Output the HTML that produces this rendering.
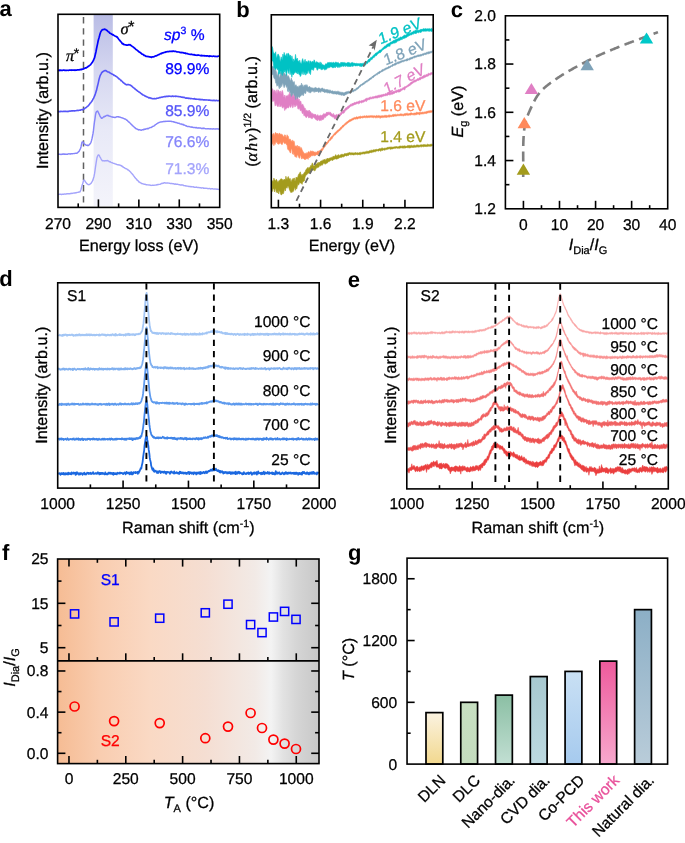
<!DOCTYPE html>
<html><head><meta charset="utf-8"><style>
html,body{margin:0;padding:0;background:#fff;width:685px;height:843px;overflow:hidden}
svg{display:block;will-change:transform} text{text-rendering:geometricPrecision}
</style></head><body>
<svg width="685" height="843" viewBox="0 0 685 843">
<defs><linearGradient id="gband" x1="0" y1="0" x2="0" y2="1"><stop offset="0" stop-color="#b9bce5"/><stop offset="0.3" stop-color="#d5d7f0"/><stop offset="0.6" stop-color="#e8e9f7"/><stop offset="1" stop-color="#f4f4fb"/></linearGradient><linearGradient id="gf" x1="0" y1="0" x2="1" y2="0"><stop offset="0.0000" stop-color="#f6bc94"/><stop offset="0.1622" stop-color="#f9cdb0"/><stop offset="0.3535" stop-color="#fad9c4"/><stop offset="0.5639" stop-color="#f5ded2"/><stop offset="0.7552" stop-color="#f2eae6"/><stop offset="0.8164" stop-color="#f3f3f3"/><stop offset="0.8623" stop-color="#e2e2e2"/><stop offset="0.9158" stop-color="#d5d5d5"/><stop offset="1.0008" stop-color="#c8c8c8"/></linearGradient><linearGradient id="gb0" x1="0" y1="0" x2="0" y2="1"><stop offset="0" stop-color="#fbf3e1"/><stop offset="1" stop-color="#f2d88e"/></linearGradient><linearGradient id="gb1" x1="0" y1="0" x2="0" y2="1"><stop offset="0" stop-color="#c7dfc1"/><stop offset="1" stop-color="#c4dcbe"/></linearGradient><linearGradient id="gb2" x1="0" y1="0" x2="0" y2="1"><stop offset="0" stop-color="#8bbfa4"/><stop offset="1" stop-color="#c2dfd3"/></linearGradient><linearGradient id="gb3" x1="0" y1="0" x2="0" y2="1"><stop offset="0" stop-color="#a7c8cf"/><stop offset="1" stop-color="#bddae1"/></linearGradient><linearGradient id="gb4" x1="0" y1="0" x2="0" y2="1"><stop offset="0" stop-color="#c9e0f4"/><stop offset="1" stop-color="#a6caee"/></linearGradient><linearGradient id="gb5" x1="0" y1="0" x2="0" y2="1"><stop offset="0" stop-color="#ee5a9c"/><stop offset="1" stop-color="#f7a8cd"/></linearGradient><linearGradient id="gb6" x1="0" y1="0" x2="0" y2="1"><stop offset="0" stop-color="#8cafc6"/><stop offset="1" stop-color="#b9ccd9"/></linearGradient></defs>
<rect x="93.6" y="14.3" width="19.2" height="191.6" fill="url(#gband)"/>
<line x1="83.5" y1="17" x2="83.5" y2="206.4" stroke="#606060" stroke-width="1.5" stroke-dasharray="6.4,4.8"/>
<path d="M58,194.4L58.5,194.44 59,194.35 59.5,194.25 60,194.31 60.5,194.21 61,194.35 61.5,194.52 62,194.23 62.5,194.18 63,194.32 63.5,194.27 64,194.2 64.5,194.01 65,194.11 65.5,194.18 66,193.84 66.5,193.93 67,193.68 67.5,193.73 68,193.6 68.5,193.8 69,193.6 69.5,193.79 70,193.72 70.5,193.62 71,193.22 71.5,193.45 72,193.46 72.5,193.41 73,193.09 73.5,193.16 74,193 74.5,192.93 75,193.11 75.5,192.73 76,192.74 76.5,192.77 77,192.44 77.5,192.4 78,192.32 78.5,192.2 79,191.89 79.5,191.93 80,191.9 80.5,190.69 81,189.53 81.5,187.53 82,185.55 82.5,184.4 83,182.5 83.5,180.67 84,180.04 84.5,180.35 85,181.05 85.5,182.1 86,182.6 86.5,183.24 87,183.87 87.5,184 88,184.49 88.5,184.59 89,184.7 89.5,184.34 90,184.12 90.5,183.74 91,183.37 91.5,182.82 92,181.77 92.5,180.89 93,179.86 93.5,177.96 94,176.43 94.5,173.9 95,170.6 95.5,166.9 96,163.65 96.5,160.48 97,157.71 97.5,156.33 98,155.31 98.5,154.9 99,155.13 99.5,155.91 100,157.02 100.5,157.78 101,158.76 101.5,159.52 102,160.46 102.5,160.82 103,160.8 103.5,160.9 104,160.75 104.5,160.96 105,160.8 105.5,160.89 106,160.61 106.5,160.85 107,160.55 107.5,160.55 108,160.92 108.5,161 109,161.37 109.5,161.91 110,161.69 110.5,161.97 111,162.33 111.5,162.57 112,162.67 112.5,162.86 113,163.2 113.5,163.37 114,163.34 114.5,163.68 115,163.89 115.5,163.91 116,164.27 116.5,164.26 117,164.67 117.5,164.68 118,164.78 118.5,164.79 119,164.99 119.5,164.84 120,165.13 120.5,165.53 121,165.39 121.5,166.11 122,166.02 122.5,166.72 123,166.81 123.5,167.38 124,167.59 124.5,167.62 125,168.3 125.5,168.56 126,168.58 126.5,168.8 127,169.09 127.5,169.29 128,169.96 128.5,170.11 129,170.62 129.5,170.97 130,171.48 130.5,171.88 131,172.77 131.5,173.08 132,173.82 132.5,174.29 133,174.84 133.5,175.56 134,176.21 134.5,176.97 135,177.56 135.5,178.19 136,178.59 136.5,179.2 137,180.1 137.5,180.28 138,180.74 138.5,181.44 139,182.06 139.5,182.04 140,182.58 140.5,182.81 141,182.87 141.5,183.45 142,183.53 142.5,183.72 143,183.76 143.5,184.09 144,184.08 144.5,184.27 145,184.24 145.5,184.33 146,184.8 146.5,184.61 147,184.8 147.5,184.83 148,184.84 148.5,184.91 149,185.14 149.5,185.06 150,185.14 150.5,185.22 151,185.43 151.5,185.38 152,185.35 152.5,185.22 153,185.08 153.5,185.4 154,185.36 154.5,185.14 155,185.17 155.5,185.13 156,185.05 156.5,184.97 157,184.67 157.5,184.86 158,184.34 158.5,184.55 159,184.38 159.5,184.33 160,184.38 160.5,184.2 161,183.65 161.5,183.4 162,183.6 162.5,183.16 163,183.17 163.5,183.19 164,182.76 164.5,182.68 165,183.05 165.5,183.03 166,183.01 166.5,183.08 167,182.98 167.5,182.92 168,183.17 168.5,183.09 169,183.04 169.5,183.42 170,183.39 170.5,183.52 171,183.37 171.5,183.48 172,183.5 172.5,183.57 173,183.8 173.5,183.71 174,183.94 174.5,184 175,184.31 175.5,183.87 176,184.28 176.5,184.21 177,184.3 177.5,184.17 178,184.4 178.5,184.67 179,184.63 179.5,184.74 180,184.78 180.5,185.09 181,185.01 181.5,184.77 182,185.09 182.5,185 183,184.9 183.5,185.4 184,185.77 184.5,185.67 185,185.58 185.5,185.7 186,186.1 186.5,186.04 187,186.11 187.5,186.17 188,186.26 188.5,186.45 189,186.48 189.5,186.5 190,186.38 190.5,186.68 191,186.56 191.5,186.89 192,186.6 192.5,186.83 193,186.91 193.5,186.78 194,187.29 194.5,187.31 195,187.08 195.5,187.33 196,187.33 196.5,186.93 197,187.42 197.5,187.43 198,187.5 198.5,187.38 199,187.56 199.5,187.63 200,187.88 200.5,187.81 201,187.81 201.5,188.09 202,187.83 202.5,187.9 203,187.74 203.5,188.3 204,188.25 204.5,188.3 205,188.31 205.5,188.27 206,188.34 206.5,188.31 207,188.37 207.5,188.45 208,188.72 208.5,188.62 209,188.57 209.5,188.54 210,188.58 210.5,188.96 211,188.84 211.5,188.81 212,188.79 212.5,188.72 213,188.92 213.5,189.1 214,188.96 214.5,189.02 215,189.06 215.5,189.15 216,188.94 216.5,189.18 217,189.12 217.5,189.42 218,189.21 218.5,189.45 219,189.63" fill="none" stroke="#a4a4fb" stroke-width="1.4" stroke-linejoin="round"/>
<path d="M58,154.25L58.5,154.21 59,154.33 59.5,154.29 60,154.14 60.5,154.35 61,154.57 61.5,154.22 62,154.21 62.5,154.07 63,154.26 63.5,154.01 64,154.02 64.5,154.36 65,154.01 65.5,154.29 66,154.33 66.5,154.12 67,154.14 67.5,154.32 68,153.98 68.5,153.89 69,153.75 69.5,153.93 70,154.12 70.5,154.01 71,153.7 71.5,153.67 72,153.69 72.5,153.76 73,153.63 73.5,153.64 74,153.59 74.5,153.43 75,153.38 75.5,153.33 76,153.19 76.5,153.14 77,153.16 77.5,152.72 78,152.32 78.5,151.69 79,151.56 79.5,150.49 80,149.46 80.5,148.47 81,146.92 81.5,144.45 82,142.18 82.5,141.95 83,142 83.5,142.45 84,143.58 84.5,144.22 85,144.47 85.5,144.71 86,145.12 86.5,145.29 87,145.27 87.5,145.52 88,145.27 88.5,145.4 89,145.03 89.5,144.57 90,143.77 90.5,143.28 91,142.2 91.5,140.63 92,138.68 92.5,136.27 93,133.64 93.5,130.15 94,125.59 94.5,121.69 95,118.54 95.5,114.9 96,112.55 96.5,111.64 97,111.3 97.5,111.04 98,111.74 98.5,112.75 99,113.8 99.5,114.82 100,116.08 100.5,117 101,117.42 101.5,118.29 102,118.12 102.5,117.99 103,117.38 103.5,117 104,116.5 104.5,116.78 105,116.16 105.5,116.22 106,115.69 106.5,115.65 107,115.28 107.5,115.44 108,115.71 108.5,115.51 109,116.05 109.5,116.16 110,116.18 110.5,116.49 111,116.69 111.5,116.89 112,116.94 112.5,117.01 113,117.2 113.5,117.19 114,117.23 114.5,117.47 115,117.63 115.5,117.18 116,117.2 116.5,116.86 117,116.61 117.5,116.83 118,116.66 118.5,117.04 119,116.82 119.5,117.13 120,117.19 120.5,117.27 121,117.62 121.5,117.65 122,117.92 122.5,117.99 123,118.02 123.5,118.35 124,118.58 124.5,118.94 125,118.9 125.5,119.29 126,119.35 126.5,120.07 127,120.22 127.5,120.55 128,121.27 128.5,121.91 129,121.97 129.5,122.5 130,123.04 130.5,123.48 131,124.21 131.5,124.53 132,125.03 132.5,125.7 133,125.95 133.5,126.6 134,126.87 134.5,127.28 135,127.61 135.5,128.53 136,128.5 136.5,128.83 137,129.02 137.5,129.28 138,129.48 138.5,129.95 139,129.67 139.5,129.72 140,129.9 140.5,129.9 141,130.21 141.5,130.18 142,129.85 142.5,129.7 143,129.75 143.5,129.89 144,129.13 144.5,129.5 145,129.14 145.5,129.33 146,128.89 146.5,128.89 147,128.58 147.5,128.52 148,128.73 148.5,128.49 149,128.15 149.5,127.91 150,127.58 150.5,127.62 151,127.48 151.5,127.25 152,127 152.5,126.56 153,126.4 153.5,126.08 154,125.94 154.5,125.68 155,125.04 155.5,124.63 156,124.43 156.5,124.03 157,123.67 157.5,123.43 158,122.95 158.5,122.9 159,122.52 159.5,122.37 160,122.17 160.5,122 161,121.88 161.5,121.91 162,121.78 162.5,121.83 163,121.73 163.5,121.46 164,121.61 164.5,121.35 165,121.41 165.5,121.41 166,121.11 166.5,121.4 167,121.38 167.5,121.31 168,121.25 168.5,121.25 169,121.15 169.5,121.26 170,121.24 170.5,121.37 171,121.23 171.5,121.52 172,121.58 172.5,121.64 173,121.69 173.5,121.96 174,121.75 174.5,122.19 175,122.29 175.5,122.44 176,122.59 176.5,122.58 177,122.78 177.5,123.06 178,123.17 178.5,123.27 179,123.15 179.5,123.59 180,123.83 180.5,123.96 181,124.01 181.5,123.91 182,124.46 182.5,124.48 183,124.31 183.5,124.93 184,124.84 184.5,125.06 185,125.34 185.5,125.8 186,125.73 186.5,125.99 187,126.37 187.5,126.49 188,126.36 188.5,126.46 189,126.41 189.5,126.59 190,126.85 190.5,126.93 191,126.98 191.5,127.2 192,127.02 192.5,127.21 193,127.41 193.5,127.47 194,127.62 194.5,127.59 195,127.56 195.5,127.73 196,127.59 196.5,127.56 197,127.96 197.5,127.93 198,128.04 198.5,127.8 199,128.05 199.5,128.07 200,128.08 200.5,127.92 201,128.25 201.5,128.47 202,128.44 202.5,128.32 203,128.45 203.5,128.59 204,128.09 204.5,128.51 205,128.64 205.5,128.69 206,128.86 206.5,128.8 207,128.7 207.5,128.73 208,128.82 208.5,128.65 209,128.74 209.5,128.91 210,129.09 210.5,128.79 211,128.83 211.5,128.88 212,129.07 212.5,128.88 213,129.12 213.5,128.77 214,128.9 214.5,128.91 215,129.07 215.5,129.12 216,128.75 216.5,128.84 217,129.04 217.5,128.89 218,128.77 218.5,129.16 219,129.07" fill="none" stroke="#8585fa" stroke-width="1.45" stroke-linejoin="round"/>
<path d="M58,111.67L58.5,111.52 59,111.74 59.5,111.53 60,111.72 60.5,111.41 61,111.4 61.5,111.54 62,111.39 62.5,111.58 63,111.49 63.5,111.3 64,111.42 64.5,111.34 65,111.5 65.5,111.25 66,111.25 66.5,111.47 67,111.6 67.5,111.54 68,111.22 68.5,111.22 69,111.39 69.5,111.11 70,110.95 70.5,111.09 71,111.11 71.5,110.89 72,110.74 72.5,110.74 73,111.02 73.5,110.77 74,110.83 74.5,110.84 75,110.87 75.5,110.68 76,110.76 76.5,110.51 77,110.53 77.5,110.38 78,110.65 78.5,110.41 79,110.24 79.5,110.22 80,110.17 80.5,110.21 81,109.74 81.5,109.68 82,109.6 82.5,109.85 83,109.4 83.5,109.02 84,108.91 84.5,108.85 85,108.2 85.5,107.84 86,107.7 86.5,107.2 87,106.8 87.5,106.18 88,106.08 88.5,105.56 89,104.87 89.5,104.33 90,103.35 90.5,103.13 91,102.35 91.5,101.76 92,101.06 92.5,100.13 93,99.11 93.5,98.49 94,97.28 94.5,96.18 95,94.87 95.5,93.53 96,91.72 96.5,90.37 97,88.1 97.5,86.03 98,84.08 98.5,81.83 99,79.53 99.5,77.73 100,76.03 100.5,74.92 101,74.04 101.5,72.88 102,72.53 102.5,71.71 103,71.61 103.5,71.24 104,70.94 104.5,70.78 105,70.62 105.5,70.64 106,70.59 106.5,71.02 107,71.52 107.5,71.77 108,71.9 108.5,72.05 109,72.12 109.5,72.74 110,72.84 110.5,73.17 111,73.45 111.5,73.81 112,74.02 112.5,74.34 113,74.45 113.5,74.81 114,75.47 114.5,75.38 115,75.63 115.5,76.04 116,76.37 116.5,76.44 117,76.95 117.5,77.53 118,77.86 118.5,78.27 119,78.93 119.5,79.03 120,79.57 120.5,79.93 121,80.69 121.5,80.63 122,81.29 122.5,81.77 123,82.39 123.5,82.8 124,83.32 124.5,83.24 125,83.98 125.5,84.22 126,84.49 126.5,84.86 127,84.66 127.5,84.49 128,84.74 128.5,84.58 129,84.7 129.5,84.86 130,84.92 130.5,85.39 131,85.54 131.5,85.83 132,86.45 132.5,86.88 133,87.22 133.5,87.85 134,88.08 134.5,88.26 135,89.04 135.5,89.31 136,89.76 136.5,90.1 137,90.56 137.5,90.84 138,91.39 138.5,91.64 139,92.01 139.5,92.39 140,92.49 140.5,93.07 141,93.44 141.5,93.89 142,94.02 142.5,94.81 143,94.92 143.5,95.03 144,95.24 144.5,95.71 145,95.99 145.5,96.14 146,96.49 146.5,96.6 147,97 147.5,97.01 148,97.3 148.5,97.64 149,98.05 149.5,97.67 150,97.9 150.5,97.99 151,98.38 151.5,98.24 152,98.48 152.5,98.68 153,98.64 153.5,98.71 154,98.83 154.5,98.58 155,98.64 155.5,98.72 156,98.71 156.5,98.54 157,98.17 157.5,98.22 158,98.26 158.5,98.07 159,97.84 159.5,97.58 160,97.69 160.5,97.4 161,97.2 161.5,97.13 162,97.34 162.5,97.03 163,97.05 163.5,96.69 164,96.8 164.5,96.48 165,96.47 165.5,96.81 166,96.52 166.5,96.3 167,96.34 167.5,96.39 168,96.5 168.5,96.23 169,96.02 169.5,96.23 170,96.26 170.5,96.26 171,96.43 171.5,96.27 172,96.34 172.5,96.04 173,96.33 173.5,96.52 174,96.32 174.5,96.24 175,96.24 175.5,96.51 176,96.13 176.5,96.29 177,96.42 177.5,96.52 178,96.4 178.5,96.58 179,96.56 179.5,96.7 180,96.74 180.5,96.67 181,96.93 181.5,97.15 182,96.97 182.5,97.17 183,97.4 183.5,97.24 184,97.52 184.5,97.42 185,97.85 185.5,98.11 186,98.16 186.5,97.91 187,98.13 187.5,98.12 188,98.19 188.5,98.47 189,98.1 189.5,98.52 190,98.41 190.5,98.69 191,98.56 191.5,98.49 192,98.69 192.5,98.82 193,98.77 193.5,98.89 194,98.8 194.5,98.61 195,99.12 195.5,99.14 196,99.11 196.5,99.15 197,99.35 197.5,99.18 198,99.19 198.5,99.32 199,99.57 199.5,99.23 200,99.67 200.5,99.44 201,99.41 201.5,99.81 202,99.64 202.5,99.5 203,99.68 203.5,99.91 204,99.99 204.5,99.78 205,99.94 205.5,100.02 206,99.85 206.5,100.03 207,100 207.5,99.96 208,100 208.5,100.11 209,100.14 209.5,100.08 210,100.13 210.5,100.39 211,100.28 211.5,100.41 212,100.49 212.5,100.42 213,100.7 213.5,100.26 214,100.53 214.5,100.38 215,100.73 215.5,100.73 216,100.2 216.5,100.37 217,100.63 217.5,100.67 218,100.68 218.5,100.57 219,100.67" fill="none" stroke="#5555f8" stroke-width="1.6" stroke-linejoin="round"/>
<path d="M58,70.5L58.5,70.39 59,70.55 59.5,70.05 60,70.48 60.5,70.23 61,70.52 61.5,70.33 62,70.23 62.5,70.41 63,70.21 63.5,70.2 64,70.09 64.5,70.32 65,70.39 65.5,70.45 66,70.27 66.5,70.44 67,70.27 67.5,70.24 68,70.33 68.5,70.39 69,70.17 69.5,70.18 70,70.18 70.5,70.2 71,70.04 71.5,70.32 72,70.09 72.5,70.21 73,70 73.5,70.17 74,70.16 74.5,70.02 75,70.37 75.5,70.1 76,70.3 76.5,70.15 77,69.89 77.5,69.9 78,70 78.5,69.91 79,69.88 79.5,69.79 80,69.53 80.5,69.71 81,69.33 81.5,69.61 82,69.32 82.5,69.18 83,69.1 83.5,69.01 84,68.59 84.5,68.35 85,68.24 85.5,67.85 86,67.75 86.5,67.84 87,67.14 87.5,67.08 88,66.44 88.5,66.33 89,65.86 89.5,65.48 90,65.13 90.5,64.82 91,64.06 91.5,63.47 92,62.66 92.5,62.13 93,61.12 93.5,60.27 94,58.98 94.5,57.94 95,55.75 95.5,53.81 96,51.48 96.5,48.75 97,46.33 97.5,44.07 98,41.54 98.5,39.49 99,37.81 99.5,35.92 100,33.96 100.5,32.5 101,31.35 101.5,30.75 102,30.04 102.5,29.7 103,29.65 103.5,29.48 104,29.25 104.5,29.21 105,29.3 105.5,29.64 106,29.67 106.5,30.39 107,30.46 107.5,30.96 108,31.58 108.5,31.92 109,32.05 109.5,32.81 110,33.28 110.5,33.36 111,33.65 111.5,34.07 112,34.14 112.5,34.87 113,34.56 113.5,35.02 114,35.41 114.5,35.67 115,35.95 115.5,36.19 116,36.37 116.5,36.87 117,36.74 117.5,37.56 118,38.07 118.5,38.88 119,39.57 119.5,40.03 120,40.64 120.5,41.43 121,41.95 121.5,42.36 122,43.29 122.5,43.78 123,43.57 123.5,44.1 124,44.68 124.5,44.65 125,44.78 125.5,44.88 126,44.95 126.5,45.06 127,45.01 127.5,45.16 128,44.91 128.5,44.83 129,44.65 129.5,44.79 130,44.72 130.5,45.03 131,45.53 131.5,45.8 132,46.22 132.5,46.58 133,46.89 133.5,47.25 134,47.63 134.5,48.21 135,48.37 135.5,49.17 136,49.41 136.5,49.72 137,50.17 137.5,50.53 138,51.06 138.5,51.33 139,52 139.5,52.11 140,52.27 140.5,52.87 141,53.02 141.5,53.65 142,54.12 142.5,54.35 143,54.34 143.5,54.71 144,55.37 144.5,55.41 145,55.6 145.5,55.98 146,56.38 146.5,56.37 147,56.33 147.5,56.51 148,56.68 148.5,56.62 149,56.67 149.5,56.94 150,56.87 150.5,57.06 151,57.11 151.5,57.44 152,56.92 152.5,56.96 153,56.85 153.5,56.81 154,56.76 154.5,56.38 155,56.17 155.5,55.88 156,55.83 156.5,55.86 157,55.57 157.5,55.17 158,55.02 158.5,54.82 159,54.63 159.5,54.23 160,54.06 160.5,53.62 161,53.52 161.5,53.73 162,52.96 162.5,53.04 163,52.94 163.5,52.67 164,52.45 164.5,52.42 165,52.3 165.5,52.17 166,51.78 166.5,51.93 167,51.7 167.5,51.64 168,51.65 168.5,51.62 169,51.57 169.5,51.28 170,51.43 170.5,51.42 171,51.38 171.5,51.41 172,51.18 172.5,51.19 173,51.37 173.5,51.08 174,51.37 174.5,51.31 175,51.4 175.5,51.27 176,51.47 176.5,51.69 177,51.91 177.5,52.01 178,51.94 178.5,52.02 179,52.02 179.5,52.3 180,52.29 180.5,52.51 181,52.77 181.5,52.58 182,52.44 182.5,52.62 183,52.61 183.5,52.74 184,53.21 184.5,53.14 185,52.98 185.5,53.4 186,53.59 186.5,53.45 187,53.5 187.5,53.65 188,53.84 188.5,53.99 189,54.17 189.5,54.27 190,54.36 190.5,54.47 191,54.46 191.5,54.21 192,54.5 192.5,54.65 193,54.61 193.5,54.87 194,54.75 194.5,54.72 195,55.13 195.5,55.07 196,55.06 196.5,55.22 197,55.3 197.5,55.24 198,54.87 198.5,55.19 199,55.27 199.5,55.24 200,55.46 200.5,55.65 201,55.45 201.5,55.39 202,55.91 202.5,55.57 203,55.49 203.5,55.75 204,55.81 204.5,55.68 205,55.94 205.5,55.78 206,55.74 206.5,55.93 207,56.05 207.5,55.86 208,56.04 208.5,56 209,56.46 209.5,55.96 210,56.3 210.5,56.11 211,56.12 211.5,56.27 212,56.32 212.5,56.39 213,56.27 213.5,56.16 214,56.18 214.5,56.36 215,56.39 215.5,56.53 216,56.4 216.5,56.51 217,56.59 217.5,56.4 218,56.16 218.5,56.21 219,56.18" fill="none" stroke="#0000ff" stroke-width="1.7" stroke-linejoin="round"/>
<rect x="58" y="14.3" width="161.7" height="193.1" fill="none" stroke="#000" stroke-width="1.6"/>
<line x1="78.21" y1="207.4" x2="78.21" y2="203.4" stroke="#000" stroke-width="1.6" />
<line x1="98.42" y1="207.4" x2="98.42" y2="199.4" stroke="#000" stroke-width="1.6" />
<line x1="118.64" y1="207.4" x2="118.64" y2="203.4" stroke="#000" stroke-width="1.6" />
<line x1="138.85" y1="207.4" x2="138.85" y2="199.4" stroke="#000" stroke-width="1.6" />
<line x1="159.06" y1="207.4" x2="159.06" y2="203.4" stroke="#000" stroke-width="1.6" />
<line x1="179.28" y1="207.4" x2="179.28" y2="199.4" stroke="#000" stroke-width="1.6" />
<line x1="199.49" y1="207.4" x2="199.49" y2="203.4" stroke="#000" stroke-width="1.6" />
<text x="58" y="228.6" font-family='"Liberation Sans", sans-serif' font-size="15.6" text-anchor="middle" fill="#000" font-weight="normal" font-style="normal"  stroke="#000" stroke-width="0.28">270</text>
<text x="98.42" y="228.6" font-family='"Liberation Sans", sans-serif' font-size="15.6" text-anchor="middle" fill="#000" font-weight="normal" font-style="normal"  stroke="#000" stroke-width="0.28">290</text>
<text x="138.85" y="228.6" font-family='"Liberation Sans", sans-serif' font-size="15.6" text-anchor="middle" fill="#000" font-weight="normal" font-style="normal"  stroke="#000" stroke-width="0.28">310</text>
<text x="179.28" y="228.6" font-family='"Liberation Sans", sans-serif' font-size="15.6" text-anchor="middle" fill="#000" font-weight="normal" font-style="normal"  stroke="#000" stroke-width="0.28">330</text>
<text x="219.7" y="228.6" font-family='"Liberation Sans", sans-serif' font-size="15.6" text-anchor="middle" fill="#000" font-weight="normal" font-style="normal"  stroke="#000" stroke-width="0.28">350</text>
<text x="138.8" y="250.8" font-family='"Liberation Sans", sans-serif' font-size="16.2" text-anchor="middle" fill="#000" font-weight="normal" font-style="normal"  stroke="#000" stroke-width="0.28">Energy loss (eV)</text>
<text x="47.5" y="110.5" font-family='"Liberation Sans", sans-serif' font-size="16.2" text-anchor="middle" fill="#000" font-weight="normal" font-style="normal" transform="rotate(-90 47.5 110.5)" dominant-baseline="auto" stroke="#000" stroke-width="0.28">Intensity (arb.u.)</text>
<text x="164" y="39.5" font-family='"Liberation Sans", sans-serif' font-size="15.6" fill="#0000ff" stroke="#0000ff" stroke-width="0.28"><tspan font-style="italic">sp</tspan><tspan font-size="10.5" dy="-5.5">3</tspan><tspan dy="5.5"> %</tspan></text>
<text x="165.2" y="73.6" font-family='"Liberation Sans", sans-serif' font-size="15.6" text-anchor="start" fill="#0000ff" font-weight="normal" font-style="normal"  stroke="#0000ff" stroke-width="0.28">89.9%</text>
<text x="165.2" y="116" font-family='"Liberation Sans", sans-serif' font-size="15.6" text-anchor="start" fill="#5555f8" font-weight="normal" font-style="normal"  stroke="#5555f8" stroke-width="0.28">85.9%</text>
<text x="165.2" y="146.7" font-family='"Liberation Sans", sans-serif' font-size="15.6" text-anchor="start" fill="#8585fa" font-weight="normal" font-style="normal"  stroke="#8585fa" stroke-width="0.28">76.6%</text>
<text x="165.2" y="174.4" font-family='"Liberation Sans", sans-serif' font-size="15.6" text-anchor="start" fill="#a4a4fb" font-weight="normal" font-style="normal"  stroke="#a4a4fb" stroke-width="0.28">71.3%</text>
<text x="66" y="61" font-family='"Liberation Serif", serif' font-size="16.5" font-style="italic" fill="#000" stroke="#000" stroke-width="0.28">π<tspan font-family='"Liberation Sans", sans-serif' font-style="normal" font-size="14" dx="-0.5" dy="-3">*</tspan></text>
<text x="120.5" y="34.3" font-family='"Liberation Serif", serif' font-size="16.5" font-style="italic" fill="#000" stroke="#000" stroke-width="0.28">σ<tspan font-family='"Liberation Sans", sans-serif' font-style="normal" font-size="16" dx="-0.3" dy="-2">*</tspan></text>
<text x="-0.4" y="16.3" font-family='"Liberation Sans", sans-serif' font-size="22" text-anchor="start" fill="#000" font-weight="bold" font-style="normal" >a</text>
<path d="M272.1,181.92 L272.7,180.57 L273.3,181.76 L273.9,178.09 L274.5,179.75 L275.1,180.28 L275.7,181.02 L276.3,179.15 L276.9,180.25 L277.5,181.8 L278.1,182.53 L278.7,180.97 L279.3,180.22 L279.9,180.72 L280.5,178.96 L281.1,178.99 L281.7,178.84 L282.3,179.32 L282.9,180.51 L283.5,179.74 L284.1,179.74 L284.7,179.12 L285.3,180.29 L285.9,176.19 L286.5,178.51 L287.1,179.4 L287.7,177.4 L288.3,176.52 L288.9,178.34 L289.5,179.23 L290.1,178.36 L290.7,181.04 L291.3,182 L291.9,179.49 L292.5,179.82 L293.1,178.18 L293.7,180.01 L294.3,177.87 L294.9,180.94 L295.5,180.31 L296.1,176.97 L296.7,177.95 L297.3,177.78 L297.9,176.47 L298.5,174.38 L299.1,173.94 L299.7,172.91 L300.3,171.84 L300.9,174.59 L301.5,175.64 L302.1,174.09 L302.7,175.98 L303.3,173.93 L303.9,173.33 L304.5,172.18 L305.1,172.34 L305.7,170.09 L306.3,169.36 L306.9,168.52 L307.5,167.5 L308.1,168.64 L308.7,167.46 L309.3,167.59 L309.9,167.75 L310.5,165.65 L311.1,165.65 L311.7,164.84 L312.3,162.83 L312.9,164.39 L313.5,166.07 L314.1,166.12 L314.7,165.47 L315.3,164.75 L315.9,163.88 L316.5,164.1 L317.1,163.56 L317.7,162.63 L318.3,163.6 L318.9,162 L319.5,162.85 L320.1,162.16 L320.7,161.03 L321.3,160.83 L321.9,160.99 L322.5,160.86 L323.1,159.66 L323.7,160.35 L324.3,159.15 L324.9,160.05 L325.5,160.26 L326.1,158.78 L326.7,159.66 L327.3,158.07 L327.9,159.05 L328.5,158.66 L329.1,157.98 L329.7,158.13 L330.3,157.75 L330.9,157.9 L331.5,157.26 L332.1,157.57 L332.7,157.09 L333.3,155.95 L333.9,156.62 L334.5,156.45 L335.1,155.75 L335.7,154.6 L336.3,156.02 L336.9,155.83 L337.5,155.33 L338.1,155.16 L338.7,154.48 L339.3,155.67 L339.9,155.51 L340.5,154.7 L341.1,154.62 L341.7,154.28 L342.3,154.27 L342.9,154.5 L343.5,154.64 L344.1,153.67 L344.7,153.7 L345.3,153.66 L345.9,153.4 L346.5,153.53 L347.1,153.42 L347.7,153.06 L348.3,153.02 L348.9,152.73 L349.5,152.49 L350.1,152.56 L350.7,152.95 L351.3,152.96 L351.9,152.51 L352.5,152.94 L353.1,152.61 L353.7,153.18 L354.3,152.89 L354.9,152.84 L355.5,152.6 L356.1,152.55 L356.7,153.14 L357.3,152.76 L357.9,152.75 L358.5,153.11 L359.1,152.51 L359.7,152.66 L360.3,152.25 L360.9,152.78 L361.5,152.39 L362.1,152.44 L362.7,152.06 L363.3,151.97 L363.9,151.93 L364.5,151.97 L365.1,151.72 L365.7,151.72 L366.3,151.19 L366.9,151.43 L367.5,151.31 L368.1,151.37 L368.7,151.25 L369.3,150.56 L369.9,150.96 L370.5,150.39 L371.1,150.49 L371.7,150.05 L372.3,150.58 L372.9,149.83 L373.5,149.84 L374.1,149.88 L374.7,149.64 L375.3,149.51 L375.9,149.61 L376.5,149.34 L377.1,149.55 L377.7,149.6 L378.3,148.96 L378.9,149.02 L379.5,148.56 L380.1,148.98 L380.7,148.43 L381.3,148.18 L381.9,148.15 L382.5,147.99 L383.1,148.54 L383.7,148.43 L384.3,148.28 L384.9,148.07 L385.5,148.17 L386.1,148.05 L386.7,148.06 L387.3,147.22 L387.9,147.6 L388.5,147.3 L389.1,147.35 L389.7,147.04 L390.3,146.91 L390.9,147.18 L391.5,146.99 L392.1,147.28 L392.7,147.07 L393.3,147.06 L393.9,146.94 L394.5,146.87 L395.1,146.62 L395.7,146.76 L396.3,146.72 L396.9,146.27 L397.5,146.88 L398.1,146.84 L398.7,146.76 L399.3,146.06 L399.9,146.21 L400.5,146.09 L401.1,145.87 L401.7,146.43 L402.3,145.82 L402.9,146.33 L403.5,146.07 L404.1,145.9 L404.7,145.76 L405.3,146.17 L405.9,145.95 L406.5,146.26 L407.1,146.02 L407.7,145.42 L408.3,145.44 L408.9,145.67 L409.5,145.46 L410.1,145.33 L410.7,145.76 L411.3,145.2 L411.9,145.6 L412.5,145.8 L413.1,145.46 L413.7,145.38 L414.3,145.26 L414.9,145.25 L415.5,145.72 L416.1,145.2 L416.7,144.94 L417.3,145.11 L417.9,144.83 L418.5,145.17 L419.1,144.89 L419.7,145.39 L420.3,144.74 L420.9,145.08 L421.5,144.68 L422.1,145.09 L422.7,144.81 L423.3,144.59 L423.9,144.65 L424.5,144.69 L425.1,144.36 L425.7,145.03 L426.3,144.98 L426.9,144.57 L427.5,144.2 L428.1,144.37 L428.7,144.63 L429.3,144.75 L429.9,144.42 L430.5,144.35 L431.1,144.31 L431.7,144.14 L432.3,144.38 L432.3,145.75 L431.7,145.94 L431.1,146.33 L430.5,146.3 L429.9,146.34 L429.3,146.3 L428.7,146.22 L428.1,146.29 L427.5,146.53 L426.9,146.27 L426.3,146.63 L425.7,146.37 L425.1,146.99 L424.5,146.29 L423.9,146.68 L423.3,146.71 L422.7,146.58 L422.1,146.5 L421.5,146.96 L420.9,146.56 L420.3,146.79 L419.7,146.69 L419.1,147.17 L418.5,147.12 L417.9,146.87 L417.3,147.1 L416.7,147.15 L416.1,146.87 L415.5,147.35 L414.9,147.14 L414.3,147.35 L413.7,147.45 L413.1,147.39 L412.5,147.47 L411.9,147.58 L411.3,147.26 L410.7,147.91 L410.1,147.63 L409.5,147.92 L408.9,147.65 L408.3,147.7 L407.7,147.52 L407.1,148.05 L406.5,147.41 L405.9,147.88 L405.3,147.91 L404.7,148.14 L404.1,147.57 L403.5,148.23 L402.9,148.08 L402.3,148.01 L401.7,147.74 L401.1,148.1 L400.5,147.99 L399.9,147.99 L399.3,148.44 L398.7,148.11 L398.1,148.55 L397.5,148.29 L396.9,148.1 L396.3,148.12 L395.7,148.18 L395.1,148.5 L394.5,148.28 L393.9,148.58 L393.3,148.4 L392.7,149.05 L392.1,148.92 L391.5,148.97 L390.9,149.09 L390.3,149.41 L389.7,148.86 L389.1,148.84 L388.5,148.98 L387.9,149.07 L387.3,149.38 L386.7,149.62 L386.1,149.52 L385.5,149.8 L384.9,150.05 L384.3,150.28 L383.7,149.75 L383.1,150.21 L382.5,150.51 L381.9,150.39 L381.3,150.23 L380.7,151.41 L380.1,150.52 L379.5,150.4 L378.9,151.07 L378.3,151.13 L377.7,150.76 L377.1,151.12 L376.5,151.11 L375.9,151.49 L375.3,151.83 L374.7,151.5 L374.1,152.14 L373.5,151.9 L372.9,151.85 L372.3,152.44 L371.7,152.54 L371.1,152.79 L370.5,152.38 L369.9,152.65 L369.3,153.24 L368.7,153.28 L368.1,153.26 L367.5,153.18 L366.9,153.54 L366.3,153.31 L365.7,153.59 L365.1,153.68 L364.5,154 L363.9,153.74 L363.3,153.82 L362.7,154.02 L362.1,153.91 L361.5,154.11 L360.9,154.54 L360.3,154.79 L359.7,154.41 L359.1,154.94 L358.5,154.53 L357.9,154.85 L357.3,154.71 L356.7,154.38 L356.1,154.43 L355.5,154.61 L354.9,155.04 L354.3,154.51 L353.7,154.91 L353.1,154.93 L352.5,154.64 L351.9,155.11 L351.3,154.59 L350.7,154.9 L350.1,154.57 L349.5,154.57 L348.9,155.24 L348.3,155.39 L347.7,155.13 L347.1,155.88 L346.5,155.97 L345.9,155.64 L345.3,155.67 L344.7,156.18 L344.1,156.48 L343.5,156.95 L342.9,156.78 L342.3,156.97 L341.7,157.37 L341.1,157.55 L340.5,157.23 L339.9,157.91 L339.3,157.61 L338.7,158.47 L338.1,158.07 L337.5,159.02 L336.9,158.95 L336.3,159.16 L335.7,159.01 L335.1,158.63 L334.5,159.15 L333.9,159.2 L333.3,160.08 L332.7,160.28 L332.1,160.72 L331.5,159.76 L330.9,160.24 L330.3,160.84 L329.7,161.08 L329.1,161.85 L328.5,161.42 L327.9,162.57 L327.3,162.94 L326.7,162.93 L326.1,163.83 L325.5,164.07 L324.9,163.59 L324.3,163.77 L323.7,163.37 L323.1,163.5 L322.5,165.17 L321.9,164.87 L321.3,165.31 L320.7,165.9 L320.1,165.52 L319.5,165.62 L318.9,167.23 L318.3,167.12 L317.7,167.81 L317.1,167.58 L316.5,168 L315.9,168.79 L315.3,170.33 L314.7,171.04 L314.1,170.46 L313.5,170 L312.9,170.49 L312.3,170.37 L311.7,170.87 L311.1,171.73 L310.5,172.85 L309.9,172.88 L309.3,172.69 L308.7,173.1 L308.1,173.2 L307.5,173.89 L306.9,174.57 L306.3,175.16 L305.7,175.75 L305.1,176.92 L304.5,180.8 L303.9,181.03 L303.3,181.68 L302.7,181.64 L302.1,184.41 L301.5,183.32 L300.9,183.21 L300.3,182.94 L299.7,182.07 L299.1,184.08 L298.5,185.22 L297.9,183.47 L297.3,186.62 L296.7,189.06 L296.1,187.03 L295.5,190.27 L294.9,187.55 L294.3,188.13 L293.7,190.85 L293.1,191.74 L292.5,191.34 L291.9,192.65 L291.3,191.97 L290.7,192.41 L290.1,191.12 L289.5,189.95 L288.9,187.89 L288.3,186.29 L287.7,186.1 L287.1,188.28 L286.5,187.57 L285.9,188.34 L285.3,191.04 L284.7,188.22 L284.1,190.85 L283.5,193.62 L282.9,193.85 L282.3,193.49 L281.7,194.76 L281.1,194.98 L280.5,193.73 L279.9,190.84 L279.3,190.98 L278.7,194.02 L278.1,189.46 L277.5,192.93 L276.9,190.14 L276.3,192.49 L275.7,189.19 L275.1,188.52 L274.5,191.97 L273.9,189.49 L273.3,188.59 L272.7,189.41 L272.1,191.69Z" fill="#a39b1c" stroke="#a39b1c" stroke-width="0.6" stroke-linejoin="round"/>
<path d="M272.1,133.94 L272.7,137.04 L273.3,133.22 L273.9,133.78 L274.5,135.94 L275.1,132.87 L275.7,132.49 L276.3,133.14 L276.9,133.95 L277.5,133.14 L278.1,134.71 L278.7,133.86 L279.3,133.22 L279.9,133.34 L280.5,134.57 L281.1,133.93 L281.7,134.38 L282.3,134.54 L282.9,135.56 L283.5,136.44 L284.1,136.73 L284.7,134.77 L285.3,135.02 L285.9,137.27 L286.5,137.38 L287.1,134.74 L287.7,136.36 L288.3,136.29 L288.9,139.42 L289.5,139.33 L290.1,138.93 L290.7,140.06 L291.3,142.1 L291.9,140.46 L292.5,140.16 L293.1,142.42 L293.7,140.75 L294.3,141.71 L294.9,146.82 L295.5,145.91 L296.1,145.77 L296.7,147.12 L297.3,145.13 L297.9,148.17 L298.5,145.98 L299.1,148.23 L299.7,146.35 L300.3,149.49 L300.9,147.29 L301.5,147.99 L302.1,149.7 L302.7,151.32 L303.3,151.78 L303.9,153.26 L304.5,153.38 L305.1,153.17 L305.7,153.45 L306.3,153.67 L306.9,152.49 L307.5,153.86 L308.1,152.05 L308.7,151.44 L309.3,152.19 L309.9,152.53 L310.5,150.81 L311.1,151 L311.7,151.53 L312.3,150.83 L312.9,152.1 L313.5,151.5 L314.1,151.8 L314.7,152.3 L315.3,151.81 L315.9,152.72 L316.5,152.3 L317.1,151.83 L317.7,150.97 L318.3,150.95 L318.9,151.51 L319.5,150.6 L320.1,150.81 L320.7,150.07 L321.3,148.87 L321.9,148.88 L322.5,148.28 L323.1,146.67 L323.7,146.54 L324.3,145.4 L324.9,144.94 L325.5,143.64 L326.1,143.09 L326.7,142.32 L327.3,142.19 L327.9,141.22 L328.5,140.04 L329.1,139.78 L329.7,139.19 L330.3,137.79 L330.9,137.56 L331.5,136.56 L332.1,136.21 L332.7,135.6 L333.3,134.63 L333.9,133.88 L334.5,133.16 L335.1,132.42 L335.7,132.19 L336.3,131.46 L336.9,131.21 L337.5,130.13 L338.1,130.03 L338.7,129.72 L339.3,128.99 L339.9,128.48 L340.5,127.48 L341.1,127.32 L341.7,126.5 L342.3,126.02 L342.9,125.06 L343.5,124.9 L344.1,124.38 L344.7,123.8 L345.3,123.36 L345.9,122.5 L346.5,122.14 L347.1,121.58 L347.7,121.61 L348.3,120.69 L348.9,120.48 L349.5,119.76 L350.1,119.36 L350.7,119.72 L351.3,118.93 L351.9,118.86 L352.5,118.22 L353.1,118.36 L353.7,117.8 L354.3,117.44 L354.9,117.42 L355.5,117.47 L356.1,116.99 L356.7,116.71 L357.3,117.07 L357.9,117.07 L358.5,116.74 L359.1,116.62 L359.7,116.53 L360.3,116.02 L360.9,116.47 L361.5,116.54 L362.1,116.5 L362.7,116.09 L363.3,116.21 L363.9,116 L364.5,115.8 L365.1,116.04 L365.7,116.15 L366.3,115.53 L366.9,116.04 L367.5,115.92 L368.1,116.12 L368.7,115.66 L369.3,115.93 L369.9,115.54 L370.5,115.78 L371.1,115.48 L371.7,115.85 L372.3,115.51 L372.9,116.05 L373.5,115.83 L374.1,115.86 L374.7,115.79 L375.3,115.94 L375.9,115.88 L376.5,115.37 L377.1,116.04 L377.7,115.73 L378.3,115.42 L378.9,115.75 L379.5,115.77 L380.1,115.71 L380.7,116 L381.3,115.95 L381.9,115.57 L382.5,115.65 L383.1,115.92 L383.7,115.71 L384.3,115.31 L384.9,115.86 L385.5,115.37 L386.1,115.22 L386.7,115.47 L387.3,115.7 L387.9,115.4 L388.5,115.11 L389.1,115.13 L389.7,114.92 L390.3,115.11 L390.9,115.4 L391.5,115.31 L392.1,114.66 L392.7,114.78 L393.3,114.43 L393.9,114.4 L394.5,114.49 L395.1,114.45 L395.7,114.25 L396.3,114.65 L396.9,114.44 L397.5,114.18 L398.1,114.22 L398.7,114.44 L399.3,114.27 L399.9,114.37 L400.5,113.8 L401.1,114.24 L401.7,113.85 L402.3,114.16 L402.9,114.15 L403.5,114.17 L404.1,113.89 L404.7,113.49 L405.3,113.39 L405.9,113.62 L406.5,113.34 L407.1,113.45 L407.7,113.18 L408.3,113.7 L408.9,113.61 L409.5,113.56 L410.1,113.1 L410.7,112.97 L411.3,113.04 L411.9,112.85 L412.5,113.51 L413.1,113.35 L413.7,113.3 L414.3,113.11 L414.9,113.03 L415.5,112.94 L416.1,113.07 L416.7,112.03 L417.3,112.56 L417.9,112.38 L418.5,112.81 L419.1,112.11 L419.7,112.58 L420.3,112.39 L420.9,111.95 L421.5,112.43 L422.1,112.14 L422.7,112.11 L423.3,112.22 L423.9,112.17 L424.5,111.96 L425.1,111.64 L425.7,111.89 L426.3,111.69 L426.9,111.03 L427.5,111.28 L428.1,111.34 L428.7,110.71 L429.3,110.8 L429.9,110.98 L430.5,110.5 L431.1,111 L431.7,110.68 L432.3,110.1 L432.3,112.17 L431.7,112.04 L431.1,112.72 L430.5,112.35 L429.9,112.89 L429.3,112.52 L428.7,112.56 L428.1,113.09 L427.5,112.93 L426.9,113.4 L426.3,113.56 L425.7,113.33 L425.1,113.65 L424.5,113.58 L423.9,113.58 L423.3,113.95 L422.7,113.69 L422.1,114.18 L421.5,113.95 L420.9,113.98 L420.3,113.75 L419.7,115.13 L419.1,113.94 L418.5,114.23 L417.9,114.17 L417.3,114.19 L416.7,114.49 L416.1,114.88 L415.5,114.62 L414.9,115.32 L414.3,114.62 L413.7,115.16 L413.1,114.51 L412.5,114.72 L411.9,114.65 L411.3,114.83 L410.7,115.2 L410.1,114.99 L409.5,115.11 L408.9,114.88 L408.3,115.38 L407.7,115.09 L407.1,115.59 L406.5,114.99 L405.9,115.44 L405.3,115.5 L404.7,115.27 L404.1,115.71 L403.5,115.89 L402.9,115.39 L402.3,115.78 L401.7,115.49 L401.1,116.07 L400.5,115.61 L399.9,115.67 L399.3,115.7 L398.7,115.57 L398.1,116.06 L397.5,115.72 L396.9,115.75 L396.3,116.14 L395.7,116.13 L395.1,116.06 L394.5,116.08 L393.9,116.74 L393.3,116.41 L392.7,116.2 L392.1,116.77 L391.5,116.71 L390.9,117.01 L390.3,116.53 L389.7,117.21 L389.1,117.09 L388.5,117.11 L387.9,116.77 L387.3,117.25 L386.7,117.45 L386.1,117.49 L385.5,117.36 L384.9,117.39 L384.3,117.13 L383.7,117.58 L383.1,117.3 L382.5,117.62 L381.9,117.67 L381.3,117.41 L380.7,117.69 L380.1,118.43 L379.5,117.28 L378.9,117.45 L378.3,117.54 L377.7,117.79 L377.1,117.28 L376.5,117.69 L375.9,117.69 L375.3,117.84 L374.7,117.37 L374.1,117.36 L373.5,117.77 L372.9,117.68 L372.3,117.34 L371.7,117.53 L371.1,117.12 L370.5,117.33 L369.9,117.55 L369.3,117.54 L368.7,117.42 L368.1,117.44 L367.5,117.66 L366.9,117.85 L366.3,117.48 L365.7,117.82 L365.1,117.5 L364.5,117.49 L363.9,117.66 L363.3,117.63 L362.7,117.81 L362.1,118.2 L361.5,117.73 L360.9,118.34 L360.3,118.22 L359.7,118.32 L359.1,118.2 L358.5,118.33 L357.9,118.9 L357.3,118.99 L356.7,118.73 L356.1,119.19 L355.5,119.14 L354.9,118.99 L354.3,119.05 L353.7,119.77 L353.1,119.9 L352.5,119.96 L351.9,120.71 L351.3,120.86 L350.7,121.24 L350.1,121.16 L349.5,122 L348.9,121.92 L348.3,122.72 L347.7,123.18 L347.1,123.24 L346.5,124.18 L345.9,124.81 L345.3,124.77 L344.7,125.58 L344.1,126.31 L343.5,126.88 L342.9,127.05 L342.3,127.78 L341.7,128.72 L341.1,129.05 L340.5,129.82 L339.9,130.63 L339.3,130.77 L338.7,131.35 L338.1,132.25 L337.5,132.08 L336.9,133.35 L336.3,133.27 L335.7,134.52 L335.1,135.04 L334.5,135.01 L333.9,135.69 L333.3,136.61 L332.7,137.45 L332.1,138.64 L331.5,138.66 L330.9,139.69 L330.3,140.49 L329.7,140.47 L329.1,141.3 L328.5,142.39 L327.9,143.09 L327.3,144.09 L326.7,144.42 L326.1,145.03 L325.5,145.95 L324.9,146.85 L324.3,147.44 L323.7,148.23 L323.1,149.56 L322.5,150.52 L321.9,151 L321.3,151.95 L320.7,152.91 L320.1,152.67 L319.5,153.63 L318.9,154.05 L318.3,154.41 L317.7,155.04 L317.1,155.08 L316.5,154.52 L315.9,155.38 L315.3,155.33 L314.7,156 L314.1,155.54 L313.5,155.61 L312.9,154.8 L312.3,156.04 L311.7,155.96 L311.1,155.29 L310.5,157.2 L309.9,156.12 L309.3,157.9 L308.7,156.85 L308.1,159.44 L307.5,158.01 L306.9,158.87 L306.3,158.74 L305.7,158.79 L305.1,159.93 L304.5,159.26 L303.9,159.01 L303.3,158.15 L302.7,157.85 L302.1,158.88 L301.5,158.84 L300.9,156.04 L300.3,154.8 L299.7,158.23 L299.1,158.1 L298.5,156.72 L297.9,154.93 L297.3,154.79 L296.7,157.59 L296.1,155.49 L295.5,157.06 L294.9,156.68 L294.3,153.91 L293.7,154.61 L293.1,152.04 L292.5,154.19 L291.9,149.17 L291.3,148.63 L290.7,152.9 L290.1,152.81 L289.5,151.28 L288.9,150.3 L288.3,149.68 L287.7,149.33 L287.1,145.27 L286.5,144.83 L285.9,142.96 L285.3,143.49 L284.7,143.69 L284.1,142.98 L283.5,141.44 L282.9,142.68 L282.3,144.5 L281.7,144.58 L281.1,143.96 L280.5,141.74 L279.9,143.86 L279.3,142.64 L278.7,144.47 L278.1,143.71 L277.5,143.83 L276.9,141.31 L276.3,142.64 L275.7,141.52 L275.1,144.44 L274.5,143.01 L273.9,145.73 L273.3,142.69 L272.7,142.84 L272.1,144.52Z" fill="#ff8a5c" stroke="#ff8a5c" stroke-width="0.6" stroke-linejoin="round"/>
<path d="M272.1,88.55 L272.7,88.99 L273.3,90.45 L273.9,92.6 L274.5,90.11 L275.1,90.45 L275.7,92.26 L276.3,93.68 L276.9,89.66 L277.5,94.19 L278.1,89.78 L278.7,91.05 L279.3,93.09 L279.9,91.09 L280.5,91.14 L281.1,94.15 L281.7,91.63 L282.3,90.35 L282.9,92.07 L283.5,96.2 L284.1,96.9 L284.7,94.99 L285.3,99.43 L285.9,95.55 L286.5,96.04 L287.1,96.23 L287.7,95.38 L288.3,94.6 L288.9,96.42 L289.5,92.09 L290.1,94.84 L290.7,93.78 L291.3,96.74 L291.9,93.27 L292.5,94.54 L293.1,96.92 L293.7,94.19 L294.3,94.41 L294.9,96.24 L295.5,97.13 L296.1,95.25 L296.7,99.13 L297.3,96.26 L297.9,97.14 L298.5,101.22 L299.1,98.94 L299.7,101.92 L300.3,100.86 L300.9,101.51 L301.5,104.69 L302.1,105.03 L302.7,103.91 L303.3,105.39 L303.9,106.55 L304.5,108.86 L305.1,107.96 L305.7,110.61 L306.3,110.19 L306.9,110.42 L307.5,111.2 L308.1,110.37 L308.7,111.99 L309.3,110.04 L309.9,111.84 L310.5,111.6 L311.1,112.5 L311.7,113.61 L312.3,113.14 L312.9,114.31 L313.5,114.16 L314.1,113.92 L314.7,115.05 L315.3,113.99 L315.9,114.77 L316.5,116.12 L317.1,115.46 L317.7,114.58 L318.3,115.86 L318.9,116.09 L319.5,115.69 L320.1,115.17 L320.7,115.32 L321.3,115.69 L321.9,115.25 L322.5,115.08 L323.1,114.38 L323.7,113.48 L324.3,113.75 L324.9,114.28 L325.5,113.78 L326.1,113.19 L326.7,111.98 L327.3,112.87 L327.9,111.97 L328.5,112.22 L329.1,112.45 L329.7,112.14 L330.3,112.27 L330.9,112.59 L331.5,113.69 L332.1,114.14 L332.7,114.52 L333.3,113.33 L333.9,115.12 L334.5,114.91 L335.1,115.39 L335.7,115 L336.3,114.51 L336.9,114.68 L337.5,115.48 L338.1,113.97 L338.7,114.34 L339.3,114.14 L339.9,113.51 L340.5,113.18 L341.1,112.33 L341.7,111.56 L342.3,111.48 L342.9,110.07 L343.5,110.24 L344.1,109.66 L344.7,109.4 L345.3,108.26 L345.9,107.77 L346.5,107.6 L347.1,107.52 L347.7,106.33 L348.3,106.13 L348.9,105.86 L349.5,105.14 L350.1,104.55 L350.7,104.3 L351.3,104.5 L351.9,103.49 L352.5,103.61 L353.1,102.99 L353.7,103.18 L354.3,102.52 L354.9,102.36 L355.5,102.86 L356.1,101.91 L356.7,101.89 L357.3,101.77 L357.9,102.07 L358.5,101.33 L359.1,101.14 L359.7,100.78 L360.3,101.03 L360.9,101.16 L361.5,100.42 L362.1,100.57 L362.7,100.43 L363.3,99.94 L363.9,100.29 L364.5,100.06 L365.1,98.97 L365.7,98.67 L366.3,98.33 L366.9,98.32 L367.5,98.18 L368.1,98.16 L368.7,98.1 L369.3,97.26 L369.9,97.56 L370.5,96.97 L371.1,97.43 L371.7,97.13 L372.3,96.84 L372.9,96.76 L373.5,96.78 L374.1,96.17 L374.7,96.66 L375.3,96.07 L375.9,95.99 L376.5,95.9 L377.1,96.07 L377.7,95.52 L378.3,95.32 L378.9,95.3 L379.5,95.14 L380.1,95.03 L380.7,94.98 L381.3,94.72 L381.9,94.63 L382.5,94.69 L383.1,94.06 L383.7,94.35 L384.3,94.42 L384.9,93.82 L385.5,93.47 L386.1,93.97 L386.7,93.89 L387.3,93.48 L387.9,93.37 L388.5,93.31 L389.1,93.04 L389.7,92.74 L390.3,92.74 L390.9,92.29 L391.5,92.22 L392.1,92.06 L392.7,92.12 L393.3,91.37 L393.9,91.3 L394.5,91.17 L395.1,91.19 L395.7,90.39 L396.3,90.42 L396.9,90.12 L397.5,90.14 L398.1,89.87 L398.7,89.57 L399.3,89.7 L399.9,89.48 L400.5,88.78 L401.1,88.91 L401.7,88.9 L402.3,88.23 L402.9,87.58 L403.5,87.63 L404.1,87.15 L404.7,86.5 L405.3,86.77 L405.9,86.36 L406.5,86.12 L407.1,85.43 L407.7,85.24 L408.3,84.45 L408.9,84.23 L409.5,84 L410.1,83 L410.7,82.52 L411.3,81.94 L411.9,81.99 L412.5,81.41 L413.1,80.94 L413.7,80.38 L414.3,79.99 L414.9,80.21 L415.5,80.01 L416.1,79.66 L416.7,79.39 L417.3,78.66 L417.9,78.51 L418.5,78.66 L419.1,77.92 L419.7,77.59 L420.3,77.44 L420.9,76.92 L421.5,77.2 L422.1,76.35 L422.7,76.6 L423.3,75.61 L423.9,75.61 L424.5,75.06 L425.1,75.39 L425.7,75.08 L426.3,74.27 L426.9,74.66 L427.5,74.21 L428.1,73.56 L428.7,73.25 L429.3,73.63 L429.9,73.46 L430.5,72.73 L431.1,72.86 L431.7,72.57 L432.3,72.56 L432.3,74.38 L431.7,74.09 L431.1,74.71 L430.5,75.07 L429.9,74.67 L429.3,75.29 L428.7,75.7 L428.1,76.12 L427.5,76.3 L426.9,76.51 L426.3,76.45 L425.7,77.15 L425.1,76.97 L424.5,77.77 L423.9,77.75 L423.3,78.31 L422.7,78.02 L422.1,78.93 L421.5,78.6 L420.9,79.47 L420.3,79.75 L419.7,79.7 L419.1,80.21 L418.5,80.49 L417.9,80.5 L417.3,80.59 L416.7,81.21 L416.1,81.15 L415.5,81.96 L414.9,82.16 L414.3,82.07 L413.7,82.45 L413.1,83.18 L412.5,83.27 L411.9,83.88 L411.3,84.34 L410.7,84.71 L410.1,85.49 L409.5,85.63 L408.9,86.02 L408.3,86.5 L407.7,86.77 L407.1,87.05 L406.5,87.48 L405.9,87.75 L405.3,88.56 L404.7,90.08 L404.1,89.66 L403.5,89.37 L402.9,89.8 L402.3,90 L401.7,90.58 L401.1,90.53 L400.5,91.45 L399.9,92.05 L399.3,91.9 L398.7,91.98 L398.1,92.13 L397.5,91.87 L396.9,92.53 L396.3,92.65 L395.7,92.47 L395.1,92.66 L394.5,93.38 L393.9,93.77 L393.3,93.64 L392.7,94.19 L392.1,94.33 L391.5,94.36 L390.9,94.47 L390.3,94.86 L389.7,94.97 L389.1,94.79 L388.5,94.63 L387.9,95.15 L387.3,95.55 L386.7,95.1 L386.1,95.97 L385.5,95.72 L384.9,96.11 L384.3,95.69 L383.7,96.1 L383.1,96.61 L382.5,96.47 L381.9,96.84 L381.3,97.18 L380.7,97.05 L380.1,96.98 L379.5,97.6 L378.9,97.05 L378.3,97.76 L377.7,98.12 L377.1,97.66 L376.5,97.96 L375.9,98.04 L375.3,98.02 L374.7,97.9 L374.1,98.36 L373.5,98.55 L372.9,98.25 L372.3,98.86 L371.7,98.67 L371.1,99.27 L370.5,98.79 L369.9,99.05 L369.3,99.88 L368.7,99.75 L368.1,99.5 L367.5,100.31 L366.9,100.18 L366.3,101.71 L365.7,100.81 L365.1,101.27 L364.5,101.61 L363.9,102.06 L363.3,102.2 L362.7,102.03 L362.1,102.83 L361.5,103.02 L360.9,102.6 L360.3,102.61 L359.7,103.35 L359.1,103.56 L358.5,103.9 L357.9,103.36 L357.3,103.65 L356.7,103.79 L356.1,104.15 L355.5,104.29 L354.9,104.91 L354.3,104.58 L353.7,105.15 L353.1,105.28 L352.5,105.72 L351.9,105.67 L351.3,106.31 L350.7,106.37 L350.1,106.42 L349.5,107.54 L348.9,107.81 L348.3,108.66 L347.7,108.84 L347.1,109.21 L346.5,110.11 L345.9,110.12 L345.3,111.12 L344.7,111.86 L344.1,113.08 L343.5,113.21 L342.9,113.23 L342.3,113.21 L341.7,114.23 L341.1,115.07 L340.5,115.51 L339.9,116.29 L339.3,117 L338.7,117.35 L338.1,118.04 L337.5,117.95 L336.9,118.19 L336.3,118.95 L335.7,119.1 L335.1,118.42 L334.5,118.98 L333.9,117.33 L333.3,117.11 L332.7,117.13 L332.1,116.59 L331.5,116.33 L330.9,116.13 L330.3,115.44 L329.7,114.78 L329.1,114.86 L328.5,114.74 L327.9,114.96 L327.3,115.81 L326.7,116.01 L326.1,116.01 L325.5,117.56 L324.9,117.23 L324.3,117.43 L323.7,119.22 L323.1,119.21 L322.5,120.09 L321.9,118.99 L321.3,120.59 L320.7,120.24 L320.1,120.5 L319.5,120.77 L318.9,119.94 L318.3,119.3 L317.7,120.87 L317.1,119.85 L316.5,120.02 L315.9,119.77 L315.3,118.94 L314.7,118.27 L314.1,117.73 L313.5,117.14 L312.9,117.56 L312.3,118.7 L311.7,118.72 L311.1,117.78 L310.5,117.85 L309.9,117.66 L309.3,117.6 L308.7,117.98 L308.1,116.5 L307.5,115.94 L306.9,116.64 L306.3,117.83 L305.7,116.98 L305.1,116.28 L304.5,115.35 L303.9,115.84 L303.3,112.33 L302.7,113.77 L302.1,113.17 L301.5,110.09 L300.9,110.74 L300.3,110.73 L299.7,108.95 L299.1,107.77 L298.5,109.15 L297.9,108.99 L297.3,105.16 L296.7,105.73 L296.1,104.55 L295.5,106.44 L294.9,107.12 L294.3,105.27 L293.7,104.48 L293.1,107.5 L292.5,107.78 L291.9,104.06 L291.3,106 L290.7,107.53 L290.1,107.12 L289.5,104.74 L288.9,107.24 L288.3,108.18 L287.7,106.98 L287.1,108.06 L286.5,108 L285.9,109.31 L285.3,108.69 L284.7,110.6 L284.1,106.88 L283.5,106.7 L282.9,108.24 L282.3,107.65 L281.7,104.8 L281.1,106.66 L280.5,105.86 L279.9,107 L279.3,103 L278.7,105.88 L278.1,106.75 L277.5,106.51 L276.9,105.53 L276.3,103.16 L275.7,105.35 L275.1,106.13 L274.5,101.18 L273.9,99.91 L273.3,101.42 L272.7,101.48 L272.1,98.51Z" fill="#e07fc4" stroke="#e07fc4" stroke-width="0.6" stroke-linejoin="round"/>
<path d="M272.1,66.61 L272.7,66.5 L273.3,68.48 L273.9,66.28 L274.5,67.63 L275.1,70.89 L275.7,69.79 L276.3,71.59 L276.9,74.71 L277.5,75.68 L278.1,72.42 L278.7,73.29 L279.3,77.56 L279.9,76.94 L280.5,72.25 L281.1,72.85 L281.7,72.35 L282.3,74.69 L282.9,71.44 L283.5,72.89 L284.1,72.98 L284.7,73.4 L285.3,74.57 L285.9,74.94 L286.5,73.94 L287.1,75.29 L287.7,77.16 L288.3,75.61 L288.9,76.91 L289.5,78.32 L290.1,80.31 L290.7,80.82 L291.3,77.89 L291.9,79.84 L292.5,80.7 L293.1,82.5 L293.7,82 L294.3,81.5 L294.9,86.42 L295.5,85.07 L296.1,84.69 L296.7,86.84 L297.3,86.14 L297.9,86.89 L298.5,87.18 L299.1,85.61 L299.7,86.58 L300.3,85.29 L300.9,85.91 L301.5,83.09 L302.1,86.85 L302.7,84.64 L303.3,85.94 L303.9,86.9 L304.5,85.04 L305.1,85.49 L305.7,84.63 L306.3,86.26 L306.9,84.62 L307.5,86.03 L308.1,86.96 L308.7,87.37 L309.3,86.62 L309.9,86.53 L310.5,87.45 L311.1,87.79 L311.7,87.75 L312.3,87.87 L312.9,88.25 L313.5,88.19 L314.1,88.28 L314.7,87.82 L315.3,87.53 L315.9,87.53 L316.5,88.05 L317.1,88.23 L317.7,88.53 L318.3,87.87 L318.9,88.07 L319.5,87.92 L320.1,88.64 L320.7,88.99 L321.3,88.54 L321.9,88.12 L322.5,88.1 L323.1,88.62 L323.7,89.17 L324.3,88.75 L324.9,89.58 L325.5,89.68 L326.1,89.61 L326.7,89.47 L327.3,89.6 L327.9,89.76 L328.5,89.87 L329.1,90.65 L329.7,89.87 L330.3,89.94 L330.9,91.15 L331.5,91.06 L332.1,90.93 L332.7,90.66 L333.3,91.51 L333.9,91.21 L334.5,91.36 L335.1,91.13 L335.7,91.42 L336.3,91.6 L336.9,91.59 L337.5,91.26 L338.1,91.68 L338.7,91.25 L339.3,91.67 L339.9,92.17 L340.5,92.11 L341.1,92.69 L341.7,91.99 L342.3,92.08 L342.9,92.72 L343.5,92.76 L344.1,92.72 L344.7,92.58 L345.3,92.12 L345.9,92.12 L346.5,91.69 L347.1,91.83 L347.7,91.4 L348.3,91.22 L348.9,91.54 L349.5,91.41 L350.1,91.13 L350.7,90.79 L351.3,90.96 L351.9,90.68 L352.5,90.12 L353.1,90.11 L353.7,89.83 L354.3,89.58 L354.9,89.38 L355.5,89.3 L356.1,88.36 L356.7,87.91 L357.3,87.86 L357.9,87.2 L358.5,86.57 L359.1,85.92 L359.7,85.48 L360.3,84.83 L360.9,84.42 L361.5,84.32 L362.1,83.83 L362.7,83.27 L363.3,82.96 L363.9,82.51 L364.5,82.15 L365.1,81.34 L365.7,81.37 L366.3,80.76 L366.9,80.46 L367.5,80.17 L368.1,79.47 L368.7,79.4 L369.3,78.52 L369.9,78.37 L370.5,77.72 L371.1,77.69 L371.7,77.12 L372.3,76.35 L372.9,76.36 L373.5,75.56 L374.1,75.35 L374.7,74.71 L375.3,74.65 L375.9,73.76 L376.5,73.68 L377.1,73.42 L377.7,72.52 L378.3,72.3 L378.9,72.06 L379.5,71.32 L380.1,71.49 L380.7,70.89 L381.3,70.4 L381.9,70.06 L382.5,69.49 L383.1,69.67 L383.7,68.98 L384.3,69.02 L384.9,68.62 L385.5,67.9 L386.1,68.02 L386.7,67.76 L387.3,67.57 L387.9,66.96 L388.5,66.45 L389.1,66.56 L389.7,66.39 L390.3,65.92 L390.9,65.68 L391.5,65.48 L392.1,65.18 L392.7,64 L393.3,64.33 L393.9,64.16 L394.5,63.54 L395.1,63.17 L395.7,62.55 L396.3,63.14 L396.9,62.34 L397.5,62.18 L398.1,62.18 L398.7,61.72 L399.3,61.78 L399.9,61.61 L400.5,60.89 L401.1,60.69 L401.7,60.85 L402.3,60.36 L402.9,60.61 L403.5,60.28 L404.1,59.82 L404.7,60.01 L405.3,59.95 L405.9,59.37 L406.5,59.04 L407.1,59 L407.7,58.57 L408.3,58.9 L408.9,58.59 L409.5,58.08 L410.1,58.05 L410.7,57.5 L411.3,57.59 L411.9,56.97 L412.5,57.12 L413.1,56.75 L413.7,56.57 L414.3,56.1 L414.9,56.01 L415.5,56.04 L416.1,55.61 L416.7,55.87 L417.3,55.29 L417.9,54.95 L418.5,54.88 L419.1,54.71 L419.7,54.94 L420.3,54.66 L420.9,54.03 L421.5,54.42 L422.1,54.16 L422.7,53.68 L423.3,53.71 L423.9,53.19 L424.5,53.15 L425.1,52.93 L425.7,53.02 L426.3,52.48 L426.9,52.35 L427.5,52.19 L428.1,51.9 L428.7,51.75 L429.3,51.89 L429.9,51.39 L430.5,51.38 L431.1,51.5 L431.7,51.23 L432.3,50.64 L432.3,52.25 L431.7,52.69 L431.1,52.67 L430.5,52.68 L429.9,53.65 L429.3,53.2 L428.7,53.65 L428.1,54.03 L427.5,53.8 L426.9,53.87 L426.3,54.55 L425.7,54.46 L425.1,54.87 L424.5,54.54 L423.9,54.88 L423.3,55.38 L422.7,55.16 L422.1,55.38 L421.5,55.9 L420.9,56.02 L420.3,56.13 L419.7,55.97 L419.1,56.66 L418.5,56.53 L417.9,56.52 L417.3,56.71 L416.7,57.02 L416.1,57.15 L415.5,57.36 L414.9,57.56 L414.3,57.97 L413.7,57.83 L413.1,58.01 L412.5,58.81 L411.9,58.98 L411.3,58.92 L410.7,59.32 L410.1,59.62 L409.5,59.99 L408.9,59.69 L408.3,59.89 L407.7,60.66 L407.1,60.69 L406.5,60.93 L405.9,60.72 L405.3,60.88 L404.7,61.16 L404.1,61.29 L403.5,61.77 L402.9,61.94 L402.3,61.76 L401.7,62.16 L401.1,62.33 L400.5,63.02 L399.9,62.82 L399.3,63.43 L398.7,63.69 L398.1,63.54 L397.5,63.73 L396.9,64.02 L396.3,64.57 L395.7,64.91 L395.1,65.2 L394.5,65.22 L393.9,65.53 L393.3,65.48 L392.7,66.39 L392.1,66.31 L391.5,66.47 L390.9,66.88 L390.3,67.46 L389.7,67.9 L389.1,67.66 L388.5,68.44 L387.9,68.42 L387.3,68.9 L386.7,69.05 L386.1,69.49 L385.5,69.81 L384.9,69.67 L384.3,70.53 L383.7,70.81 L383.1,70.83 L382.5,71.59 L381.9,71.95 L381.3,71.82 L380.7,72.3 L380.1,72.88 L379.5,73.41 L378.9,73.41 L378.3,74.1 L377.7,74.6 L377.1,74.86 L376.5,74.85 L375.9,75.32 L375.3,75.91 L374.7,76.12 L374.1,76.77 L373.5,77.5 L372.9,77.39 L372.3,77.97 L371.7,78.71 L371.1,79.13 L370.5,79.27 L369.9,80.07 L369.3,80.19 L368.7,80.96 L368.1,81.25 L367.5,81.81 L366.9,81.87 L366.3,82.32 L365.7,82.75 L365.1,83.4 L364.5,83.86 L363.9,83.99 L363.3,84.63 L362.7,85.03 L362.1,85.32 L361.5,85.37 L360.9,86.18 L360.3,86.75 L359.7,86.8 L359.1,87.74 L358.5,88.45 L357.9,89.02 L357.3,89.19 L356.7,89.7 L356.1,90.36 L355.5,90.68 L354.9,90.83 L354.3,91.07 L353.7,91.55 L353.1,92.04 L352.5,91.66 L351.9,92.16 L351.3,92.82 L350.7,92.66 L350.1,93.26 L349.5,93.04 L348.9,93.06 L348.3,93.44 L347.7,93.54 L347.1,94.24 L346.5,94.06 L345.9,94.84 L345.3,94.82 L344.7,95.4 L344.1,95.43 L343.5,95.52 L342.9,95.53 L342.3,94.86 L341.7,95.35 L341.1,95.17 L340.5,94.81 L339.9,94.64 L339.3,94.73 L338.7,94.51 L338.1,94.37 L337.5,93.97 L336.9,94.13 L336.3,94.34 L335.7,93.89 L335.1,94.05 L334.5,93.84 L333.9,94.05 L333.3,93.79 L332.7,93.95 L332.1,93.16 L331.5,93.27 L330.9,93.19 L330.3,92.72 L329.7,93.21 L329.1,92.95 L328.5,92.97 L327.9,92.35 L327.3,93.23 L326.7,92.48 L326.1,92.01 L325.5,92.25 L324.9,92.44 L324.3,92.42 L323.7,91.65 L323.1,91.88 L322.5,91.24 L321.9,91.02 L321.3,91.31 L320.7,92.47 L320.1,91.44 L319.5,91.71 L318.9,92.56 L318.3,92.2 L317.7,91.45 L317.1,90.98 L316.5,92.01 L315.9,90.9 L315.3,91.99 L314.7,91.54 L314.1,92.52 L313.5,91.32 L312.9,91.11 L312.3,91.44 L311.7,91.36 L311.1,92.38 L310.5,92.95 L309.9,91.46 L309.3,92.72 L308.7,92.36 L308.1,90.64 L307.5,91.59 L306.9,90.46 L306.3,91.29 L305.7,93.41 L305.1,93.52 L304.5,92.51 L303.9,93.73 L303.3,95.8 L302.7,94.03 L302.1,95.31 L301.5,94.38 L300.9,96.23 L300.3,95.7 L299.7,97.31 L299.1,97.47 L298.5,96.15 L297.9,97.17 L297.3,98.68 L296.7,95.44 L296.1,97.44 L295.5,99.58 L294.9,95 L294.3,95.67 L293.7,93.97 L293.1,92.81 L292.5,94.67 L291.9,95.71 L291.3,96.57 L290.7,93.83 L290.1,92.52 L289.5,89.96 L288.9,92.1 L288.3,88.84 L287.7,91.5 L287.1,85.93 L286.5,87.4 L285.9,84.9 L285.3,84.39 L284.7,86.53 L284.1,87.71 L283.5,85.46 L282.9,83.12 L282.3,84.57 L281.7,86.67 L281.1,84.19 L280.5,87.76 L279.9,86.57 L279.3,88.8 L278.7,86.7 L278.1,84.35 L277.5,85.67 L276.9,86.31 L276.3,83.01 L275.7,83.11 L275.1,79.01 L274.5,78.79 L273.9,78.05 L273.3,75.27 L272.7,73.37 L272.1,75Z" fill="#7ea2b8" stroke="#7ea2b8" stroke-width="0.6" stroke-linejoin="round"/>
<path d="M272.1,46.51 L272.7,48.27 L273.3,51.91 L273.9,53.36 L274.5,53.83 L275.1,53.07 L275.7,51.75 L276.3,57.45 L276.9,57.21 L277.5,54.98 L278.1,53.9 L278.7,55.1 L279.3,56.23 L279.9,60.17 L280.5,61.41 L281.1,56.77 L281.7,58.61 L282.3,60.18 L282.9,54.09 L283.5,57.62 L284.1,52.42 L284.7,54.56 L285.3,55.93 L285.9,55.56 L286.5,53.58 L287.1,57.33 L287.7,53.51 L288.3,53.26 L288.9,54.12 L289.5,56.6 L290.1,54.94 L290.7,55.95 L291.3,59.58 L291.9,55.81 L292.5,58.65 L293.1,62.35 L293.7,58.89 L294.3,60.68 L294.9,60.23 L295.5,54.43 L296.1,58.62 L296.7,59.23 L297.3,58.1 L297.9,60.92 L298.5,61 L299.1,62.81 L299.7,60.13 L300.3,62.39 L300.9,63.35 L301.5,63.64 L302.1,60.2 L302.7,58.62 L303.3,61.02 L303.9,63.12 L304.5,61.14 L305.1,59.28 L305.7,62.91 L306.3,61.23 L306.9,61.83 L307.5,62.45 L308.1,60.58 L308.7,61.06 L309.3,64.14 L309.9,60.72 L310.5,61.12 L311.1,62.49 L311.7,61.72 L312.3,61.52 L312.9,61.53 L313.5,62.19 L314.1,59.78 L314.7,60.87 L315.3,62.79 L315.9,63.02 L316.5,61.57 L317.1,62.49 L317.7,61.96 L318.3,63.01 L318.9,63.02 L319.5,63.61 L320.1,61.85 L320.7,63.89 L321.3,62.66 L321.9,64.38 L322.5,64.45 L323.1,65.13 L323.7,64.85 L324.3,65.48 L324.9,65.36 L325.5,63.84 L326.1,63.82 L326.7,64.29 L327.3,63.11 L327.9,62.31 L328.5,62.69 L329.1,62.46 L329.7,62.41 L330.3,62.56 L330.9,62.53 L331.5,62.39 L332.1,62.65 L332.7,62.68 L333.3,62.33 L333.9,62.38 L334.5,63.05 L335.1,62.98 L335.7,61.83 L336.3,62.5 L336.9,62.4 L337.5,62.82 L338.1,62.29 L338.7,62.96 L339.3,63.73 L339.9,63.62 L340.5,63.27 L341.1,61.96 L341.7,63.08 L342.3,62.89 L342.9,61.96 L343.5,62.68 L344.1,62.91 L344.7,62.39 L345.3,62.67 L345.9,63.29 L346.5,63.17 L347.1,62.67 L347.7,62.5 L348.3,62.56 L348.9,62.39 L349.5,62.66 L350.1,63.4 L350.7,63.23 L351.3,62.5 L351.9,63.11 L352.5,62.41 L353.1,62.87 L353.7,63.2 L354.3,63.36 L354.9,63.09 L355.5,63.59 L356.1,63.57 L356.7,63.25 L357.3,63.45 L357.9,63.72 L358.5,63.61 L359.1,63.95 L359.7,63.38 L360.3,63.56 L360.9,63.36 L361.5,63.53 L362.1,63.81 L362.7,63.24 L363.3,63.18 L363.9,63.2 L364.5,62.74 L365.1,62.2 L365.7,61.72 L366.3,61.94 L366.9,61.09 L367.5,61.13 L368.1,59.78 L368.7,59.3 L369.3,58.95 L369.9,59.1 L370.5,57.67 L371.1,57.77 L371.7,56.9 L372.3,56.4 L372.9,56.29 L373.5,55.2 L374.1,54.48 L374.7,54.73 L375.3,53.37 L375.9,53 L376.5,52.75 L377.1,52.87 L377.7,51.85 L378.3,51.62 L378.9,51 L379.5,50.1 L380.1,49.89 L380.7,49.97 L381.3,49.42 L381.9,48.78 L382.5,48.47 L383.1,47.38 L383.7,47.46 L384.3,46.5 L384.9,45.82 L385.5,46.21 L386.1,45.15 L386.7,44.87 L387.3,43.92 L387.9,44.07 L388.5,43.86 L389.1,43 L389.7,43.31 L390.3,42.16 L390.9,41.98 L391.5,42.1 L392.1,41.35 L392.7,41.24 L393.3,40.53 L393.9,40.33 L394.5,40.14 L395.1,39.81 L395.7,39.52 L396.3,39.25 L396.9,38.98 L397.5,38.89 L398.1,38.5 L398.7,37.98 L399.3,38.35 L399.9,37.28 L400.5,36.98 L401.1,37.02 L401.7,37.26 L402.3,36.69 L402.9,36.25 L403.5,35.83 L404.1,35.37 L404.7,34.9 L405.3,35.5 L405.9,34.68 L406.5,34.75 L407.1,33.8 L407.7,33.47 L408.3,33.13 L408.9,32.94 L409.5,33.57 L410.1,33.14 L410.7,32.95 L411.3,32.43 L411.9,32.23 L412.5,32.1 L413.1,31.46 L413.7,31.12 L414.3,30.72 L414.9,31.53 L415.5,29.8 L416.1,30.87 L416.7,30.06 L417.3,30.82 L417.9,29.77 L418.5,30.51 L419.1,30.29 L419.7,30 L420.3,29.52 L420.9,29.61 L421.5,28.94 L422.1,29.59 L422.7,28.91 L423.3,28.77 L423.9,28.61 L424.5,28.91 L425.1,28.68 L425.7,28.59 L426.3,29.06 L426.9,28.63 L427.5,28.68 L428.1,29.03 L428.7,28.64 L429.3,28.48 L429.9,28.93 L430.5,28.91 L431.1,28.86 L431.7,28.33 L432.3,28.8 L432.3,31.33 L431.7,31.39 L431.1,31.39 L430.5,30.99 L429.9,30.77 L429.3,31.59 L428.7,30.72 L428.1,31.43 L427.5,30.71 L426.9,30.97 L426.3,31.16 L425.7,30.95 L425.1,31.56 L424.5,30.92 L423.9,31.6 L423.3,31.08 L422.7,30.98 L422.1,31.31 L421.5,32.11 L420.9,32.41 L420.3,32.52 L419.7,31.84 L419.1,32.66 L418.5,32.76 L417.9,32.58 L417.3,32.44 L416.7,32.98 L416.1,33.64 L415.5,33.45 L414.9,33.65 L414.3,33.28 L413.7,33.81 L413.1,34.39 L412.5,33.9 L411.9,34.68 L411.3,34.94 L410.7,34.78 L410.1,35.4 L409.5,35.38 L408.9,35.83 L408.3,36.22 L407.7,36.57 L407.1,36.73 L406.5,37.5 L405.9,37.51 L405.3,38 L404.7,38.07 L404.1,38.69 L403.5,38.38 L402.9,38.28 L402.3,39.54 L401.7,39.62 L401.1,39.51 L400.5,40.11 L399.9,40.22 L399.3,40.67 L398.7,40.85 L398.1,40.83 L397.5,41.11 L396.9,41.76 L396.3,42.55 L395.7,42.77 L395.1,42.78 L394.5,43.08 L393.9,43.43 L393.3,42.95 L392.7,43.39 L392.1,44.11 L391.5,43.81 L390.9,44.33 L390.3,44.99 L389.7,46.49 L389.1,45.89 L388.5,46.07 L387.9,46.93 L387.3,46.55 L386.7,47.58 L386.1,47.97 L385.5,48.06 L384.9,48.79 L384.3,48.66 L383.7,49.36 L383.1,49.83 L382.5,50.07 L381.9,50.63 L381.3,51.69 L380.7,51.96 L380.1,53.05 L379.5,52.72 L378.9,53.09 L378.3,53.54 L377.7,54.17 L377.1,54.54 L376.5,55.68 L375.9,55.4 L375.3,56.19 L374.7,56.79 L374.1,57.6 L373.5,57.56 L372.9,57.94 L372.3,59.17 L371.7,59.82 L371.1,59.51 L370.5,60.04 L369.9,61.58 L369.3,61.93 L368.7,61.82 L368.1,62.54 L367.5,63.59 L366.9,63.33 L366.3,63.77 L365.7,64.98 L365.1,65.41 L364.5,64.9 L363.9,65.9 L363.3,66.49 L362.7,65.65 L362.1,66.32 L361.5,66.55 L360.9,66.46 L360.3,66.33 L359.7,66.27 L359.1,65.69 L358.5,65.46 L357.9,66.07 L357.3,65.71 L356.7,65.72 L356.1,65.88 L355.5,65.88 L354.9,66.09 L354.3,65.33 L353.7,65.79 L353.1,66.2 L352.5,66.31 L351.9,66.44 L351.3,65.48 L350.7,66.86 L350.1,65.94 L349.5,66.54 L348.9,66.77 L348.3,66.24 L347.7,66.52 L347.1,66.35 L346.5,65.96 L345.9,65.62 L345.3,66.67 L344.7,65.43 L344.1,66.37 L343.5,66.47 L342.9,65.79 L342.3,66.31 L341.7,66.57 L341.1,66.49 L340.5,66.5 L339.9,67.55 L339.3,66.55 L338.7,67.5 L338.1,66.19 L337.5,67.58 L336.9,66.53 L336.3,66.55 L335.7,66.86 L335.1,67.98 L334.5,66.88 L333.9,66.76 L333.3,67.91 L332.7,67.98 L332.1,67.08 L331.5,66.95 L330.9,66.75 L330.3,66.86 L329.7,67.79 L329.1,67.34 L328.5,67.67 L327.9,68.3 L327.3,67.21 L326.7,69.26 L326.1,69.35 L325.5,69.19 L324.9,70.24 L324.3,69.01 L323.7,69.2 L323.1,68.58 L322.5,69.6 L321.9,69.62 L321.3,69.65 L320.7,69.3 L320.1,67.94 L319.5,68.48 L318.9,68.89 L318.3,67.42 L317.7,70 L317.1,70.29 L316.5,68.06 L315.9,67.42 L315.3,67.42 L314.7,67.21 L314.1,68.08 L313.5,70.41 L312.9,68.49 L312.3,70 L311.7,69.42 L311.1,69.5 L310.5,74.65 L309.9,71.05 L309.3,73.6 L308.7,71.48 L308.1,69.94 L307.5,73.35 L306.9,73.17 L306.3,74.04 L305.7,75.18 L305.1,72.1 L304.5,73.52 L303.9,74.84 L303.3,71.66 L302.7,71.65 L302.1,74.48 L301.5,71.62 L300.9,75.82 L300.3,76.54 L299.7,74.27 L299.1,74.67 L298.5,73.61 L297.9,71.42 L297.3,74.05 L296.7,72 L296.1,73.1 L295.5,71.58 L294.9,72.79 L294.3,73.08 L293.7,74.14 L293.1,74.99 L292.5,72.75 L291.9,77.27 L291.3,73.96 L290.7,70.55 L290.1,74.68 L289.5,67.61 L288.9,73.62 L288.3,72.36 L287.7,68.65 L287.1,71.41 L286.5,75.34 L285.9,72.99 L285.3,69.65 L284.7,72.27 L284.1,69.64 L283.5,73.05 L282.9,71.86 L282.3,75.48 L281.7,73.61 L281.1,71.41 L280.5,71.15 L279.9,73.98 L279.3,72.01 L278.7,74.52 L278.1,69.15 L277.5,69.74 L276.9,68.37 L276.3,67.91 L275.7,69.8 L275.1,69.39 L274.5,67.22 L273.9,68 L273.3,62.9 L272.7,59.82 L272.1,61.35Z" fill="#00c2c4" stroke="#00c2c4" stroke-width="0.6" stroke-linejoin="round"/>
<line x1="296.4" y1="200.8" x2="373.5" y2="46.3" stroke="#6a6a6a" stroke-width="1.8" stroke-dasharray="6,4"/>
<path d="M376.8,39.8 L368.6,45.6 L373.2,46.2 L374.6,50.8 Z" fill="#6a6a6a"/>
<rect x="271.3" y="14.8" width="161.9" height="192.9" fill="none" stroke="#000" stroke-width="1.6"/>
<line x1="278.4" y1="207.7" x2="278.4" y2="199.7" stroke="#000" stroke-width="1.6" />
<line x1="299.49" y1="207.7" x2="299.49" y2="203.7" stroke="#000" stroke-width="1.6" />
<line x1="320.58" y1="207.7" x2="320.58" y2="199.7" stroke="#000" stroke-width="1.6" />
<line x1="341.67" y1="207.7" x2="341.67" y2="203.7" stroke="#000" stroke-width="1.6" />
<line x1="362.76" y1="207.7" x2="362.76" y2="199.7" stroke="#000" stroke-width="1.6" />
<line x1="383.85" y1="207.7" x2="383.85" y2="203.7" stroke="#000" stroke-width="1.6" />
<line x1="404.94" y1="207.7" x2="404.94" y2="199.7" stroke="#000" stroke-width="1.6" />
<text x="278.4" y="228.6" font-family='"Liberation Sans", sans-serif' font-size="15.6" text-anchor="middle" fill="#000" font-weight="normal" font-style="normal"  stroke="#000" stroke-width="0.28">1.3</text>
<text x="320.58" y="228.6" font-family='"Liberation Sans", sans-serif' font-size="15.6" text-anchor="middle" fill="#000" font-weight="normal" font-style="normal"  stroke="#000" stroke-width="0.28">1.6</text>
<text x="362.76" y="228.6" font-family='"Liberation Sans", sans-serif' font-size="15.6" text-anchor="middle" fill="#000" font-weight="normal" font-style="normal"  stroke="#000" stroke-width="0.28">1.9</text>
<text x="404.94" y="228.6" font-family='"Liberation Sans", sans-serif' font-size="15.6" text-anchor="middle" fill="#000" font-weight="normal" font-style="normal"  stroke="#000" stroke-width="0.28">2.2</text>
<text x="352" y="250.8" font-family='"Liberation Sans", sans-serif' font-size="16.2" text-anchor="middle" fill="#000" font-weight="normal" font-style="normal"  stroke="#000" stroke-width="0.28">Energy (eV)</text>
<text x="256.8" y="111.5" font-family='"Liberation Sans", sans-serif' font-size="16.2" text-anchor="middle" transform="rotate(-90 256.8 111.5)" stroke="#000" stroke-width="0.28">(<tspan font-family='"Liberation Serif", serif' font-style="italic" font-size="16.8" letter-spacing="1.3">αhν</tspan>)<tspan font-size="10.5" dy="-6">1/2</tspan><tspan dy="6"> (arb.u.)</tspan></text>
<text x="236.2" y="16.8" font-family='"Liberation Sans", sans-serif' font-size="22" text-anchor="start" fill="#000" font-weight="bold" font-style="normal" >b</text>
<text x="-4.55" y="0" font-family='"Liberation Sans", sans-serif' font-size="15.6" fill="#00c2c4" transform="translate(384.4 42.7) rotate(-21.7) skewX(-6.7)" stroke="#00c2c4" stroke-width="0.28">1.9 eV</text>
<text x="-4.55" y="0" font-family='"Liberation Sans", sans-serif' font-size="15.6" fill="#7ea2b8" transform="translate(389.9 63.9) rotate(-22.0) skewX(-4.3)" stroke="#7ea2b8" stroke-width="0.28">1.8 eV</text>
<text x="-4.55" y="0" font-family='"Liberation Sans", sans-serif' font-size="15.6" fill="#e07fc4" transform="translate(389.9 92.5) rotate(-28.3) skewX(-9.9)" stroke="#e07fc4" stroke-width="0.28">1.7 eV</text>
<text x="380.3" y="111.2" font-family='"Liberation Sans", sans-serif' font-size="15.6" text-anchor="start" fill="#ff8a5c" font-weight="normal" font-style="normal"  stroke="#ff8a5c" stroke-width="0.28">1.6 eV</text>
<text x="380.3" y="141.8" font-family='"Liberation Sans", sans-serif' font-size="15.6" text-anchor="start" fill="#a39b1c" font-weight="normal" font-style="normal"  stroke="#a39b1c" stroke-width="0.28">1.4 eV</text>
<path d="M523.2,177L523.21,176.44 523.22,175.89 523.23,175.33 523.24,174.77 523.24,174.21 523.25,173.66 523.26,173.1 523.26,172.54 523.26,171.99 523.27,171.43 523.27,170.88 523.27,170.32 523.27,169.77 523.27,169.21 523.27,168.65 523.27,168.1 523.27,167.54 523.27,166.99 523.26,166.43 523.26,165.88 523.26,165.32 523.25,164.77 523.25,164.21 523.25,163.66 523.24,163.1 523.24,162.55 523.24,161.99 523.23,161.44 523.23,160.89 523.22,160.33 523.22,159.78 523.21,159.22 523.21,158.67 523.21,158.11 523.2,157.56 523.2,157 523.2,156.45 523.2,155.9 523.19,155.34 523.19,154.79 523.19,154.23 523.19,153.68 523.19,153.12 523.19,152.57 523.19,152.01 523.19,151.46 523.2,150.91 523.2,150.35 523.2,149.8 523.21,149.24 523.21,148.69 523.22,148.13 523.23,147.58 523.23,147.02 523.24,146.47 523.25,145.91 523.27,145.36 523.28,144.8 523.29,144.25 523.31,143.69 523.32,143.13 523.34,142.58 523.36,142.02 523.38,141.47 523.4,140.91 523.42,140.35 523.45,139.8 523.47,139.24 523.5,138.68 523.53,138.13 523.56,137.57 523.59,137.01 523.63,136.46 523.66,135.9 523.7,135.34 523.74,134.78 523.78,134.23 523.83,133.67 523.87,133.11 523.92,132.56 523.98,132 524.03,131.44 524.09,130.89 524.15,130.33 524.22,129.78 524.29,129.23 524.36,128.67 524.44,128.12 524.52,127.57 524.6,127.02 524.69,126.47 524.79,125.92 524.88,125.37 524.99,124.83 525.09,124.28 525.21,123.74 525.32,123.2 525.45,122.66 525.58,122.12 525.71,121.58 525.85,121.05 525.99,120.51 526.15,119.98 526.3,119.45 526.47,118.92 526.64,118.4 526.81,117.87 526.99,117.35 527.18,116.83 527.37,116.31 527.56,115.79 527.76,115.27 527.97,114.76 528.17,114.24 528.38,113.73 528.6,113.22 528.82,112.7 529.04,112.19 529.26,111.68 529.49,111.17 529.71,110.66 529.94,110.15 530.17,109.65 530.41,109.14 530.64,108.63 530.88,108.12 531.11,107.62 531.35,107.11 531.58,106.6 531.82,106.1 532.06,105.59 532.3,105.09 532.54,104.58 532.78,104.08 533.02,103.57 533.27,103.07 533.52,102.57 533.77,102.07 534.02,101.57 534.27,101.08 534.53,100.58 534.79,100.09 535.06,99.61 535.33,99.12 535.61,98.64 535.88,98.16 536.17,97.68 536.46,97.21 536.75,96.74 537.05,96.27 537.36,95.81 537.67,95.36 537.99,94.9 538.31,94.45 538.64,94.01 538.98,93.57 539.33,93.14 539.68,92.71 540.04,92.28 540.4,91.86 540.77,91.45 541.15,91.04 541.53,90.63 541.91,90.23 542.3,89.83 542.7,89.44 543.1,89.05 543.5,88.67 543.91,88.29 544.33,87.91 544.74,87.54 545.16,87.18 545.59,86.81 546.01,86.45 546.44,86.1 546.87,85.75 547.31,85.4 547.74,85.06 548.18,84.72 548.62,84.38 549.06,84.04 549.51,83.71 549.95,83.38 550.4,83.05 550.85,82.72 551.3,82.4 551.75,82.07 552.2,81.75 552.66,81.43 553.11,81.11 553.56,80.79 554.02,80.47 554.47,80.15 554.93,79.83 555.39,79.52 555.84,79.2 556.3,78.89 556.76,78.57 557.22,78.26 557.68,77.95 558.14,77.64 558.6,77.33 559.07,77.02 559.53,76.71 559.99,76.41 560.46,76.1 560.92,75.8 561.39,75.5 561.86,75.2 562.33,74.9 562.8,74.6 563.27,74.31 563.74,74.01 564.21,73.72 564.68,73.43 565.16,73.14 565.63,72.85 566.11,72.57 566.59,72.29 567.06,72 567.54,71.72 568.02,71.44 568.51,71.17 568.99,70.89 569.47,70.62 569.95,70.35 570.44,70.08 570.92,69.81 571.41,69.54 571.9,69.27 572.39,69 572.87,68.74 573.36,68.47 573.85,68.21 574.34,67.95 574.83,67.68 575.32,67.42 575.81,67.16 576.3,66.9 576.79,66.64 577.28,66.38 577.77,66.12 578.26,65.86 578.75,65.6 579.25,65.34 579.74,65.08 580.23,64.82 580.72,64.56 581.21,64.3 581.7,64.03 582.19,63.77 582.68,63.51 583.17,63.25 583.66,62.98 584.15,62.72 584.64,62.46 585.13,62.2 585.62,61.93 586.11,61.67 586.6,61.41 587.09,61.15 587.58,60.89 588.07,60.63 588.56,60.37 589.05,60.11 589.54,59.86 590.04,59.6 590.53,59.35 591.03,59.09 591.52,58.84 592.02,58.59 592.51,58.34 593.01,58.09 593.51,57.85 594.01,57.6 594.5,57.36 595.01,57.12 595.51,56.88 596.01,56.64 596.51,56.41 597.01,56.17 597.52,55.94 598.02,55.71 598.53,55.48 599.03,55.25 599.54,55.02 600.05,54.8 600.56,54.57 601.06,54.35 601.57,54.12 602.08,53.9 602.59,53.68 603.1,53.46 603.61,53.24 604.12,53.02 604.63,52.8 605.15,52.59 605.66,52.37 606.17,52.15 606.68,51.94 607.19,51.72 607.71,51.51 608.22,51.29 608.73,51.08 609.25,50.86 609.76,50.65 610.27,50.44 610.78,50.22 611.3,50.01 611.81,49.8 612.32,49.59 612.84,49.37 613.35,49.16 613.87,48.95 614.38,48.74 614.89,48.53 615.41,48.32 615.92,48.11 616.44,47.9 616.95,47.69 617.46,47.48 617.98,47.27 618.49,47.06 619.01,46.86 619.53,46.65 620.04,46.44 620.56,46.24 621.07,46.03 621.59,45.83 622.11,45.62 622.62,45.42 623.14,45.22 623.66,45.02 624.17,44.81 624.69,44.61 625.21,44.41 625.73,44.21 626.25,44.01 626.76,43.82 627.28,43.62 627.8,43.42 628.32,43.22 628.84,43.03 629.36,42.83 629.88,42.64 630.4,42.44 630.92,42.25 631.44,42.05 631.96,41.86 632.48,41.66 633,41.47 633.52,41.28 634.04,41.08 634.56,40.89 635.09,40.7 635.61,40.5 636.13,40.31 636.65,40.12 637.17,39.92 637.69,39.73 638.21,39.53 638.73,39.34 639.25,39.15 639.77,38.95 640.29,38.76 640.81,38.56 641.33,38.36 641.85,38.17 642.37,37.97 642.89,37.77 643.41,37.58 643.93,37.38 644.45,37.18 644.97,36.98 645.48,36.79 646,36.59 646.52,36.39 647.04,36.19 647.56,36 648.08,35.8 648.6,35.6 649.12,35.41 649.64,35.21 650.16,35.01 650.68,34.82 651.2,34.63 651.72,34.43 652.24,34.24 652.76,34.05 653.28,33.86 653.81,33.67 654.33,33.48 654.85,33.29 655.38,33.11 655.9,32.92 656.42,32.74 656.95,32.56 657.47,32.38 658,32.2" fill="none" stroke="#7f7f7f" stroke-width="2.6" stroke-dasharray="10,5.5"/>
<path d="M646.5,32.4 L653.2,43.6 L639.8,43.6 Z" fill="#00c8c8"/>
<path d="M587.2,59.1 L593.9,70.3 L580.5,70.3 Z" fill="#7ea2b8"/>
<path d="M531.4,82.9 L538.1,94.1 L524.7,94.1 Z" fill="#e07fc4"/>
<path d="M524.3,117 L531,128.2 L517.6,128.2 Z" fill="#ff8a5c"/>
<path d="M523.4,163.5 L530.1,174.7 L516.7,174.7 Z" fill="#a39b1c"/>
<rect x="505.4" y="15.8" width="162.3" height="193" fill="none" stroke="#000" stroke-width="1.6"/>
<line x1="505.4" y1="184.67" x2="509.4" y2="184.67" stroke="#000" stroke-width="1.6" />
<line x1="505.4" y1="160.55" x2="513.4" y2="160.55" stroke="#000" stroke-width="1.6" />
<line x1="505.4" y1="136.43" x2="509.4" y2="136.43" stroke="#000" stroke-width="1.6" />
<line x1="505.4" y1="112.3" x2="513.4" y2="112.3" stroke="#000" stroke-width="1.6" />
<line x1="505.4" y1="88.17" x2="509.4" y2="88.17" stroke="#000" stroke-width="1.6" />
<line x1="505.4" y1="64.05" x2="513.4" y2="64.05" stroke="#000" stroke-width="1.6" />
<line x1="505.4" y1="39.93" x2="509.4" y2="39.93" stroke="#000" stroke-width="1.6" />
<text x="496" y="214.2" font-family='"Liberation Sans", sans-serif' font-size="15.6" text-anchor="end" fill="#000" font-weight="normal" font-style="normal"  stroke="#000" stroke-width="0.28">1.2</text>
<text x="496" y="165.95" font-family='"Liberation Sans", sans-serif' font-size="15.6" text-anchor="end" fill="#000" font-weight="normal" font-style="normal"  stroke="#000" stroke-width="0.28">1.4</text>
<text x="496" y="117.7" font-family='"Liberation Sans", sans-serif' font-size="15.6" text-anchor="end" fill="#000" font-weight="normal" font-style="normal"  stroke="#000" stroke-width="0.28">1.6</text>
<text x="496" y="69.45" font-family='"Liberation Sans", sans-serif' font-size="15.6" text-anchor="end" fill="#000" font-weight="normal" font-style="normal"  stroke="#000" stroke-width="0.28">1.8</text>
<text x="496" y="21.2" font-family='"Liberation Sans", sans-serif' font-size="15.6" text-anchor="end" fill="#000" font-weight="normal" font-style="normal"  stroke="#000" stroke-width="0.28">2.0</text>
<line x1="523.43" y1="208.8" x2="523.43" y2="200.8" stroke="#000" stroke-width="1.6" />
<line x1="541.47" y1="208.8" x2="541.47" y2="205.2" stroke="#000" stroke-width="1.6" />
<line x1="559.5" y1="208.8" x2="559.5" y2="200.8" stroke="#000" stroke-width="1.6" />
<line x1="577.53" y1="208.8" x2="577.53" y2="205.2" stroke="#000" stroke-width="1.6" />
<line x1="595.57" y1="208.8" x2="595.57" y2="200.8" stroke="#000" stroke-width="1.6" />
<line x1="613.6" y1="208.8" x2="613.6" y2="205.2" stroke="#000" stroke-width="1.6" />
<line x1="631.63" y1="208.8" x2="631.63" y2="200.8" stroke="#000" stroke-width="1.6" />
<line x1="649.67" y1="208.8" x2="649.67" y2="205.2" stroke="#000" stroke-width="1.6" />
<text x="523.43" y="229.5" font-family='"Liberation Sans", sans-serif' font-size="15.6" text-anchor="middle" fill="#000" font-weight="normal" font-style="normal"  stroke="#000" stroke-width="0.28">0</text>
<text x="559.5" y="229.5" font-family='"Liberation Sans", sans-serif' font-size="15.6" text-anchor="middle" fill="#000" font-weight="normal" font-style="normal"  stroke="#000" stroke-width="0.28">10</text>
<text x="595.57" y="229.5" font-family='"Liberation Sans", sans-serif' font-size="15.6" text-anchor="middle" fill="#000" font-weight="normal" font-style="normal"  stroke="#000" stroke-width="0.28">20</text>
<text x="631.63" y="229.5" font-family='"Liberation Sans", sans-serif' font-size="15.6" text-anchor="middle" fill="#000" font-weight="normal" font-style="normal"  stroke="#000" stroke-width="0.28">30</text>
<text x="667.7" y="229.5" font-family='"Liberation Sans", sans-serif' font-size="15.6" text-anchor="middle" fill="#000" font-weight="normal" font-style="normal"  stroke="#000" stroke-width="0.28">40</text>
<text x="588" y="250" font-family='"Liberation Sans", sans-serif' font-size="16.2" text-anchor="middle" stroke="#000" stroke-width="0.28"><tspan font-style="italic">I</tspan><tspan font-size="11" dy="4">Dia</tspan><tspan dy="-4">/</tspan><tspan font-style="italic">I</tspan><tspan font-size="11" dy="4">G</tspan></text>
<text x="463.5" y="111.6" font-family='"Liberation Sans", sans-serif' font-size="16.2" text-anchor="middle" transform="rotate(-90 463.5 111.6)" stroke="#000" stroke-width="0.28"><tspan font-style="italic">E</tspan><tspan font-size="11" dy="4">g</tspan><tspan dy="-4"> (eV)</tspan></text>
<text x="450.8" y="16.8" font-family='"Liberation Sans", sans-serif' font-size="22" text-anchor="start" fill="#000" font-weight="bold" font-style="normal" >c</text>
<path d="M58.4,334.68L58.75,335.19 59.1,335.36 59.45,335.28 59.8,334.75 60.15,335.46 60.5,335.33 60.85,335.33 61.2,335.34 61.55,335.46 61.9,335.86 62.25,334.86 62.6,335.09 62.95,335.68 63.3,334.6 63.65,335.18 64,334.82 64.35,335.06 64.7,335.23 65.05,334.38 65.4,334.71 65.75,334.57 66.1,334.98 66.45,334.81 66.8,335.58 67.15,334.84 67.5,335.65 67.85,334.91 68.2,335.14 68.55,335.06 68.9,335.05 69.25,334.65 69.6,335.16 69.95,335.17 70.3,335.12 70.65,335.25 71,334.75 71.35,334.93 71.7,334.8 72.05,334.43 72.4,335.16 72.75,334.8 73.1,335 73.45,335.81 73.8,335.1 74.15,335.06 74.5,335.39 74.85,335.45 75.2,335.65 75.55,334.83 75.9,335.64 76.25,334.96 76.6,334.6 76.95,334.68 77.3,335.39 77.65,335.27 78,335.45 78.35,334.68 78.7,334.88 79.05,334.58 79.4,334.31 79.75,334.99 80.1,335.55 80.45,335.38 80.8,334.72 81.15,335.4 81.5,334.79 81.85,335.09 82.2,335.27 82.55,334.84 82.9,334.67 83.25,335.21 83.6,334.92 83.95,334.78 84.3,335.2 84.65,334.9 85,335.11 85.35,334.63 85.7,335.22 86.05,334.63 86.4,334.83 86.75,334.31 87.1,335.37 87.45,334.99 87.8,335.12 88.15,334.36 88.5,335.01 88.85,334.82 89.2,335.37 89.55,334.4 89.9,335.07 90.25,335.32 90.6,334.53 90.95,334.98 91.3,334.56 91.65,334.96 92,335.05 92.35,335.4 92.7,334.99 93.05,334.69 93.4,335.13 93.75,334.93 94.1,335.31 94.45,334.71 94.8,335.39 95.15,334.98 95.5,335.01 95.85,335.27 96.2,334.73 96.55,334.74 96.9,335.09 97.25,334.88 97.6,334.93 97.95,334.77 98.3,334.8 98.65,335.21 99,335.59 99.35,334.42 99.7,335.43 100.05,335.16 100.4,335.32 100.75,334.96 101.1,334.64 101.45,334.82 101.8,334.56 102.15,334.3 102.5,334.86 102.85,334.97 103.2,334.78 103.55,334.95 103.9,334.34 104.25,335.25 104.6,334.82 104.95,334.89 105.3,335.12 105.65,334.67 106,335.78 106.35,335.3 106.7,335.29 107.05,334.91 107.4,334.61 107.75,335.03 108.1,334.6 108.45,334.93 108.8,334.93 109.15,335.28 109.5,335 109.85,334.9 110.2,335.33 110.55,334.8 110.9,334.65 111.25,334.66 111.6,335.34 111.95,334.84 112.3,334.63 112.65,334.14 113,334.46 113.35,334.93 113.7,335.03 114.05,335.4 114.4,334.57 114.75,334.99 115.1,335.26 115.45,334.01 115.8,335.62 116.15,334.41 116.5,334.4 116.85,335.13 117.2,334.94 117.55,335.22 117.9,335.02 118.25,334.89 118.6,334.74 118.95,334.51 119.3,334.99 119.65,334.1 120,334.71 120.35,335.04 120.7,334.36 121.05,335.06 121.4,335.1 121.75,334.78 122.1,334.7 122.45,334.94 122.8,334.97 123.15,334.65 123.5,335.46 123.85,335.27 124.2,335.08 124.55,335.22 124.9,335.18 125.25,334.23 125.6,335.6 125.95,334.2 126.3,334.78 126.65,334.31 127,334.92 127.35,334.84 127.7,334.77 128.05,333.67 128.4,334.95 128.75,334.75 129.1,333.94 129.45,335.18 129.8,334.59 130.15,334.37 130.5,334.78 130.85,334.43 131.2,334.74 131.55,334.47 131.9,334.27 132.25,334.17 132.6,334.85 132.95,334.59 133.3,334.27 133.65,334.32 134,334.2 134.35,335.25 134.7,334.61 135.05,334.52 135.4,334.97 135.75,334.18 136.1,334 136.45,334.18 136.8,334.38 137.15,334.22 137.5,334.13 137.85,334.26 138.2,334 138.55,333.72 138.9,334.3 139.25,333.86 139.6,333.76 139.95,333.92 140.3,333.72 140.65,332.95 141,332.77 141.35,332.08 141.7,331.51 142.05,331.15 142.4,329.65 142.75,327.87 143.1,325.63 143.45,323.91 143.8,320.13 144.15,316.66 144.5,312.4 144.85,307.64 145.2,303.59 145.55,299.24 145.9,296.24 146.25,294.11 146.6,292.9 146.95,295.42 147.3,298.98 147.65,303.29 148,307.41 148.35,311.66 148.7,316.28 149.05,320.07 149.4,322.61 149.75,326.23 150.1,327.82 150.45,328.97 150.8,331.01 151.15,330.6 151.5,331.37 151.85,331.76 152.2,332.84 152.55,332.37 152.9,333.04 153.25,332.98 153.6,332.76 153.95,333.08 154.3,332.67 154.65,333.42 155,332.82 155.35,332.89 155.7,333.47 156.05,333.09 156.4,333.93 156.75,333.78 157.1,332.74 157.45,333.39 157.8,333.3 158.15,334.12 158.5,333.18 158.85,333.17 159.2,333.33 159.55,333.33 159.9,333.1 160.25,333.52 160.6,333.25 160.95,333.15 161.3,333.99 161.65,333.52 162,333.1 162.35,332.99 162.7,333.37 163.05,333.06 163.4,333.05 163.75,333.9 164.1,333.47 164.45,333.33 164.8,333.61 165.15,333.35 165.5,333.59 165.85,334.2 166.2,333.57 166.55,333.38 166.9,333.2 167.25,333.83 167.6,333.56 167.95,333.77 168.3,333.08 168.65,333.52 169,333.7 169.35,333.86 169.7,333.78 170.05,333.6 170.4,334.16 170.75,333.71 171.1,333.01 171.45,333.3 171.8,333.74 172.15,333.85 172.5,333.32 172.85,333.37 173.2,333.94 173.55,333.91 173.9,333.96 174.25,334.1 174.6,333.88 174.95,333.59 175.3,334.33 175.65,334.26 176,334.52 176.35,334.09 176.7,333.99 177.05,334.04 177.4,334.09 177.75,333.35 178.1,333.95 178.45,333.9 178.8,334.16 179.15,334.16 179.5,333.95 179.85,333.92 180.2,333.61 180.55,334.19 180.9,333.94 181.25,333.99 181.6,334.5 181.95,334.5 182.3,334.03 182.65,334.74 183,334.41 183.35,334.18 183.7,333.86 184.05,333.87 184.4,334.51 184.75,333.5 185.1,334.8 185.45,334.44 185.8,334.08 186.15,334.78 186.5,334.3 186.85,333.78 187.2,333.99 187.55,333.84 187.9,333.81 188.25,334.92 188.6,334.27 188.95,334.18 189.3,334.52 189.65,334.45 190,334.01 190.35,333.9 190.7,333.56 191.05,334.58 191.4,334.16 191.75,334.57 192.1,334.26 192.45,333.77 192.8,334.03 193.15,334.78 193.5,334.03 193.85,334.42 194.2,333.41 194.55,333.96 194.9,334.58 195.25,333.56 195.6,334.6 195.95,334.04 196.3,334 196.65,334.71 197,334.01 197.35,334.57 197.7,334.03 198.05,334.29 198.4,334.51 198.75,334.51 199.1,334.02 199.45,333.28 199.8,334.67 200.15,333.84 200.5,334.45 200.85,333.69 201.2,333.79 201.55,333.94 201.9,333.85 202.25,334.51 202.6,333.16 202.95,333.53 203.3,333.76 203.65,333.77 204,333.56 204.35,333.56 204.7,333.78 205.05,333.16 205.4,333.09 205.75,333.17 206.1,333.37 206.45,332.54 206.8,333.63 207.15,332.75 207.5,332.56 207.85,332.56 208.2,332.2 208.55,332.16 208.9,332.27 209.25,332.45 209.6,332.43 209.95,331.93 210.3,331.85 210.65,332.01 211,331.07 211.35,331.57 211.7,331.9 212.05,332.01 212.4,331.26 212.75,330.77 213.1,330.96 213.45,331.56 213.8,331.79 214.15,330.99 214.5,330.51 214.85,331.1 215.2,331.35 215.55,331.43 215.9,331.3 216.25,332.11 216.6,331.32 216.95,332.42 217.3,331.13 217.65,332.13 218,332.11 218.35,332.11 218.7,331.66 219.05,331.99 219.4,331.72 219.75,332.26 220.1,332.45 220.45,332.65 220.8,332.12 221.15,332.38 221.5,331.97 221.85,332.84 222.2,332.54 222.55,333.35 222.9,332.87 223.25,333.32 223.6,333.08 223.95,333.27 224.3,333.27 224.65,332.99 225,333.77 225.35,333.22 225.7,334.03 226.05,332.77 226.4,333.51 226.75,334.02 227.1,334.07 227.45,333.12 227.8,333.91 228.15,333.94 228.5,334.01 228.85,333.81 229.2,333.69 229.55,334.06 229.9,334.21 230.25,334.38 230.6,334.03 230.95,333.79 231.3,334.35 231.65,333.62 232,333.87 232.35,333.91 232.7,334.14 233.05,334.22 233.4,334.87 233.75,334.4 234.1,334.52 234.45,334.05 234.8,333.82 235.15,334.08 235.5,334.03 235.85,334.95 236.2,334.74 236.55,334.53 236.9,334.21 237.25,333.78 237.6,334.13 237.95,334.03 238.3,333.98 238.65,334.4 239,334.87 239.35,334.98 239.7,334.19 240.05,334.3 240.4,334.38 240.75,334.03 241.1,334.73 241.45,334.45 241.8,334.3 242.15,334.47 242.5,334.11 242.85,334.19 243.2,334.72 243.55,334.62 243.9,334.33 244.25,333.77 244.6,335.15 244.95,334.44 245.3,334.62 245.65,333.94 246,334.49 246.35,334.5 246.7,334.4 247.05,334.71 247.4,333.68 247.75,334.72 248.1,334.16 248.45,334.12 248.8,334.29 249.15,334.44 249.5,334.36 249.85,334.16 250.2,334.5 250.55,335.29 250.9,334.53 251.25,334.16 251.6,334.72 251.95,334.6 252.3,334.01 252.65,334.72 253,333.8 253.35,334.45 253.7,334.94 254.05,333.86 254.4,334.11 254.75,333.99 255.1,334.74 255.45,334.02 255.8,334.23 256.15,334.4 256.5,334.6 256.85,334.5 257.2,333.92 257.55,333.54 257.9,334.58 258.25,334.25 258.6,334.45 258.95,334.02 259.3,334.22 259.65,334.71 260,333.7 260.35,334.15 260.7,333.67 261.05,334.68 261.4,334.28 261.75,333.88 262.1,333.64 262.45,334.25 262.8,334.26 263.15,334.15 263.5,334.68 263.85,333.86 264.2,334.48 264.55,334.74 264.9,334 265.25,334.51 265.6,334.74 265.95,333.73 266.3,333.98 266.65,333.76 267,334.38 267.35,334.86 267.7,333.7 268.05,334.2 268.4,335.14 268.75,333.98 269.1,334.42 269.45,334.4 269.8,334.02 270.15,334.51 270.5,334.32 270.85,334.15 271.2,334.09 271.55,334.64 271.9,334.24 272.25,333.92 272.6,334 272.95,334.29 273.3,334.33 273.65,333.68 274,334.49 274.35,333.75 274.7,333.54 275.05,334.05 275.4,334.29 275.75,334.51 276.1,333.76 276.45,334.04 276.8,334.53 277.15,334.15 277.5,334.56 277.85,334.39 278.2,333.64 278.55,333.88 278.9,334.47 279.25,333.31 279.6,334.45 279.95,334.1 280.3,333.84 280.65,334.95 281,333.84 281.35,333.92 281.7,334.04 282.05,334.03 282.4,334.34 282.75,334.29 283.1,333.3 283.45,334.55 283.8,334.52 284.15,334.47 284.5,334.31 284.85,333.6 285.2,334.4 285.55,333.97 285.9,333.76 286.25,334.15 286.6,334.36 286.95,333.78 287.3,333.75 287.65,334.33 288,334.49 288.35,333.93 288.7,334.19 289.05,334.12 289.4,334.59 289.75,334.21 290.1,333.48 290.45,333.82 290.8,334.54 291.15,334.59 291.5,334.57 291.85,334.03 292.2,333.79 292.55,334.36 292.9,334.06 293.25,334.01 293.6,333.86 293.95,334.22 294.3,333.78 294.65,333.95 295,334.78 295.35,334.06 295.7,334.53 296.05,334.17 296.4,334.23 296.75,334.15 297.1,334.87 297.45,334.21 297.8,334.18 298.15,334.14 298.5,333.91 298.85,334.5 299.2,333.79 299.55,333.54 299.9,334.16 300.25,334.23 300.6,333.65 300.95,334.17 301.3,334.06 301.65,333.5 302,333.32 302.35,334.18 302.7,334.06 303.05,334.35 303.4,333.59 303.75,334.47 304.1,334.1 304.45,334.21 304.8,334.74 305.15,334.04 305.5,333.99 305.85,333.9 306.2,333.54 306.55,334.01 306.9,333.53 307.25,333.67 307.6,333.41 307.95,334.31 308.3,334 308.65,334.47 309,333.84 309.35,333.9 309.7,333.78 310.05,333.7 310.4,334.64 310.75,333.04 311.1,334.48 311.45,334.44 311.8,333.86 312.15,334.07 312.5,334.57 312.85,334.02 313.2,333.29 313.55,333.77 313.9,334.47 314.25,333.67 314.6,334.44 314.95,333.86 315.3,334.27 315.65,333.83 316,333.77 316.35,333.89 316.7,333.25 317.05,334.21 317.4,333.24 317.75,333.98 318.1,333.61 318.45,334.12" fill="none" stroke="#a3c6f5" stroke-width="1.8" stroke-linejoin="round"/>
<path d="M58.4,368.91L58.75,368.48 59.1,369.4 59.45,369.45 59.8,369.08 60.15,369.31 60.5,369.78 60.85,369.55 61.2,369.43 61.55,369.42 61.9,368.88 62.25,369.52 62.6,368.6 62.95,369.06 63.3,369.02 63.65,368.57 64,369.14 64.35,369.75 64.7,369.05 65.05,368.75 65.4,369.14 65.75,369.47 66.1,369.24 66.45,369.17 66.8,368.67 67.15,369.34 67.5,369.33 67.85,369.63 68.2,369.68 68.55,369.4 68.9,368.59 69.25,368.66 69.6,368.77 69.95,369.26 70.3,368.88 70.65,369.61 71,369.24 71.35,369.28 71.7,369.41 72.05,369.27 72.4,368.66 72.75,370.01 73.1,369.66 73.45,369.68 73.8,368.88 74.15,368.5 74.5,368.62 74.85,368.77 75.2,369.45 75.55,369.46 75.9,369.65 76.25,369.89 76.6,369.32 76.95,369.26 77.3,369.01 77.65,369.02 78,368.73 78.35,369.31 78.7,369.24 79.05,368.99 79.4,368.85 79.75,369.29 80.1,369.58 80.45,369.15 80.8,369.22 81.15,368.93 81.5,369.04 81.85,369.01 82.2,369.02 82.55,368.91 82.9,369.26 83.25,369.57 83.6,368.78 83.95,369.6 84.3,368.97 84.65,368.98 85,368.36 85.35,368.26 85.7,369.37 86.05,368.73 86.4,369.39 86.75,369.12 87.1,369.19 87.45,369.57 87.8,369.08 88.15,367.96 88.5,368.49 88.85,369.44 89.2,369.8 89.55,369.06 89.9,368.85 90.25,368.61 90.6,369.28 90.95,368.46 91.3,368.66 91.65,369.14 92,369.12 92.35,369 92.7,369.46 93.05,368.65 93.4,368.67 93.75,368.94 94.1,369.1 94.45,368.96 94.8,369.78 95.15,368.87 95.5,369.3 95.85,368.87 96.2,369.19 96.55,368.92 96.9,368.93 97.25,369.64 97.6,368.95 97.95,369.67 98.3,368.81 98.65,368.9 99,369.45 99.35,368.2 99.7,368.48 100.05,369.07 100.4,369.23 100.75,369.26 101.1,368.94 101.45,368.55 101.8,369.35 102.15,369.21 102.5,368.65 102.85,369.08 103.2,369.69 103.55,369.09 103.9,368.63 104.25,368.89 104.6,368.91 104.95,369.16 105.3,369.36 105.65,368.71 106,368.81 106.35,369.4 106.7,369.3 107.05,369.51 107.4,368.51 107.75,368.69 108.1,369.39 108.45,368.69 108.8,369.14 109.15,369 109.5,368.76 109.85,369.54 110.2,369.01 110.55,368.84 110.9,368.96 111.25,369.1 111.6,368.45 111.95,368.7 112.3,368.55 112.65,368.26 113,369.35 113.35,369.51 113.7,369.42 114.05,368.37 114.4,369.14 114.75,369.24 115.1,368.79 115.45,369.28 115.8,368.59 116.15,368.6 116.5,368.69 116.85,368.73 117.2,368.62 117.55,369.32 117.9,368.59 118.25,368.81 118.6,368.74 118.95,369.75 119.3,368.65 119.65,369.13 120,369.61 120.35,368.54 120.7,368.66 121.05,368.83 121.4,368.48 121.75,369.38 122.1,368.77 122.45,369.31 122.8,369.12 123.15,368.94 123.5,369.27 123.85,368.82 124.2,369.29 124.55,368.45 124.9,368.65 125.25,369.33 125.6,368.16 125.95,369.07 126.3,368.75 126.65,368.7 127,368.64 127.35,369.33 127.7,368.34 128.05,369.16 128.4,369.03 128.75,368.7 129.1,368.82 129.45,369.09 129.8,368.62 130.15,368.29 130.5,368.92 130.85,368.51 131.2,368.65 131.55,368.81 131.9,369.03 132.25,369.4 132.6,368.87 132.95,368.78 133.3,369.01 133.65,368.81 134,368.1 134.35,368.46 134.7,368.22 135.05,368.88 135.4,369.06 135.75,368.71 136.1,368.2 136.45,368.81 136.8,368.16 137.15,368.54 137.5,367.99 137.85,367.88 138.2,367.82 138.55,368.25 138.9,367.94 139.25,368.23 139.6,367.5 139.95,367.97 140.3,367.37 140.65,367.73 141,367.24 141.35,366.24 141.7,365.58 142.05,364.57 142.4,363.25 142.75,361.19 143.1,359.41 143.45,356.11 143.8,352.38 144.15,349.47 144.5,345.32 144.85,341.39 145.2,337.05 145.55,332.96 145.9,329.86 146.25,328.17 146.6,327.33 146.95,329.04 147.3,332.42 147.65,336.66 148,340.16 148.35,345.02 148.7,348.8 149.05,352.71 149.4,355.6 149.75,358.56 150.1,360.64 150.45,362.9 150.8,363.66 151.15,364.69 151.5,365.52 151.85,365.41 152.2,366.05 152.55,367.19 152.9,367.06 153.25,367.05 153.6,367.51 153.95,367.14 154.3,367.18 154.65,367.22 155,366.75 155.35,367.74 155.7,367.37 156.05,367.44 156.4,367.38 156.75,367.3 157.1,366.75 157.45,367.61 157.8,368.34 158.15,367.94 158.5,367.51 158.85,367.3 159.2,367.64 159.55,367.78 159.9,367.62 160.25,367.96 160.6,367.35 160.95,368.07 161.3,367.76 161.65,367.52 162,367.62 162.35,367.85 162.7,368.01 163.05,367.78 163.4,367.97 163.75,368.61 164.1,367.21 164.45,367.09 164.8,367.83 165.15,367.47 165.5,367.86 165.85,367.27 166.2,367.89 166.55,368.31 166.9,368.25 167.25,367.49 167.6,367.78 167.95,368.21 168.3,368.55 168.65,367.59 169,367.64 169.35,368.34 169.7,367.83 170.05,367.61 170.4,368.35 170.75,367.41 171.1,367.77 171.45,368.36 171.8,367.81 172.15,368.31 172.5,367.63 172.85,368.34 173.2,368.25 173.55,368.67 173.9,368.03 174.25,368 174.6,368.11 174.95,368.52 175.3,367.9 175.65,368.13 176,368.87 176.35,368.48 176.7,368.47 177.05,368.05 177.4,368.54 177.75,367.85 178.1,367.75 178.45,367.95 178.8,368.79 179.15,368.36 179.5,367.99 179.85,368.2 180.2,368.5 180.55,368.76 180.9,367.79 181.25,368.84 181.6,368.71 181.95,368.15 182.3,368.27 182.65,368.59 183,368.32 183.35,368.48 183.7,368.07 184.05,367.82 184.4,369.31 184.75,368.53 185.1,368.56 185.45,368.67 185.8,368.96 186.15,368.83 186.5,368.15 186.85,368.48 187.2,368.55 187.55,368.8 187.9,368.33 188.25,368.68 188.6,368.63 188.95,369.04 189.3,367.64 189.65,368.59 190,368.68 190.35,368.81 190.7,368.57 191.05,368.29 191.4,368.81 191.75,368.71 192.1,368.29 192.45,368.1 192.8,368.78 193.15,368.28 193.5,368.81 193.85,369.11 194.2,368.65 194.55,368.65 194.9,368.61 195.25,369.05 195.6,369.05 195.95,368.58 196.3,368.8 196.65,368.55 197,368.35 197.35,368.78 197.7,368.46 198.05,368.18 198.4,367.94 198.75,368.79 199.1,368.08 199.45,368.01 199.8,368.28 200.15,368.61 200.5,367.71 200.85,368.51 201.2,368.39 201.55,367.79 201.9,367.78 202.25,368.07 202.6,368.77 202.95,367.95 203.3,368.37 203.65,368.27 204,367.33 204.35,367.82 204.7,368.1 205.05,367.52 205.4,368.05 205.75,367.17 206.1,366.96 206.45,367.24 206.8,367.55 207.15,367.1 207.5,367.47 207.85,366.51 208.2,366.76 208.55,367.34 208.9,365.91 209.25,366.77 209.6,366.25 209.95,366.2 210.3,366.24 210.65,365.73 211,366.47 211.35,366.24 211.7,366.37 212.05,365.9 212.4,365.42 212.75,365.9 213.1,365.14 213.45,365.23 213.8,366.24 214.15,365.86 214.5,365.62 214.85,366 215.2,365.4 215.55,365.75 215.9,365.32 216.25,365.55 216.6,365.78 216.95,366.36 217.3,365.69 217.65,366.4 218,366.13 218.35,365.62 218.7,365.67 219.05,366.2 219.4,366.93 219.75,366.74 220.1,367.39 220.45,366.91 220.8,367.44 221.15,367.12 221.5,366.81 221.85,367.46 222.2,367.04 222.55,366.88 222.9,367.19 223.25,367.39 223.6,367.69 223.95,367.97 224.3,367.95 224.65,368.53 225,367.17 225.35,367.85 225.7,368.88 226.05,367.91 226.4,367.63 226.75,367.85 227.1,367.81 227.45,368.02 227.8,368.84 228.15,367.78 228.5,368.05 228.85,368.83 229.2,368.46 229.55,368.5 229.9,368.27 230.25,368.76 230.6,368.09 230.95,368.8 231.3,368.53 231.65,368.43 232,368.33 232.35,368.86 232.7,368.66 233.05,368.41 233.4,368.6 233.75,368.2 234.1,369.03 234.45,369.07 234.8,368.99 235.15,368.7 235.5,368.78 235.85,368.13 236.2,368.49 236.55,368.53 236.9,368.58 237.25,368.85 237.6,368.47 237.95,368.37 238.3,369.06 238.65,368.53 239,368.41 239.35,367.93 239.7,368.16 240.05,368.56 240.4,368.74 240.75,368.02 241.1,368.64 241.45,368.76 241.8,368.47 242.15,368.67 242.5,369.14 242.85,368.38 243.2,368.05 243.55,368.51 243.9,368.34 244.25,368.63 244.6,368.89 244.95,368.96 245.3,368.76 245.65,369.14 246,368.78 246.35,369.01 246.7,368.77 247.05,368.74 247.4,368.47 247.75,368.65 248.1,368.45 248.45,368.54 248.8,368.67 249.15,369.05 249.5,368.56 249.85,368.86 250.2,368.21 250.55,368.55 250.9,369.09 251.25,368.77 251.6,368.01 251.95,368.63 252.3,368.56 252.65,368.23 253,368.03 253.35,368.31 253.7,368.27 254.05,368.89 254.4,368.85 254.75,368.87 255.1,369.02 255.45,367.88 255.8,368.54 256.15,368.76 256.5,368.41 256.85,368.42 257.2,368.36 257.55,368.7 257.9,368.62 258.25,369.07 258.6,368.77 258.95,368.71 259.3,368.63 259.65,368.36 260,368.68 260.35,368.92 260.7,368.8 261.05,368.26 261.4,368.11 261.75,368.88 262.1,368.7 262.45,368.73 262.8,368.33 263.15,368.89 263.5,368.89 263.85,368.54 264.2,368.83 264.55,368.31 264.9,368.6 265.25,367.93 265.6,368.53 265.95,369.49 266.3,368.88 266.65,369.23 267,368.83 267.35,368.72 267.7,368.71 268.05,368.49 268.4,368.89 268.75,368.38 269.1,368.65 269.45,369.78 269.8,368.81 270.15,368.47 270.5,369.01 270.85,368.78 271.2,368.54 271.55,368.24 271.9,368.57 272.25,368.47 272.6,368.65 272.95,368.76 273.3,368.73 273.65,368.3 274,368.81 274.35,368.77 274.7,368.11 275.05,368.73 275.4,368.59 275.75,368.75 276.1,368.23 276.45,368.5 276.8,368.53 277.15,368.17 277.5,368.79 277.85,368.5 278.2,368.74 278.55,368.25 278.9,368.11 279.25,368.19 279.6,367.83 279.95,368.33 280.3,368.74 280.65,369.11 281,369.01 281.35,369.06 281.7,369.06 282.05,369.36 282.4,368.67 282.75,368.94 283.1,368.83 283.45,367.69 283.8,368.66 284.15,368.62 284.5,368.74 284.85,368.42 285.2,368.34 285.55,368.41 285.9,368.86 286.25,368.76 286.6,369.12 286.95,368.14 287.3,368.99 287.65,369.27 288,368.26 288.35,368.61 288.7,368.02 289.05,367.59 289.4,368.09 289.75,368.59 290.1,368.65 290.45,368.43 290.8,368.8 291.15,368.69 291.5,369.24 291.85,368.05 292.2,368.24 292.55,368.35 292.9,368.32 293.25,368.38 293.6,369.41 293.95,368.42 294.3,368.79 294.65,368.04 295,368.3 295.35,368.86 295.7,368.91 296.05,367.97 296.4,369.31 296.75,368.7 297.1,368.27 297.45,368.72 297.8,368.31 298.15,368.02 298.5,368.61 298.85,368.85 299.2,368.94 299.55,367.94 299.9,368.19 300.25,368.47 300.6,368.93 300.95,369.02 301.3,368.39 301.65,368.09 302,368.74 302.35,368.36 302.7,368.69 303.05,368.92 303.4,368.76 303.75,368.16 304.1,368.08 304.45,367.98 304.8,368.8 305.15,368.94 305.5,368.15 305.85,368.33 306.2,368.18 306.55,368.47 306.9,368.2 307.25,368.2 307.6,368.97 307.95,368.85 308.3,368.52 308.65,368.93 309,368.29 309.35,368.68 309.7,368.16 310.05,368.23 310.4,368.86 310.75,368.05 311.1,368.34 311.45,368.06 311.8,368.03 312.15,368.49 312.5,368.51 312.85,367.93 313.2,369.27 313.55,369.03 313.9,368.14 314.25,368.62 314.6,368.52 314.95,368.23 315.3,367.99 315.65,368.47 316,368.4 316.35,368.9 316.7,368.52 317.05,368.09 317.4,368.21 317.75,368.45 318.1,368.81 318.45,368.03" fill="none" stroke="#80b0f0" stroke-width="1.8" stroke-linejoin="round"/>
<path d="M58.4,404.51L58.75,405.05 59.1,404.63 59.45,403.91 59.8,404.08 60.15,404.59 60.5,404.27 60.85,404.71 61.2,403.61 61.55,405.03 61.9,404.95 62.25,403.78 62.6,404.19 62.95,404.08 63.3,404.16 63.65,404.64 64,404.12 64.35,403.98 64.7,404.55 65.05,404.78 65.4,404.15 65.75,404.41 66.1,403.8 66.45,404.66 66.8,405.12 67.15,404.53 67.5,404.29 67.85,403.59 68.2,404.2 68.55,403.58 68.9,404.59 69.25,404.95 69.6,404.81 69.95,404.37 70.3,404.49 70.65,404.07 71,404.39 71.35,404.39 71.7,404.3 72.05,403.34 72.4,404.4 72.75,404.46 73.1,404.03 73.45,404.45 73.8,404.59 74.15,403.51 74.5,404.62 74.85,404.1 75.2,403.86 75.55,404.33 75.9,403.98 76.25,404.09 76.6,403.89 76.95,404.01 77.3,403.82 77.65,404.04 78,403.86 78.35,403.77 78.7,404.64 79.05,404.27 79.4,404.42 79.75,404.89 80.1,404.51 80.45,404.27 80.8,403.87 81.15,404.55 81.5,404.44 81.85,404.64 82.2,404.22 82.55,404.13 82.9,403.51 83.25,404.47 83.6,403.7 83.95,404.08 84.3,404.44 84.65,404.28 85,404.22 85.35,404.41 85.7,403.61 86.05,404.27 86.4,404.71 86.75,404.67 87.1,403.71 87.45,404.59 87.8,404.41 88.15,403.89 88.5,403.75 88.85,404.19 89.2,404.75 89.55,404.42 89.9,403.9 90.25,404.28 90.6,404.63 90.95,404.21 91.3,404.08 91.65,404.41 92,403.49 92.35,404.4 92.7,403.75 93.05,404.21 93.4,404.37 93.75,404.19 94.1,403.97 94.45,404.1 94.8,404.54 95.15,403.75 95.5,403.91 95.85,404.35 96.2,404.53 96.55,404.23 96.9,404.05 97.25,404.49 97.6,404.1 97.95,404.98 98.3,404.72 98.65,404.92 99,403.89 99.35,404.06 99.7,404.14 100.05,403.79 100.4,404.05 100.75,404.58 101.1,403.87 101.45,404.13 101.8,404.78 102.15,404.35 102.5,404.42 102.85,404.24 103.2,404.01 103.55,404.1 103.9,404.33 104.25,404.02 104.6,404.25 104.95,404.07 105.3,404.2 105.65,404.8 106,404.45 106.35,403.76 106.7,404.16 107.05,404.9 107.4,404.89 107.75,403.81 108.1,404.39 108.45,404.23 108.8,403.31 109.15,404.33 109.5,404.95 109.85,403.97 110.2,404.11 110.55,404.57 110.9,404.06 111.25,404.06 111.6,404.32 111.95,403.7 112.3,404.4 112.65,403.74 113,404.24 113.35,404.51 113.7,404.81 114.05,403.93 114.4,404.3 114.75,404.3 115.1,403.56 115.45,404.17 115.8,404.29 116.15,404.4 116.5,404.92 116.85,404.24 117.2,404.18 117.55,404.17 117.9,404.19 118.25,404.37 118.6,404.77 118.95,403.82 119.3,404.2 119.65,403.33 120,403.58 120.35,404.24 120.7,403.42 121.05,404.3 121.4,404.64 121.75,403.86 122.1,403.91 122.45,404.17 122.8,403.97 123.15,404.14 123.5,403.9 123.85,404.46 124.2,404.26 124.55,404.12 124.9,403.33 125.25,403.88 125.6,404.15 125.95,404.38 126.3,403.89 126.65,404.34 127,404.42 127.35,403.89 127.7,404.37 128.05,404.03 128.4,403.7 128.75,404.07 129.1,404.55 129.45,404.21 129.8,404.07 130.15,404.36 130.5,404.31 130.85,404.11 131.2,403.37 131.55,403.12 131.9,403.42 132.25,404.58 132.6,404.22 132.95,403.41 133.3,404.22 133.65,403.42 134,403.97 134.35,404.21 134.7,403.82 135.05,404.13 135.4,404.13 135.75,403.18 136.1,403.72 136.45,403.89 136.8,403.5 137.15,403.15 137.5,404.11 137.85,403.63 138.2,403.27 138.55,403.08 138.9,403.29 139.25,403.62 139.6,402.88 139.95,403.04 140.3,402.7 140.65,402.16 141,401.74 141.35,401.09 141.7,399.83 142.05,398.48 142.4,397.71 142.75,396.07 143.1,393.45 143.45,390.21 143.8,387.36 144.15,383.63 144.5,379.53 144.85,375.7 145.2,371.96 145.55,368.8 145.9,365.46 146.25,364.77 146.6,363.79 146.95,365.89 147.3,368.7 147.65,372.03 148,375.92 148.35,379.92 148.7,383.68 149.05,387.29 149.4,390.78 149.75,393.03 150.1,395.61 150.45,397.22 150.8,398.22 151.15,399.65 151.5,400.56 151.85,401.27 152.2,401.3 152.55,402.15 152.9,401.81 153.25,402.13 153.6,402.55 153.95,402.48 154.3,402.2 154.65,402.12 155,402.44 155.35,402.42 155.7,403.44 156.05,402.37 156.4,402.26 156.75,403.55 157.1,402.23 157.45,402.62 157.8,403.03 158.15,402.88 158.5,403 158.85,403.44 159.2,403.73 159.55,403.01 159.9,403.07 160.25,402.85 160.6,402.78 160.95,402.83 161.3,403.06 161.65,402.83 162,403.11 162.35,402.85 162.7,402.65 163.05,402.91 163.4,402.95 163.75,402.87 164.1,402.91 164.45,403.26 164.8,402.62 165.15,403.41 165.5,402.89 165.85,403.07 166.2,403.56 166.55,403.46 166.9,402.51 167.25,403.28 167.6,403.65 167.95,402.85 168.3,403.04 168.65,403.68 169,402.78 169.35,403.85 169.7,402.79 170.05,403.01 170.4,403.09 170.75,403.14 171.1,403.57 171.45,403.47 171.8,403.39 172.15,403.42 172.5,402.8 172.85,403.15 173.2,403.77 173.55,402.98 173.9,403.91 174.25,403.37 174.6,403.08 174.95,403.73 175.3,403.74 175.65,403.25 176,403.3 176.35,403.21 176.7,403.31 177.05,402.73 177.4,403.31 177.75,404.01 178.1,403.4 178.45,403.73 178.8,403.9 179.15,403.68 179.5,403.47 179.85,403.46 180.2,403.47 180.55,403.79 180.9,403.56 181.25,403.97 181.6,404.34 181.95,403.91 182.3,403.24 182.65,403.87 183,403.69 183.35,403.63 183.7,403.53 184.05,403.7 184.4,404.93 184.75,404.91 185.1,404.44 185.45,403.52 185.8,403.91 186.15,404.23 186.5,403.75 186.85,404.09 187.2,404.27 187.55,404.43 187.9,404.05 188.25,404.02 188.6,403.82 188.95,403.79 189.3,403.96 189.65,403.88 190,404.2 190.35,404.04 190.7,403.85 191.05,404.45 191.4,403.82 191.75,404.15 192.1,404.12 192.45,403.74 192.8,403.94 193.15,404.03 193.5,403.74 193.85,403.48 194.2,404.86 194.55,403.71 194.9,403.81 195.25,403.83 195.6,403.91 195.95,404.21 196.3,404.18 196.65,403.68 197,404 197.35,404.1 197.7,403.79 198.05,404.23 198.4,403.91 198.75,404.13 199.1,403.43 199.45,404.39 199.8,403.69 200.15,403.37 200.5,403.38 200.85,403.39 201.2,403.74 201.55,402.81 201.9,403.22 202.25,403.9 202.6,403.91 202.95,403.05 203.3,403.43 203.65,403.41 204,403.19 204.35,403.01 204.7,403.43 205.05,402.99 205.4,403.08 205.75,403.21 206.1,402.53 206.45,402.46 206.8,403.48 207.15,402.26 207.5,402.91 207.85,402.84 208.2,402.36 208.55,402.11 208.9,402.09 209.25,401.75 209.6,401.91 209.95,401.72 210.3,401.5 210.65,401.45 211,401.75 211.35,401.36 211.7,401.17 212.05,401.81 212.4,401.05 212.75,401.18 213.1,400.59 213.45,400.47 213.8,400.96 214.15,401.1 214.5,399.71 214.85,401 215.2,401.06 215.55,400.84 215.9,401.11 216.25,400.6 216.6,401.18 216.95,400.75 217.3,401.15 217.65,401.21 218,401.5 218.35,401.09 218.7,401.76 219.05,401.9 219.4,402.29 219.75,401.79 220.1,402.27 220.45,401.97 220.8,402.48 221.15,402.18 221.5,402.12 221.85,402.38 222.2,403.22 222.55,403.27 222.9,402.88 223.25,402.97 223.6,403.14 223.95,402.57 224.3,403.84 224.65,402.9 225,402.87 225.35,403.28 225.7,403.07 226.05,403.57 226.4,403.73 226.75,403.44 227.1,403.66 227.45,403.44 227.8,403.1 228.15,403.29 228.5,404.45 228.85,403.75 229.2,403.18 229.55,403.46 229.9,403.58 230.25,404.16 230.6,403.96 230.95,404.44 231.3,404.62 231.65,404.19 232,404.18 232.35,404.44 232.7,403.88 233.05,403.94 233.4,403.47 233.75,404.33 234.1,403.76 234.45,404.17 234.8,404.92 235.15,403.62 235.5,403.92 235.85,403.75 236.2,403.71 236.55,404.36 236.9,403.55 237.25,404.22 237.6,404.15 237.95,404.49 238.3,403.5 238.65,403.69 239,404.47 239.35,403.49 239.7,404.19 240.05,404.52 240.4,403.6 240.75,403.76 241.1,404.44 241.45,403.69 241.8,404.42 242.15,404.54 242.5,404.15 242.85,404.11 243.2,404.12 243.55,403.9 243.9,404.42 244.25,404.39 244.6,404.14 244.95,404.25 245.3,403.66 245.65,403.81 246,403.39 246.35,403.94 246.7,404.44 247.05,404.24 247.4,403.96 247.75,404.01 248.1,404 248.45,404.51 248.8,403.74 249.15,404.57 249.5,404.33 249.85,403.63 250.2,404.37 250.55,404.41 250.9,404.02 251.25,404.79 251.6,403.88 251.95,404.03 252.3,404.24 252.65,404.34 253,404.1 253.35,404.49 253.7,403.95 254.05,404.35 254.4,404.12 254.75,404.18 255.1,403.82 255.45,404.13 255.8,403.64 256.15,403.66 256.5,404.11 256.85,404.45 257.2,403.81 257.55,404.33 257.9,404.95 258.25,404.36 258.6,404.38 258.95,404.11 259.3,403.49 259.65,404.02 260,404.19 260.35,403.78 260.7,404.23 261.05,403.91 261.4,404.46 261.75,404.21 262.1,404.26 262.45,404.31 262.8,404.12 263.15,404.73 263.5,403.79 263.85,403.89 264.2,404.16 264.55,404.22 264.9,403.71 265.25,404.52 265.6,404.11 265.95,404.4 266.3,403.98 266.65,404 267,404.28 267.35,404.03 267.7,403.95 268.05,404.29 268.4,404.45 268.75,404.1 269.1,404.33 269.45,403.91 269.8,404.32 270.15,403.89 270.5,404.29 270.85,403.82 271.2,404.26 271.55,404.52 271.9,404.21 272.25,403.61 272.6,404.68 272.95,403.95 273.3,403.41 273.65,404.81 274,403.95 274.35,404.4 274.7,404.26 275.05,404.83 275.4,404.72 275.75,403.57 276.1,404.32 276.45,403.8 276.8,404.14 277.15,404.1 277.5,404.11 277.85,403.74 278.2,404.39 278.55,404.45 278.9,404.44 279.25,404.82 279.6,404.1 279.95,403.85 280.3,404.2 280.65,403.28 281,404.07 281.35,403.73 281.7,403.77 282.05,403.7 282.4,403.73 282.75,404.24 283.1,403.55 283.45,403.79 283.8,404.16 284.15,404.04 284.5,404.59 284.85,404.16 285.2,404.83 285.55,404.43 285.9,403.77 286.25,404.08 286.6,404.67 286.95,403.67 287.3,403.8 287.65,403.5 288,404.1 288.35,404.46 288.7,404.53 289.05,404.07 289.4,403.67 289.75,404.22 290.1,404.08 290.45,404.42 290.8,404.22 291.15,404.56 291.5,403.94 291.85,404.16 292.2,404.11 292.55,404 292.9,404.31 293.25,403.56 293.6,403.63 293.95,403.29 294.3,404.17 294.65,404.43 295,404.3 295.35,404.71 295.7,404.2 296.05,403.85 296.4,404.28 296.75,404.23 297.1,404.23 297.45,404.55 297.8,403.87 298.15,403.89 298.5,404.15 298.85,404.59 299.2,403.91 299.55,404.64 299.9,404.65 300.25,404.05 300.6,403.96 300.95,404.15 301.3,403.64 301.65,404.72 302,404.25 302.35,404.57 302.7,403.97 303.05,404.25 303.4,404.13 303.75,404.75 304.1,403.82 304.45,404.61 304.8,404.2 305.15,404.17 305.5,403.58 305.85,404.13 306.2,404.04 306.55,404.38 306.9,404.01 307.25,403.97 307.6,404.5 307.95,404.26 308.3,404.03 308.65,404.25 309,404.36 309.35,404.12 309.7,404.15 310.05,404.71 310.4,404.16 310.75,403.43 311.1,404.47 311.45,404.64 311.8,404.54 312.15,404.51 312.5,403.47 312.85,403.86 313.2,404.2 313.55,404.23 313.9,404.16 314.25,403.72 314.6,403.93 314.95,404.03 315.3,404.49 315.65,404.9 316,403.61 316.35,404.18 316.7,403.83 317.05,404.48 317.4,404.24 317.75,404.31 318.1,404.19 318.45,403.92" fill="none" stroke="#5f9bee" stroke-width="1.8" stroke-linejoin="round"/>
<path d="M58.4,439.63L58.75,438.68 59.1,439.45 59.45,438.71 59.8,439.62 60.15,438.57 60.5,438.9 60.85,438.95 61.2,438.35 61.55,439.53 61.9,438.57 62.25,438.66 62.6,438.96 62.95,439.48 63.3,438.86 63.65,439.98 64,439.18 64.35,439.07 64.7,439.36 65.05,439.13 65.4,438.76 65.75,438.96 66.1,439.25 66.45,439.81 66.8,439.29 67.15,439.37 67.5,438.29 67.85,439.07 68.2,439.17 68.55,439.88 68.9,439.82 69.25,439.23 69.6,439.39 69.95,439.15 70.3,438.89 70.65,439.18 71,439.03 71.35,439.31 71.7,439.45 72.05,439.1 72.4,439.62 72.75,438.72 73.1,439.18 73.45,439.26 73.8,438.44 74.15,439.42 74.5,439.46 74.85,439.86 75.2,439.16 75.55,439.42 75.9,439.43 76.25,438.52 76.6,439.29 76.95,438.59 77.3,439.29 77.65,439.46 78,439.28 78.35,438.35 78.7,439.76 79.05,439.29 79.4,439.57 79.75,438.89 80.1,439.01 80.45,440 80.8,439.09 81.15,439 81.5,439.02 81.85,439.57 82.2,438.54 82.55,439.04 82.9,438.81 83.25,440.17 83.6,439.6 83.95,439.2 84.3,439.26 84.65,439.07 85,438.99 85.35,439.1 85.7,439.87 86.05,439.04 86.4,439.05 86.75,439.28 87.1,439.75 87.45,439.35 87.8,438.73 88.15,439.18 88.5,439.17 88.85,438.63 89.2,438.86 89.55,439.3 89.9,438.98 90.25,439.83 90.6,439.3 90.95,438.97 91.3,439.13 91.65,438.79 92,438.89 92.35,439.47 92.7,439.13 93.05,438.39 93.4,438.62 93.75,439.39 94.1,438.7 94.45,439.03 94.8,439.59 95.15,439.06 95.5,439.04 95.85,438.99 96.2,439.58 96.55,438.88 96.9,438.66 97.25,439.19 97.6,439.81 97.95,439.3 98.3,439.78 98.65,439.65 99,438.71 99.35,439.18 99.7,439.12 100.05,439.16 100.4,439.65 100.75,439.72 101.1,439.46 101.45,439.65 101.8,438.92 102.15,439.49 102.5,438.74 102.85,439.02 103.2,438.66 103.55,439.65 103.9,438.99 104.25,439.47 104.6,438.64 104.95,439.25 105.3,439.49 105.65,439.2 106,439.24 106.35,439.23 106.7,439.14 107.05,439.02 107.4,438.82 107.75,439.58 108.1,439.17 108.45,439.19 108.8,439.29 109.15,438.66 109.5,438.61 109.85,438.62 110.2,439.87 110.55,439.04 110.9,439.44 111.25,438.42 111.6,438.99 111.95,439.19 112.3,438.92 112.65,439.59 113,439.01 113.35,439.11 113.7,439.6 114.05,439.79 114.4,439.28 114.75,438.96 115.1,439.03 115.45,439.62 115.8,438.7 116.15,438.73 116.5,438.74 116.85,439.54 117.2,439.29 117.55,438.76 117.9,438.81 118.25,439.1 118.6,438.89 118.95,438.68 119.3,438.76 119.65,439.01 120,438.84 120.35,439.07 120.7,438.93 121.05,438.78 121.4,439.25 121.75,439.26 122.1,438.27 122.45,439.17 122.8,438.87 123.15,438.64 123.5,439.35 123.85,439.15 124.2,439.27 124.55,438.82 124.9,439.76 125.25,439.23 125.6,438.78 125.95,439.79 126.3,438.68 126.65,439.62 127,438.88 127.35,438.75 127.7,438.69 128.05,438.57 128.4,438.6 128.75,439.12 129.1,438.92 129.45,438.29 129.8,439.03 130.15,438.33 130.5,439.13 130.85,438.73 131.2,438.81 131.55,439.37 131.9,438.06 132.25,439.77 132.6,440.11 132.95,439.29 133.3,439.06 133.65,438.54 134,439.24 134.35,438.7 134.7,438.64 135.05,438.41 135.4,439.27 135.75,439.02 136.1,438.07 136.45,438.57 136.8,438.05 137.15,438.91 137.5,438.12 137.85,438.4 138.2,438.59 138.55,438.2 138.9,437.67 139.25,437.85 139.6,437.31 139.95,438.2 140.3,437.68 140.65,436.17 141,435.84 141.35,436.46 141.7,434.83 142.05,433.18 142.4,432.11 142.75,429.96 143.1,427.85 143.45,424.73 143.8,422.56 144.15,418.71 144.5,414.64 144.85,411.52 145.2,407.93 145.55,405.09 145.9,402.65 146.25,401.3 146.6,400.31 146.95,402.19 147.3,404.38 147.65,408.45 148,410.83 148.35,414.74 148.7,418.1 149.05,421.14 149.4,424.64 149.75,427.18 150.1,429.36 150.45,431.75 150.8,432.42 151.15,434.04 151.5,434.83 151.85,435.62 152.2,435.53 152.55,435.96 152.9,437.08 153.25,436.48 153.6,437.57 153.95,437.86 154.3,437.1 154.65,437.55 155,437.54 155.35,438.13 155.7,438.42 156.05,437.92 156.4,437.98 156.75,438.16 157.1,437.29 157.45,437.68 157.8,438.08 158.15,437.55 158.5,438.44 158.85,437.4 159.2,437.72 159.55,437.85 159.9,438.09 160.25,437.46 160.6,437.69 160.95,438 161.3,437.9 161.65,438.11 162,437.55 162.35,437.44 162.7,436.74 163.05,437.36 163.4,437.7 163.75,437.3 164.1,437.75 164.45,438.26 164.8,437.73 165.15,438.31 165.5,438.25 165.85,437.98 166.2,438.27 166.55,438.36 166.9,437.45 167.25,438.67 167.6,437.32 167.95,438.16 168.3,437.82 168.65,437.85 169,438.17 169.35,437.95 169.7,438.04 170.05,438.12 170.4,437.79 170.75,438.26 171.1,437.75 171.45,438.43 171.8,437.74 172.15,438.35 172.5,438.06 172.85,438.88 173.2,437.92 173.55,438.81 173.9,438.19 174.25,437.71 174.6,438.95 174.95,438.8 175.3,439.1 175.65,438.26 176,438.82 176.35,439.09 176.7,438.57 177.05,439.68 177.4,438.45 177.75,438.97 178.1,438.24 178.45,438.31 178.8,438.48 179.15,438.61 179.5,438.76 179.85,438.88 180.2,437.83 180.55,438.74 180.9,438.48 181.25,437.99 181.6,438.43 181.95,439 182.3,438.93 182.65,438.12 183,438.49 183.35,438.53 183.7,439.26 184.05,438.62 184.4,438.43 184.75,438.72 185.1,437.74 185.45,438.77 185.8,439.13 186.15,438.91 186.5,438.02 186.85,439.73 187.2,439 187.55,438.71 187.9,438.73 188.25,439.11 188.6,438.73 188.95,438.74 189.3,439.04 189.65,438.37 190,439.11 190.35,438.43 190.7,438.99 191.05,439.24 191.4,439.03 191.75,439.15 192.1,438.67 192.45,438.51 192.8,439.24 193.15,438.77 193.5,438.49 193.85,438.61 194.2,438.53 194.55,439.11 194.9,439.05 195.25,439.39 195.6,438.36 195.95,438.82 196.3,438.75 196.65,437.95 197,438.74 197.35,439 197.7,438.41 198.05,438.22 198.4,439.64 198.75,438.15 199.1,439.27 199.45,438.77 199.8,438.79 200.15,438.38 200.5,438.16 200.85,439.11 201.2,439.24 201.55,438.12 201.9,438.9 202.25,438.37 202.6,438.64 202.95,438.19 203.3,437.94 203.65,437.54 204,437.41 204.35,437.99 204.7,437.87 205.05,437.42 205.4,437.17 205.75,437.43 206.1,437.82 206.45,437.93 206.8,437.89 207.15,437.43 207.5,437.6 207.85,436.72 208.2,437.74 208.55,437.05 208.9,436.58 209.25,436.42 209.6,436.25 209.95,436.44 210.3,436.79 210.65,436.05 211,436.6 211.35,436.19 211.7,435.35 212.05,435.47 212.4,435.45 212.75,435.56 213.1,436.39 213.45,436.55 213.8,435.67 214.15,435.65 214.5,435.22 214.85,435.98 215.2,435.23 215.55,435.42 215.9,435.7 216.25,436.09 216.6,435.94 216.95,435 217.3,436.17 217.65,435.98 218,436.38 218.35,436.89 218.7,435.84 219.05,436.66 219.4,437.06 219.75,436.19 220.1,437.44 220.45,437.26 220.8,437.23 221.15,436.9 221.5,437.48 221.85,437.69 222.2,437.18 222.55,437.33 222.9,437.31 223.25,437.84 223.6,437.95 223.95,438.25 224.3,438.1 224.65,437.87 225,438.1 225.35,437.81 225.7,438.6 226.05,437.89 226.4,437.99 226.75,438.4 227.1,437.68 227.45,438.64 227.8,439.03 228.15,438.8 228.5,438.86 228.85,438.81 229.2,438.66 229.55,438.66 229.9,438.25 230.25,438.86 230.6,439.1 230.95,439.53 231.3,438.64 231.65,438.96 232,439.02 232.35,438.69 232.7,438.68 233.05,438.71 233.4,438.77 233.75,439.52 234.1,438.24 234.45,438.45 234.8,438.36 235.15,439.05 235.5,439.15 235.85,438.55 236.2,439.3 236.55,438.54 236.9,439.55 237.25,438.99 237.6,439.34 237.95,438.42 238.3,439.32 238.65,439.02 239,438.75 239.35,438.35 239.7,439.29 240.05,439.26 240.4,438.85 240.75,439.36 241.1,439.37 241.45,439.44 241.8,438.6 242.15,439.28 242.5,439.07 242.85,438.74 243.2,439.07 243.55,438.8 243.9,439.46 244.25,438.96 244.6,439.17 244.95,439.37 245.3,439.77 245.65,439.3 246,438.55 246.35,439.62 246.7,439.13 247.05,439.49 247.4,439.09 247.75,438.9 248.1,438.48 248.45,439.1 248.8,439.35 249.15,438.82 249.5,438.81 249.85,438.75 250.2,438.97 250.55,439.07 250.9,439.36 251.25,438.9 251.6,439.1 251.95,438.62 252.3,439.41 252.65,439.03 253,438.48 253.35,438.65 253.7,438.95 254.05,439.48 254.4,439.05 254.75,439.67 255.1,439.21 255.45,438.69 255.8,438.73 256.15,439.71 256.5,438.74 256.85,438.71 257.2,438.67 257.55,438.51 257.9,439.33 258.25,439.39 258.6,438.61 258.95,439.72 259.3,439.42 259.65,438.9 260,438.46 260.35,438.87 260.7,438.87 261.05,439.32 261.4,438.87 261.75,439.4 262.1,440.01 262.45,438.73 262.8,438.79 263.15,439.53 263.5,439.76 263.85,438.27 264.2,438.8 264.55,438.37 264.9,439.18 265.25,439.08 265.6,438.71 265.95,439.13 266.3,439.51 266.65,437.76 267,438.37 267.35,438.7 267.7,439 268.05,439.19 268.4,439.11 268.75,439.75 269.1,439.06 269.45,438.72 269.8,438.7 270.15,438.19 270.5,438.95 270.85,439.24 271.2,438.56 271.55,439.38 271.9,438.49 272.25,439.29 272.6,438.95 272.95,439.72 273.3,439.15 273.65,439.13 274,438.88 274.35,438.58 274.7,438.78 275.05,438.63 275.4,438.41 275.75,439.53 276.1,439.45 276.45,439.25 276.8,439.27 277.15,438.47 277.5,437.92 277.85,439.25 278.2,439.24 278.55,439.26 278.9,439.38 279.25,439.32 279.6,438.77 279.95,439.31 280.3,439.29 280.65,439.69 281,439.32 281.35,439.14 281.7,439.13 282.05,438.72 282.4,438.91 282.75,439.41 283.1,438.27 283.45,438.67 283.8,439.35 284.15,438.77 284.5,438.37 284.85,439.22 285.2,439.29 285.55,439.2 285.9,439.15 286.25,438.47 286.6,440.12 286.95,438.73 287.3,438.76 287.65,439.32 288,439.3 288.35,439.08 288.7,439.16 289.05,439.34 289.4,439.23 289.75,438.74 290.1,439.13 290.45,439.22 290.8,439.22 291.15,439.06 291.5,438.67 291.85,439.27 292.2,439.36 292.55,439.23 292.9,438.41 293.25,439.22 293.6,439.69 293.95,439.27 294.3,438.88 294.65,439.19 295,439.03 295.35,438.93 295.7,439.28 296.05,439.18 296.4,438.77 296.75,439.79 297.1,439.47 297.45,438.38 297.8,439.01 298.15,439.04 298.5,438.02 298.85,438.56 299.2,439.49 299.55,439.05 299.9,439.24 300.25,439.15 300.6,439.08 300.95,438.86 301.3,438.54 301.65,438.35 302,438.73 302.35,439.4 302.7,439.45 303.05,439.59 303.4,439 303.75,438.72 304.1,439.65 304.45,439.48 304.8,439.26 305.15,439.24 305.5,438.87 305.85,439.55 306.2,438.33 306.55,438.9 306.9,439.3 307.25,439.07 307.6,439.7 307.95,439.23 308.3,438.78 308.65,438.73 309,438.18 309.35,439.56 309.7,439.12 310.05,439.33 310.4,438.58 310.75,438.65 311.1,439.28 311.45,438.85 311.8,439.04 312.15,439.68 312.5,439.23 312.85,439.23 313.2,439.18 313.55,438.88 313.9,439.38 314.25,439.17 314.6,440.05 314.95,439.37 315.3,438.43 315.65,438.96 316,438.74 316.35,439.69 316.7,439.05 317.05,438.59 317.4,438.95 317.75,439.51 318.1,439.42 318.45,439.15" fill="none" stroke="#3f84e8" stroke-width="1.8" stroke-linejoin="round"/>
<path d="M58.4,473.82L58.75,473.82 59.1,473.11 59.45,473.48 59.8,473.49 60.15,473.52 60.5,474.8 60.85,473.31 61.2,473.31 61.55,473.21 61.9,474.11 62.25,473.24 62.6,473.43 62.95,474.01 63.3,473.94 63.65,472.9 64,474.57 64.35,473.65 64.7,474.05 65.05,473.68 65.4,474.51 65.75,473.27 66.1,473.11 66.45,473.73 66.8,474.31 67.15,473.47 67.5,474.03 67.85,474.42 68.2,472.63 68.55,474.31 68.9,474.17 69.25,473.19 69.6,473.45 69.95,473.2 70.3,473.98 70.65,473.11 71,473.88 71.35,474.32 71.7,472.43 72.05,473.75 72.4,473.44 72.75,473.19 73.1,473.75 73.45,473.41 73.8,472.55 74.15,473.12 74.5,473.47 74.85,473.03 75.2,472.67 75.55,474.96 75.9,474.35 76.25,474.26 76.6,473.54 76.95,472.23 77.3,473.3 77.65,473.79 78,473.2 78.35,473.12 78.7,473.68 79.05,474.75 79.4,473.66 79.75,473.56 80.1,473.05 80.45,474.41 80.8,473.71 81.15,473.49 81.5,473.34 81.85,473.18 82.2,473.68 82.55,474.79 82.9,473.6 83.25,473.89 83.6,473.11 83.95,473.76 84.3,472.71 84.65,474.44 85,473.26 85.35,473.88 85.7,473.66 86.05,474.45 86.4,473.94 86.75,473.97 87.1,472.62 87.45,472.92 87.8,472.9 88.15,472.93 88.5,472.99 88.85,474.04 89.2,473.46 89.55,473.49 89.9,472.93 90.25,472.91 90.6,472.66 90.95,474.11 91.3,473.53 91.65,473.89 92,473.6 92.35,472.91 92.7,473.41 93.05,472.16 93.4,473.88 93.75,473.47 94.1,473.58 94.45,473.51 94.8,473.81 95.15,473.3 95.5,473.46 95.85,473.03 96.2,473.29 96.55,473.63 96.9,473.98 97.25,473.21 97.6,472.59 97.95,472.31 98.3,473.27 98.65,472.98 99,473.78 99.35,474.41 99.7,472.95 100.05,474.22 100.4,474.16 100.75,472.85 101.1,473.16 101.45,473.86 101.8,472.94 102.15,472.82 102.5,473.9 102.85,473.07 103.2,473.04 103.55,473.83 103.9,473.51 104.25,473.59 104.6,474.33 104.95,474.25 105.3,472.44 105.65,474.04 106,473.48 106.35,473.68 106.7,473.98 107.05,474.58 107.4,473.97 107.75,473.41 108.1,473.74 108.45,472.56 108.8,473.8 109.15,473.6 109.5,472.75 109.85,472.61 110.2,472.65 110.55,472.95 110.9,473.78 111.25,473.33 111.6,473.02 111.95,473.26 112.3,474.18 112.65,473.24 113,472.93 113.35,474.73 113.7,472.91 114.05,473.7 114.4,473.94 114.75,473.5 115.1,473.27 115.45,474.16 115.8,473.48 116.15,473.78 116.5,473.37 116.85,474.38 117.2,472.86 117.55,472.65 117.9,472.88 118.25,473.31 118.6,473.23 118.95,473.46 119.3,472.99 119.65,473.66 120,472.54 120.35,472.63 120.7,473.2 121.05,472.94 121.4,472.87 121.75,473 122.1,472.91 122.45,473.5 122.8,473.75 123.15,474.07 123.5,473.42 123.85,472.91 124.2,472.68 124.55,472.67 124.9,472.37 125.25,473.65 125.6,474.31 125.95,473.23 126.3,473.43 126.65,471.97 127,473.23 127.35,472.88 127.7,473.29 128.05,472.76 128.4,472.8 128.75,472.71 129.1,472.83 129.45,474.4 129.8,473.59 130.15,472.32 130.5,473.03 130.85,472.94 131.2,474.36 131.55,472.06 131.9,473.49 132.25,473.58 132.6,474.34 132.95,474.07 133.3,472.94 133.65,472.06 134,472.39 134.35,472.56 134.7,472.81 135.05,472.5 135.4,472.06 135.75,473.19 136.1,472.85 136.45,472.48 136.8,472.37 137.15,472.2 137.5,471.88 137.85,473.88 138.2,472.03 138.55,471.69 138.9,472.72 139.25,471.31 139.6,471.33 139.95,470.06 140.3,469.81 140.65,468.2 141,468.63 141.35,468.44 141.7,466 142.05,464.46 142.4,463.1 142.75,461 143.1,457.44 143.45,454.96 143.8,452.49 144.15,450.59 144.5,446.23 144.85,443.74 145.2,441.26 145.55,439.12 145.9,437.54 146.25,436.32 146.6,436.63 146.95,436.45 147.3,439.9 147.65,441.14 148,444.12 148.35,445.83 148.7,449.66 149.05,451.54 149.4,454.1 149.75,457.95 150.1,459.76 150.45,461.12 150.8,462.4 151.15,465.6 151.5,466.5 151.85,468.06 152.2,469.06 152.55,469.9 152.9,468.44 153.25,468.31 153.6,471.01 153.95,469.75 154.3,471.77 154.65,471.51 155,471.38 155.35,471.45 155.7,470.61 156.05,471.58 156.4,471.58 156.75,471.97 157.1,472.97 157.45,471.49 157.8,472.25 158.15,472.95 158.5,471.46 158.85,471.4 159.2,471.47 159.55,471.26 159.9,470.97 160.25,472.37 160.6,472.93 160.95,472.39 161.3,471.72 161.65,471.71 162,472.24 162.35,471.66 162.7,472.03 163.05,471.82 163.4,472.7 163.75,472.55 164.1,472.28 164.45,471.53 164.8,471.92 165.15,472.68 165.5,473.33 165.85,471.96 166.2,473.85 166.55,472.06 166.9,472.07 167.25,472.53 167.6,471.94 167.95,472.37 168.3,472.44 168.65,472.12 169,472.23 169.35,472.75 169.7,473.18 170.05,473.8 170.4,472.57 170.75,471.6 171.1,472.22 171.45,471.53 171.8,472.57 172.15,472.12 172.5,472.75 172.85,472.4 173.2,472.57 173.55,472.35 173.9,473.54 174.25,471.5 174.6,473.3 174.95,473.35 175.3,473.03 175.65,472.84 176,472.95 176.35,472.46 176.7,472.08 177.05,473.23 177.4,473.21 177.75,473.33 178.1,472.7 178.45,473.44 178.8,473.2 179.15,473.96 179.5,472.84 179.85,471.57 180.2,472.22 180.55,473.11 180.9,472.04 181.25,473.32 181.6,472.46 181.95,472.99 182.3,473.1 182.65,472.41 183,473.18 183.35,473.66 183.7,472.63 184.05,472.77 184.4,472.6 184.75,473.37 185.1,473.59 185.45,472.6 185.8,472.75 186.15,473.51 186.5,473.05 186.85,474.05 187.2,472.99 187.55,472.63 187.9,472.29 188.25,472.64 188.6,471.98 188.95,473.2 189.3,474.08 189.65,472.1 190,472.21 190.35,472.36 190.7,472.95 191.05,472.49 191.4,473.57 191.75,473.7 192.1,472.67 192.45,472.94 192.8,472.63 193.15,473.48 193.5,474.19 193.85,472.48 194.2,472.81 194.55,472.42 194.9,473.37 195.25,473.36 195.6,472.6 195.95,472.93 196.3,474.43 196.65,474.32 197,472.52 197.35,473.05 197.7,472.8 198.05,473.29 198.4,472.33 198.75,473.33 199.1,473.6 199.45,473.71 199.8,472.04 200.15,474.03 200.5,472.31 200.85,471.99 201.2,473.52 201.55,473.33 201.9,472.72 202.25,473.26 202.6,473.09 202.95,472.82 203.3,471.91 203.65,472.29 204,472.44 204.35,473.11 204.7,473.27 205.05,472.16 205.4,471.81 205.75,471.62 206.1,472.57 206.45,471.54 206.8,473.15 207.15,471.88 207.5,471.76 207.85,471.99 208.2,471.48 208.55,470.84 208.9,471.34 209.25,471.42 209.6,470.77 209.95,470.83 210.3,470.83 210.65,469.62 211,470.16 211.35,470.44 211.7,469.73 212.05,470.61 212.4,470.55 212.75,468.8 213.1,469.71 213.45,470.27 213.8,469.77 214.15,470.24 214.5,470.3 214.85,469.01 215.2,470.11 215.55,469.46 215.9,468.66 216.25,470.44 216.6,469.75 216.95,470.24 217.3,470.83 217.65,471.13 218,470.48 218.35,470.19 218.7,470.47 219.05,471.62 219.4,470.88 219.75,472.27 220.1,472.24 220.45,471 220.8,472.6 221.15,471.25 221.5,471.63 221.85,471.76 222.2,471.26 222.55,472.03 222.9,472.43 223.25,473.52 223.6,473.03 223.95,471.95 224.3,472.54 224.65,473.11 225,472.41 225.35,472.05 225.7,472.52 226.05,471.96 226.4,472.74 226.75,472.42 227.1,473.49 227.45,472.68 227.8,472.11 228.15,473.32 228.5,472.77 228.85,472.4 229.2,473.16 229.55,472.52 229.9,471.98 230.25,472.32 230.6,473.72 230.95,473.95 231.3,472.82 231.65,473.31 232,472.05 232.35,473.63 232.7,473.03 233.05,473.48 233.4,472.96 233.75,473.13 234.1,472.15 234.45,473.41 234.8,472.83 235.15,473.34 235.5,474.16 235.85,471.67 236.2,473.8 236.55,473.4 236.9,473.37 237.25,473.71 237.6,472.92 237.95,472.04 238.3,472.81 238.65,472.95 239,471.74 239.35,473.48 239.7,473.46 240.05,472.45 240.4,473.19 240.75,473.19 241.1,473.17 241.45,473.14 241.8,473.79 242.15,473.29 242.5,474.4 242.85,473.3 243.2,473.96 243.55,474.03 243.9,472.25 244.25,473.35 244.6,473.48 244.95,473.56 245.3,473.49 245.65,473.97 246,473.76 246.35,473.07 246.7,473.96 247.05,473.12 247.4,473.47 247.75,472.9 248.1,472.43 248.45,472.55 248.8,474.14 249.15,473.71 249.5,472.85 249.85,473.68 250.2,472.66 250.55,472.75 250.9,472.17 251.25,472.99 251.6,473.57 251.95,474.73 252.3,473.04 252.65,473.4 253,473.48 253.35,473.78 253.7,472.82 254.05,472.55 254.4,473.77 254.75,472.48 255.1,473.56 255.45,472.94 255.8,473.27 256.15,473.54 256.5,472.18 256.85,474.57 257.2,472.42 257.55,472.56 257.9,473.59 258.25,471.35 258.6,472.72 258.95,473.4 259.3,473.03 259.65,473.17 260,473.02 260.35,473.05 260.7,472.98 261.05,474.4 261.4,473.59 261.75,472.56 262.1,473.02 262.45,473.74 262.8,474.03 263.15,472.38 263.5,473.14 263.85,471.73 264.2,472.8 264.55,474.21 264.9,473.59 265.25,472.97 265.6,472.47 265.95,473.12 266.3,473.18 266.65,473.3 267,473.59 267.35,473.23 267.7,472.04 268.05,472.72 268.4,472.87 268.75,472.44 269.1,473.98 269.45,472.46 269.8,473.45 270.15,473.36 270.5,473.27 270.85,473.15 271.2,472.64 271.55,473.25 271.9,473.72 272.25,472.54 272.6,474.03 272.95,472.79 273.3,473.76 273.65,473.03 274,474.22 274.35,474.2 274.7,474.24 275.05,474.52 275.4,473.06 275.75,471.25 276.1,472.24 276.45,472.44 276.8,473.76 277.15,473.77 277.5,472.54 277.85,473.59 278.2,472.85 278.55,472.8 278.9,473.28 279.25,472.28 279.6,473.64 279.95,473.52 280.3,474.25 280.65,473.76 281,473.43 281.35,473.94 281.7,473.14 282.05,473.32 282.4,472.48 282.75,472.8 283.1,473.22 283.45,473.87 283.8,474.23 284.15,474.26 284.5,472.99 284.85,473.22 285.2,472.7 285.55,472.26 285.9,473.83 286.25,472.37 286.6,473.68 286.95,472.9 287.3,473.12 287.65,473.91 288,472.72 288.35,473.61 288.7,472.7 289.05,473.21 289.4,473.16 289.75,473.34 290.1,472.46 290.45,473.07 290.8,473.47 291.15,472.77 291.5,473.59 291.85,473.55 292.2,473.18 292.55,472.95 292.9,473.35 293.25,472.77 293.6,473.49 293.95,473.28 294.3,474.04 294.65,473.16 295,472.59 295.35,473.42 295.7,472.99 296.05,474.13 296.4,472.6 296.75,472.8 297.1,473.04 297.45,473.03 297.8,473.28 298.15,474.73 298.5,473.12 298.85,474.07 299.2,472.85 299.55,472.86 299.9,473.17 300.25,474.22 300.6,473.4 300.95,473.5 301.3,472.89 301.65,473.15 302,474.68 302.35,472.49 302.7,471.92 303.05,473.08 303.4,472.56 303.75,472.34 304.1,471.87 304.45,473.43 304.8,473.16 305.15,472.99 305.5,473.71 305.85,473.85 306.2,473.28 306.55,473.74 306.9,472.3 307.25,473.43 307.6,472.55 307.95,473.12 308.3,474.1 308.65,473.15 309,474.38 309.35,473.97 309.7,473.7 310.05,472.46 310.4,473.24 310.75,473.48 311.1,473.76 311.45,473.19 311.8,472.29 312.15,473.75 312.5,472.22 312.85,472.71 313.2,471.92 313.55,473.2 313.9,473.7 314.25,473.78 314.6,472.54 314.95,473.51 315.3,473.35 315.65,473.53 316,473.77 316.35,473.46 316.7,474.3 317.05,472.53 317.4,473.53 317.75,473.41 318.1,472.48 318.45,473.37" fill="none" stroke="#1b68e0" stroke-width="1.8" stroke-linejoin="round"/>
<line x1="146.4" y1="283.2" x2="146.4" y2="482.5" stroke="#000" stroke-width="1.9" stroke-dasharray="6.3,5.0"/>
<line x1="213.9" y1="283.2" x2="213.9" y2="482.5" stroke="#000" stroke-width="1.9" stroke-dasharray="6.3,5.0"/>
<rect x="57.7" y="282.8" width="261.5" height="205.3" fill="none" stroke="#000" stroke-width="1.6"/>
<line x1="90.39" y1="488.1" x2="90.39" y2="484.4" stroke="#000" stroke-width="1.6" />
<line x1="123.08" y1="488.1" x2="123.08" y2="480.6" stroke="#000" stroke-width="1.6" />
<line x1="155.76" y1="488.1" x2="155.76" y2="484.4" stroke="#000" stroke-width="1.6" />
<line x1="188.45" y1="488.1" x2="188.45" y2="480.6" stroke="#000" stroke-width="1.6" />
<line x1="221.14" y1="488.1" x2="221.14" y2="484.4" stroke="#000" stroke-width="1.6" />
<line x1="253.82" y1="488.1" x2="253.82" y2="480.6" stroke="#000" stroke-width="1.6" />
<line x1="286.51" y1="488.1" x2="286.51" y2="484.4" stroke="#000" stroke-width="1.6" />
<text x="57.7" y="509.2" font-family='"Liberation Sans", sans-serif' font-size="15.6" text-anchor="middle" fill="#000" font-weight="normal" font-style="normal"  stroke="#000" stroke-width="0.28">1000</text>
<text x="123.08" y="509.2" font-family='"Liberation Sans", sans-serif' font-size="15.6" text-anchor="middle" fill="#000" font-weight="normal" font-style="normal"  stroke="#000" stroke-width="0.28">1250</text>
<text x="188.45" y="509.2" font-family='"Liberation Sans", sans-serif' font-size="15.6" text-anchor="middle" fill="#000" font-weight="normal" font-style="normal"  stroke="#000" stroke-width="0.28">1500</text>
<text x="253.82" y="509.2" font-family='"Liberation Sans", sans-serif' font-size="15.6" text-anchor="middle" fill="#000" font-weight="normal" font-style="normal"  stroke="#000" stroke-width="0.28">1750</text>
<text x="319.2" y="509.2" font-family='"Liberation Sans", sans-serif' font-size="15.6" text-anchor="middle" fill="#000" font-weight="normal" font-style="normal"  stroke="#000" stroke-width="0.28">2000</text>
<text x="188.3" y="533.2" font-family='"Liberation Sans", sans-serif' font-size="16.2" text-anchor="middle" stroke="#000" stroke-width="0.28">Raman shift (cm<tspan font-size="10.5" dy="-6">-1</tspan><tspan dy="6">)</tspan></text>
<text x="47.3" y="385.2" font-family='"Liberation Sans", sans-serif' font-size="16.2" text-anchor="middle" fill="#000" font-weight="normal" font-style="normal" transform="rotate(-90 47.3 385.2)" stroke="#000" stroke-width="0.28">Intensity (arb.u.)</text>
<text x="67" y="301" font-family='"Liberation Sans", sans-serif' font-size="15.6" text-anchor="start" fill="#000" font-weight="normal" font-style="normal"  stroke="#000" stroke-width="0.28">S1</text>
<text x="-0.8" y="285.7" font-family='"Liberation Sans", sans-serif' font-size="22" text-anchor="start" fill="#000" font-weight="bold" font-style="normal" >d</text>
<text x="310.5" y="327" font-family='"Liberation Sans", sans-serif' font-size="15.6" text-anchor="end" fill="#000" font-weight="normal" font-style="normal"  stroke="#000" stroke-width="0.28">1000 °C</text>
<text x="310.5" y="361.2" font-family='"Liberation Sans", sans-serif' font-size="15.6" text-anchor="end" fill="#000" font-weight="normal" font-style="normal"  stroke="#000" stroke-width="0.28">900 °C</text>
<text x="310.5" y="395.8" font-family='"Liberation Sans", sans-serif' font-size="15.6" text-anchor="end" fill="#000" font-weight="normal" font-style="normal"  stroke="#000" stroke-width="0.28">800 °C</text>
<text x="310.5" y="430.4" font-family='"Liberation Sans", sans-serif' font-size="15.6" text-anchor="end" fill="#000" font-weight="normal" font-style="normal"  stroke="#000" stroke-width="0.28">700 °C</text>
<text x="310.5" y="465.4" font-family='"Liberation Sans", sans-serif' font-size="15.6" text-anchor="end" fill="#000" font-weight="normal" font-style="normal"  stroke="#000" stroke-width="0.28">25 °C</text>
<path d="M407.6,332.52 L408.3,332.41 L409,332.34 L409.7,332.54 L410.4,332.76 L411.1,332.28 L411.8,332.29 L412.5,332.4 L413.2,331.87 L413.9,332.37 L414.6,331.86 L415.3,332.06 L416,332.49 L416.7,332.12 L417.4,332.69 L418.1,332.21 L418.8,331.93 L419.5,332.19 L420.2,332.38 L420.9,332.27 L421.6,332.57 L422.3,331.97 L423,332.22 L423.7,332.38 L424.4,331.97 L425.1,332.2 L425.8,332.34 L426.5,332.45 L427.2,332.33 L427.9,331.97 L428.6,332.36 L429.3,332.36 L430,331.79 L430.7,331.65 L431.4,331.41 L432.1,331.47 L432.8,331.74 L433.5,331.98 L434.2,331.95 L434.9,332.02 L435.6,332.07 L436.3,332.38 L437,331.98 L437.7,332.48 L438.4,332.34 L439.1,332.52 L439.8,331.95 L440.5,332.47 L441.2,331.98 L441.9,331.63 L442.6,331.79 L443.3,332.19 L444,331.67 L444.7,331.76 L445.4,331.45 L446.1,331.24 L446.8,330.97 L447.5,331.62 L448.2,331.67 L448.9,331.21 L449.6,331.15 L450.3,331.46 L451,331.28 L451.7,331.24 L452.4,330.78 L453.1,330.82 L453.8,331.14 L454.5,331.34 L455.2,330.76 L455.9,331.41 L456.6,331.33 L457.3,331.28 L458,330.96 L458.7,331.5 L459.4,330.97 L460.1,331.52 L460.8,331.29 L461.5,331.22 L462.2,330.86 L462.9,331.17 L463.6,331.24 L464.3,331.02 L465,331.04 L465.7,330.91 L466.4,331 L467.1,330.93 L467.8,331.29 L468.5,330.76 L469.2,331.31 L469.9,331.12 L470.6,331.26 L471.3,331.08 L472,331.27 L472.7,330.78 L473.4,331.03 L474.1,331.07 L474.8,330.44 L475.5,330.34 L476.2,330.31 L476.9,330.65 L477.6,329.88 L478.3,330.03 L479,329.88 L479.7,329.56 L480.4,329.5 L481.1,329.73 L481.8,329.42 L482.5,329.54 L483.2,329.32 L483.9,329.23 L484.6,329.24 L485.3,328.26 L486,328.59 L486.7,328.2 L487.4,327.76 L488.1,327.33 L488.8,327.2 L489.5,327.33 L490.2,327.14 L490.9,326.34 L491.6,325.92 L492.3,325.84 L493,326.31 L493.7,325.51 L494.4,325.5 L495.1,324.78 L495.8,324.72 L496.5,324.32 L497.2,323.72 L497.9,323.02 L498.6,322.59 L499.3,322.14 L500,321.71 L500.7,320.88 L501.4,320.93 L502.1,320.03 L502.8,319.27 L503.5,319.55 L504.2,318.59 L504.9,317.8 L505.6,317.81 L506.3,316.92 L507,316.47 L507.7,316.06 L508.4,316.65 L509.1,315.8 L509.8,316.03 L510.5,316.42 L511.2,317.01 L511.9,317.99 L512.6,318.34 L513.3,319.46 L514,320.42 L514.7,320.94 L515.4,321.85 L516.1,322.51 L516.8,322.5 L517.5,322.49 L518.2,323.25 L518.9,323.72 L519.6,323.81 L520.3,324.39 L521,324.27 L521.7,324.37 L522.4,325.15 L523.1,325.16 L523.8,324.99 L524.5,325.61 L525.2,325.69 L525.9,325.77 L526.6,325.45 L527.3,325.64 L528,326.36 L528.7,326.53 L529.4,326.45 L530.1,325.97 L530.8,326.61 L531.5,326.38 L532.2,326.96 L532.9,326.19 L533.6,326.68 L534.3,326.75 L535,327.13 L535.7,326.9 L536.4,326.53 L537.1,327.11 L537.8,326.36 L538.5,326.33 L539.2,326.71 L539.9,326.99 L540.6,327.32 L541.3,326.88 L542,326.33 L542.7,326.48 L543.4,326.59 L544.1,325.18 L544.8,325.63 L545.5,325.67 L546.2,325.35 L546.9,324.31 L547.6,324.48 L548.3,323.02 L549,322.4 L549.7,322.14 L550.4,321.23 L551.1,320.65 L551.8,319.08 L552.5,318.08 L553.2,317.29 L553.9,316.19 L554.6,314.24 L555.3,312.63 L556,311.09 L556.7,308.74 L557.4,304.54 L558.1,300.72 L558.8,296.98 L559.5,294.9 L560.2,293.6 L560.9,294.78 L561.6,297.5 L562.3,299.57 L563,301.97 L563.7,304.14 L564.4,305.9 L565.1,306.89 L565.8,309.05 L566.5,309.9 L567.2,311.5 L567.9,313.59 L568.6,314.89 L569.3,316.08 L570,317.21 L570.7,317.99 L571.4,319.3 L572.1,320.17 L572.8,321.76 L573.5,322.54 L574.2,323.6 L574.9,323.77 L575.6,324.63 L576.3,325.51 L577,326.61 L577.7,327.52 L578.4,328.28 L579.1,328.75 L579.8,328.81 L580.5,329.5 L581.2,329.64 L581.9,329.63 L582.6,330.18 L583.3,330.05 L584,330.75 L584.7,330.87 L585.4,331.11 L586.1,331.05 L586.8,331.25 L587.5,331.25 L588.2,331.29 L588.9,331.75 L589.6,331.81 L590.3,331.84 L591,332.06 L591.7,332.04 L592.4,332.26 L593.1,332.01 L593.8,332 L594.5,331.85 L595.2,332.01 L595.9,331.5 L596.6,332.06 L597.3,331.97 L598,331.64 L598.7,332.13 L599.4,332.43 L600.1,331.71 L600.8,331.8 L601.5,332.58 L602.2,332.6 L602.9,332.27 L603.6,332.41 L604.3,332.65 L605,332.3 L605.7,332.71 L606.4,332.29 L607.1,332.83 L607.8,332.59 L608.5,333.11 L609.2,332.55 L609.9,332.81 L610.6,332.45 L611.3,332.31 L612,332.19 L612.7,332.53 L613.4,332.73 L614.1,332.55 L614.8,332.38 L615.5,332.15 L616.2,332.23 L616.9,332.35 L617.6,332.71 L618.3,332.43 L619,332.96 L619.7,332.36 L620.4,332.4 L621.1,332.09 L621.8,332.43 L622.5,332.26 L623.2,332.26 L623.9,332.51 L624.6,332.81 L625.3,332.54 L626,332.73 L626.7,332.47 L627.4,332.81 L628.1,332.92 L628.8,332.38 L629.5,332.67 L630.2,332.5 L630.9,332.47 L631.6,332.43 L632.3,333.19 L633,332.74 L633.7,332.66 L634.4,332.35 L635.1,332.66 L635.8,332.81 L636.5,333 L637.2,332.85 L637.9,332.93 L638.6,332.5 L639.3,333.1 L640,333.2 L640.7,332.32 L641.4,332.22 L642.1,332.2 L642.8,332.64 L643.5,332.37 L644.2,332.36 L644.9,332.72 L645.6,332.58 L646.3,332.23 L647,332.72 L647.7,332.18 L648.4,332.34 L649.1,332.34 L649.8,332.73 L650.5,331.96 L651.2,332.74 L651.9,332.71 L652.6,332.08 L653.3,332.88 L654,332.55 L654.7,332.26 L655.4,332.95 L656.1,332.53 L656.8,333.12 L657.5,332.85 L658.2,332.34 L658.9,332.58 L659.6,333.03 L660.3,332.87 L661,333.05 L661.7,333 L662.4,332.93 L663.1,332.26 L663.8,333.05 L664.5,332.68 L665.2,333.06 L665.9,332.39 L666.6,332.99 L667.3,332.31 L667.3,334.25 L666.6,334.51 L665.9,333.9 L665.2,333.95 L664.5,334.56 L663.8,334.2 L663.1,334.32 L662.4,334.13 L661.7,334.44 L661,334.72 L660.3,334.52 L659.6,334.33 L658.9,334.39 L658.2,334.65 L657.5,334.81 L656.8,334.31 L656.1,334.18 L655.4,334.57 L654.7,334.47 L654,334.04 L653.3,334.26 L652.6,334.53 L651.9,334.41 L651.2,334.39 L650.5,333.85 L649.8,333.66 L649.1,334.36 L648.4,333.82 L647.7,334.4 L647,334.57 L646.3,333.88 L645.6,333.78 L644.9,334.59 L644.2,334.59 L643.5,334.49 L642.8,334.58 L642.1,333.94 L641.4,334.74 L640.7,334.32 L640,334 L639.3,334.36 L638.6,334.32 L637.9,334.56 L637.2,334.39 L636.5,334.62 L635.8,334.01 L635.1,334.33 L634.4,334.49 L633.7,334.14 L633,334.44 L632.3,333.99 L631.6,334.19 L630.9,334.62 L630.2,334.49 L629.5,333.96 L628.8,334.43 L628.1,334.66 L627.4,334.29 L626.7,333.95 L626,334.61 L625.3,333.96 L624.6,333.9 L623.9,334.44 L623.2,334.44 L622.5,334.35 L621.8,333.95 L621.1,334.04 L620.4,333.98 L619.7,334.4 L619,333.89 L618.3,334.66 L617.6,334.5 L616.9,334.2 L616.2,334.17 L615.5,334.12 L614.8,334.08 L614.1,334.36 L613.4,333.82 L612.7,334.27 L612,334.31 L611.3,333.92 L610.6,334.28 L609.9,334.08 L609.2,334.06 L608.5,334.21 L607.8,334.33 L607.1,334.37 L606.4,334.7 L605.7,334.4 L605,334.59 L604.3,334.56 L603.6,334.24 L602.9,333.67 L602.2,333.72 L601.5,333.53 L600.8,334.09 L600.1,334.01 L599.4,333.9 L598.7,333.55 L598,333.74 L597.3,333.44 L596.6,333.58 L595.9,333.74 L595.2,333.85 L594.5,333.13 L593.8,333.32 L593.1,333.68 L592.4,333.63 L591.7,333.79 L591,333.85 L590.3,333.01 L589.6,333.67 L588.9,332.98 L588.2,333.18 L587.5,332.59 L586.8,332.68 L586.1,332.63 L585.4,332.41 L584.7,332.11 L584,332.19 L583.3,331.9 L582.6,332.18 L581.9,331.45 L581.2,331.36 L580.5,330.98 L579.8,330.5 L579.1,330.36 L578.4,329.32 L577.7,329.06 L577,327.98 L576.3,327.41 L575.6,326.71 L574.9,326.01 L574.2,324.95 L573.5,323.81 L572.8,323.38 L572.1,322.48 L571.4,320.75 L570.7,320.35 L570,318.51 L569.3,317.58 L568.6,316.66 L567.9,315.41 L567.2,313.43 L566.5,311.69 L565.8,309.99 L565.1,308.99 L564.4,306.81 L563.7,305.86 L563,304.12 L562.3,301.31 L561.6,298.58 L560.9,296.37 L560.2,295.85 L559.5,296.46 L558.8,298.67 L558.1,302.57 L557.4,306.68 L556.7,310.09 L556,313.1 L555.3,314.2 L554.6,315.98 L553.9,317.31 L553.2,319.17 L552.5,320.42 L551.8,321.24 L551.1,321.99 L550.4,322.49 L549.7,323.17 L549,324.22 L548.3,324.73 L547.6,326.06 L546.9,326.74 L546.2,326.41 L545.5,327.31 L544.8,327.45 L544.1,327.77 L543.4,327.76 L542.7,327.98 L542,328.63 L541.3,328.69 L540.6,328.92 L539.9,328.34 L539.2,328.03 L538.5,328.39 L537.8,328.3 L537.1,328.13 L536.4,328.72 L535.7,328.71 L535,327.99 L534.3,328.55 L533.6,328.69 L532.9,328.03 L532.2,327.85 L531.5,327.88 L530.8,327.69 L530.1,327.97 L529.4,327.67 L528.7,328.27 L528,327.87 L527.3,328.03 L526.6,327.12 L525.9,327.56 L525.2,327.13 L524.5,327.16 L523.8,327.4 L523.1,326.58 L522.4,326.65 L521.7,326.52 L521,325.95 L520.3,325.42 L519.6,325.3 L518.9,325.34 L518.2,325.23 L517.5,324.88 L516.8,324.39 L516.1,324.14 L515.4,322.82 L514.7,322.55 L514,321.42 L513.3,321.02 L512.6,320.73 L511.9,319.19 L511.2,319.12 L510.5,318.39 L509.8,317.66 L509.1,317.66 L508.4,317.61 L507.7,318.49 L507,318.82 L506.3,318.6 L505.6,319.28 L504.9,319.55 L504.2,320.69 L503.5,320.65 L502.8,321.36 L502.1,322.09 L501.4,322.42 L500.7,322.35 L500,323.2 L499.3,323.41 L498.6,324.18 L497.9,324.66 L497.2,325.18 L496.5,325.52 L495.8,326.08 L495.1,326.93 L494.4,326.55 L493.7,327.43 L493,327.7 L492.3,328.05 L491.6,328.1 L490.9,328.55 L490.2,328.25 L489.5,328.31 L488.8,328.98 L488.1,329.01 L487.4,329.37 L486.7,329.65 L486,329.93 L485.3,330.65 L484.6,330.85 L483.9,330.71 L483.2,331.08 L482.5,331.09 L481.8,331.2 L481.1,331.34 L480.4,330.95 L479.7,331.5 L479,331.97 L478.3,331.42 L477.6,331.47 L476.9,331.6 L476.2,332.49 L475.5,332.24 L474.8,332.59 L474.1,332.84 L473.4,332.64 L472.7,332.85 L472,332.83 L471.3,332.54 L470.6,332.52 L469.9,332.57 L469.2,333.03 L468.5,332.66 L467.8,333 L467.1,332.55 L466.4,332.6 L465.7,332.49 L465,333.08 L464.3,333.15 L463.6,333.22 L462.9,332.93 L462.2,332.79 L461.5,332.95 L460.8,332.7 L460.1,332.74 L459.4,333.31 L458.7,332.97 L458,333.12 L457.3,332.53 L456.6,332.47 L455.9,333.07 L455.2,332.46 L454.5,333 L453.8,332.51 L453.1,332.78 L452.4,332.88 L451.7,333.13 L451,333.04 L450.3,333.25 L449.6,333.24 L448.9,333.08 L448.2,332.63 L447.5,332.84 L446.8,332.82 L446.1,332.96 L445.4,333.15 L444.7,333.66 L444,333.83 L443.3,333.81 L442.6,333.89 L441.9,333.53 L441.2,333.87 L440.5,333.94 L439.8,333.69 L439.1,333.58 L438.4,333.42 L437.7,334.12 L437,333.52 L436.3,333.2 L435.6,333.67 L434.9,333.61 L434.2,333.37 L433.5,333.08 L432.8,333.77 L432.1,333.49 L431.4,333.73 L430.7,333.83 L430,333.5 L429.3,333.43 L428.6,334.1 L427.9,334.08 L427.2,334.01 L426.5,334.34 L425.8,334.26 L425.1,334.15 L424.4,333.96 L423.7,334.18 L423,333.91 L422.3,333.8 L421.6,334.27 L420.9,334.06 L420.2,334.42 L419.5,334.14 L418.8,333.75 L418.1,333.84 L417.4,334.3 L416.7,334.29 L416,334.13 L415.3,333.81 L414.6,333.82 L413.9,333.99 L413.2,333.6 L412.5,334.02 L411.8,334.48 L411.1,334.22 L410.4,333.92 L409.7,334.45 L409,334.34 L408.3,334.03 L407.6,334.54Z" fill="#f9a6a6" stroke="#f9a6a6" stroke-width="0.5" stroke-linejoin="round"/>
<path d="M407.6,355.53 L408.3,356.17 L409,355.92 L409.7,356.24 L410.4,356.39 L411.1,355.73 L411.8,356.64 L412.5,355.61 L413.2,356.23 L413.9,356.25 L414.6,356.23 L415.3,356.47 L416,356.55 L416.7,355.83 L417.4,355.57 L418.1,355.69 L418.8,355.86 L419.5,355.5 L420.2,355.58 L420.9,355.84 L421.6,355.38 L422.3,355.36 L423,355.58 L423.7,355.37 L424.4,355.09 L425.1,355.25 L425.8,355.64 L426.5,355.47 L427.2,356.42 L427.9,356.03 L428.6,355.94 L429.3,356.58 L430,355.75 L430.7,356.08 L431.4,356.28 L432.1,355.67 L432.8,355.34 L433.5,355.6 L434.2,356.29 L434.9,356.22 L435.6,356.48 L436.3,355.96 L437,355.97 L437.7,356.52 L438.4,356.65 L439.1,356.24 L439.8,356.23 L440.5,356.07 L441.2,356.43 L441.9,355.9 L442.6,355.91 L443.3,355.44 L444,355.44 L444.7,356.06 L445.4,355.91 L446.1,355.85 L446.8,356.25 L447.5,356.52 L448.2,355.96 L448.9,356.93 L449.6,356.57 L450.3,356.8 L451,356.55 L451.7,356.05 L452.4,356.4 L453.1,355.91 L453.8,355.94 L454.5,356.42 L455.2,355.99 L455.9,355.96 L456.6,356.43 L457.3,356.24 L458,356.24 L458.7,356.54 L459.4,356.26 L460.1,356.59 L460.8,355.68 L461.5,355.65 L462.2,356.37 L462.9,356.34 L463.6,355.61 L464.3,355.42 L465,355.55 L465.7,355.52 L466.4,356.24 L467.1,355.38 L467.8,355.61 L468.5,355.58 L469.2,355.51 L469.9,355.89 L470.6,355.27 L471.3,355.8 L472,356.05 L472.7,355.36 L473.4,355.4 L474.1,354.29 L474.8,354.54 L475.5,354.26 L476.2,353.32 L476.9,353.08 L477.6,353.1 L478.3,352.82 L479,351.73 L479.7,352.55 L480.4,351.54 L481.1,351.28 L481.8,351.75 L482.5,351.22 L483.2,351.39 L483.9,350.82 L484.6,350.42 L485.3,350.87 L486,351.25 L486.7,350.35 L487.4,350.45 L488.1,350.72 L488.8,350.18 L489.5,350.72 L490.2,349.78 L490.9,349.58 L491.6,349.79 L492.3,350.12 L493,349.78 L493.7,349.23 L494.4,349 L495.1,349.36 L495.8,348.8 L496.5,348.86 L497.2,348.33 L497.9,347.61 L498.6,347.11 L499.3,347.3 L500,346.44 L500.7,345.55 L501.4,344.73 L502.1,343.99 L502.8,343.63 L503.5,342.77 L504.2,342.59 L504.9,341.93 L505.6,341.27 L506.3,340.77 L507,340.6 L507.7,339.93 L508.4,340.51 L509.1,340.13 L509.8,340.46 L510.5,341.3 L511.2,341.71 L511.9,342.4 L512.6,343.5 L513.3,343.96 L514,345.64 L514.7,346.52 L515.4,347.09 L516.1,347.29 L516.8,348.34 L517.5,348.58 L518.2,349.08 L518.9,348.62 L519.6,348.85 L520.3,350.1 L521,350.55 L521.7,350.8 L522.4,350.13 L523.1,351.21 L523.8,351.09 L524.5,350.95 L525.2,351.81 L525.9,351.9 L526.6,351.3 L527.3,351.99 L528,351.83 L528.7,351.97 L529.4,352.13 L530.1,351.81 L530.8,352.23 L531.5,352.46 L532.2,351.87 L532.9,351.77 L533.6,351.66 L534.3,352.11 L535,352.37 L535.7,352.08 L536.4,351.64 L537.1,351.52 L537.8,352.03 L538.5,352.05 L539.2,352.7 L539.9,352.7 L540.6,352.01 L541.3,352.58 L542,352.33 L542.7,351.73 L543.4,351.67 L544.1,350.98 L544.8,350.92 L545.5,350.15 L546.2,350.21 L546.9,349.88 L547.6,349.47 L548.3,348.35 L549,347.53 L549.7,347.05 L550.4,346.01 L551.1,344.56 L551.8,344.42 L552.5,343.36 L553.2,342.64 L553.9,340.45 L554.6,339.72 L555.3,337.96 L556,336.07 L556.7,333.36 L557.4,330.24 L558.1,326.32 L558.8,324.05 L559.5,321.46 L560.2,321.12 L560.9,322.12 L561.6,324 L562.3,325.73 L563,327.38 L563.7,329.73 L564.4,330.85 L565.1,333.33 L565.8,334.31 L566.5,336.24 L567.2,337.14 L567.9,337.87 L568.6,340.14 L569.3,341.25 L570,341.92 L570.7,342.67 L571.4,343.93 L572.1,345.14 L572.8,345.83 L573.5,346.62 L574.2,347.28 L574.9,347.62 L575.6,348.36 L576.3,349 L577,349.65 L577.7,350.29 L578.4,351.07 L579.1,352.1 L579.8,352.03 L580.5,352.04 L581.2,353.22 L581.9,352.84 L582.6,353.12 L583.3,352.96 L584,353.03 L584.7,353.56 L585.4,353.41 L586.1,353.74 L586.8,354.49 L587.5,353.75 L588.2,354.86 L588.9,354.64 L589.6,355.15 L590.3,355.25 L591,354.53 L591.7,355.5 L592.4,355.14 L593.1,354.73 L593.8,355.19 L594.5,355.07 L595.2,355.64 L595.9,355.73 L596.6,355.37 L597.3,355.3 L598,355.99 L598.7,356.13 L599.4,355.87 L600.1,356.06 L600.8,355.85 L601.5,355.86 L602.2,356.61 L602.9,355.81 L603.6,356.38 L604.3,355.79 L605,356.53 L605.7,356.38 L606.4,355.81 L607.1,356.03 L607.8,356.42 L608.5,356.75 L609.2,356.41 L609.9,356.82 L610.6,356.43 L611.3,356.35 L612,356.64 L612.7,356 L613.4,356.7 L614.1,356.01 L614.8,356.51 L615.5,356.31 L616.2,356.35 L616.9,356.82 L617.6,356.31 L618.3,356.71 L619,356.64 L619.7,356.05 L620.4,356 L621.1,356.68 L621.8,355.93 L622.5,355.76 L623.2,356.21 L623.9,355.91 L624.6,356.22 L625.3,356.51 L626,356.04 L626.7,356.07 L627.4,355.6 L628.1,355.81 L628.8,356.09 L629.5,355.96 L630.2,355.9 L630.9,356.13 L631.6,356.27 L632.3,355.7 L633,355.49 L633.7,355.5 L634.4,356.18 L635.1,356.08 L635.8,356.19 L636.5,355.41 L637.2,355.53 L637.9,356.28 L638.6,356.14 L639.3,355.8 L640,355.69 L640.7,355.43 L641.4,355.92 L642.1,355.63 L642.8,356.2 L643.5,355.75 L644.2,355.95 L644.9,355.92 L645.6,355.6 L646.3,355.86 L647,356.04 L647.7,355.72 L648.4,355.96 L649.1,355.43 L649.8,355.45 L650.5,355.61 L651.2,355.79 L651.9,355.25 L652.6,355.48 L653.3,355.87 L654,355.84 L654.7,354.93 L655.4,355.2 L656.1,354.71 L656.8,354.54 L657.5,354.61 L658.2,355.19 L658.9,354.37 L659.6,354.44 L660.3,355.22 L661,354.13 L661.7,355.46 L662.4,354.73 L663.1,355.5 L663.8,355.09 L664.5,355.83 L665.2,354.9 L665.9,355.29 L666.6,355.92 L667.3,355.72 L667.3,357.99 L666.6,357.38 L665.9,357.47 L665.2,358.06 L664.5,357.43 L663.8,357.13 L663.1,357.04 L662.4,357.32 L661.7,357.02 L661,356.86 L660.3,356.92 L659.6,356.81 L658.9,356.44 L658.2,357.35 L657.5,357.21 L656.8,356.83 L656.1,357.53 L655.4,357.56 L654.7,357.42 L654,357.65 L653.3,357.86 L652.6,357.66 L651.9,357.95 L651.2,357.39 L650.5,357.75 L649.8,357.64 L649.1,358.1 L648.4,357.62 L647.7,358.05 L647,357.59 L646.3,357.56 L645.6,357.96 L644.9,357.34 L644.2,357.75 L643.5,357.54 L642.8,358.3 L642.1,358.18 L641.4,357.34 L640.7,358.34 L640,358.09 L639.3,357.89 L638.6,357.57 L637.9,358.08 L637.2,358.07 L636.5,358.11 L635.8,358.41 L635.1,357.69 L634.4,358.06 L633.7,357.76 L633,358.09 L632.3,358.1 L631.6,358.13 L630.9,358.23 L630.2,357.81 L629.5,357.63 L628.8,358.12 L628.1,358.04 L627.4,358.04 L626.7,358.61 L626,358.13 L625.3,357.88 L624.6,358.26 L623.9,357.91 L623.2,358.38 L622.5,358.56 L621.8,358.91 L621.1,358.41 L620.4,358.09 L619.7,357.97 L619,358.52 L618.3,358.58 L617.6,358.89 L616.9,358.68 L616.2,357.85 L615.5,358.16 L614.8,358.53 L614.1,358.31 L613.4,358.31 L612.7,358.49 L612,358.74 L611.3,358.6 L610.6,358.88 L609.9,358.48 L609.2,358.19 L608.5,358.05 L607.8,358.8 L607.1,358.51 L606.4,358.76 L605.7,358.83 L605,358.6 L604.3,358.02 L603.6,358.48 L602.9,358.68 L602.2,358.29 L601.5,357.94 L600.8,358.44 L600.1,358.18 L599.4,358.28 L598.7,358.12 L598,357.38 L597.3,358.1 L596.6,357.89 L595.9,358.21 L595.2,357.28 L594.5,357.42 L593.8,357.83 L593.1,357.29 L592.4,357.14 L591.7,357.22 L591,356.73 L590.3,357.45 L589.6,356.91 L588.9,356.69 L588.2,356.62 L587.5,356.66 L586.8,355.82 L586.1,356.37 L585.4,356.21 L584.7,356.16 L584,355.85 L583.3,357.25 L582.6,355.36 L581.9,354.76 L581.2,354.45 L580.5,354.92 L579.8,354.22 L579.1,354.04 L578.4,353.14 L577.7,352.68 L577,351.69 L576.3,350.8 L575.6,350.44 L574.9,350.13 L574.2,349.77 L573.5,348.74 L572.8,348.17 L572.1,346.87 L571.4,345.5 L570.7,344.73 L570,344.15 L569.3,343.24 L568.6,341.89 L567.9,340.86 L567.2,339.5 L566.5,337.29 L565.8,335.88 L565.1,335.22 L564.4,333.48 L563.7,331.88 L563,330.54 L562.3,328.53 L561.6,326.14 L560.9,323.34 L560.2,323.21 L559.5,323.49 L558.8,326.18 L558.1,328.8 L557.4,332.42 L556.7,335.79 L556,338.2 L555.3,339.85 L554.6,341.12 L553.9,342.51 L553.2,343.98 L552.5,344.89 L551.8,346.03 L551.1,346.8 L550.4,347.53 L549.7,348.68 L549,349.3 L548.3,350.75 L547.6,351.23 L546.9,351.39 L546.2,352.19 L545.5,352.46 L544.8,353.35 L544.1,353.94 L543.4,353.26 L542.7,353.41 L542,353.61 L541.3,354.38 L540.6,353.83 L539.9,354.38 L539.2,354.61 L538.5,354.11 L537.8,354.37 L537.1,353.74 L536.4,353.74 L535.7,353.78 L535,353.5 L534.3,353.94 L533.6,353.51 L532.9,353.59 L532.2,354.25 L531.5,354.64 L530.8,354.14 L530.1,353.56 L529.4,353.61 L528.7,353.75 L528,353.59 L527.3,353.86 L526.6,354.26 L525.9,353.1 L525.2,353.35 L524.5,353.32 L523.8,353.39 L523.1,352.34 L522.4,352.13 L521.7,352.3 L521,351.75 L520.3,351.51 L519.6,351.9 L518.9,351.17 L518.2,350.57 L517.5,350.84 L516.8,349.41 L516.1,349.41 L515.4,349.51 L514.7,348.14 L514,347.14 L513.3,345.97 L512.6,345.16 L511.9,344.4 L511.2,343.69 L510.5,342.58 L509.8,342.41 L509.1,342.21 L508.4,342.15 L507.7,342.83 L507,343.35 L506.3,342.88 L505.6,343.88 L504.9,344.05 L504.2,344.5 L503.5,344.92 L502.8,345.41 L502.1,345.84 L501.4,346.62 L500.7,347.16 L500,348.79 L499.3,349.21 L498.6,349.34 L497.9,350.51 L497.2,350.97 L496.5,351.01 L495.8,351.66 L495.1,351.33 L494.4,351.54 L493.7,351.92 L493,351.83 L492.3,351.61 L491.6,351.43 L490.9,351.89 L490.2,352.05 L489.5,352.37 L488.8,352.72 L488.1,352.5 L487.4,353.06 L486.7,353.07 L486,353.04 L485.3,352.65 L484.6,353.54 L483.9,353.07 L483.2,353.16 L482.5,353.49 L481.8,353.62 L481.1,354.3 L480.4,353.77 L479.7,354.01 L479,354.06 L478.3,354.42 L477.6,354.56 L476.9,355.59 L476.2,355.87 L475.5,356.01 L474.8,355.88 L474.1,356.36 L473.4,357.42 L472.7,357.08 L472,357.64 L471.3,357.56 L470.6,357.89 L469.9,357.82 L469.2,357.95 L468.5,358.28 L467.8,358.24 L467.1,357.91 L466.4,358.24 L465.7,358.49 L465,358.3 L464.3,357.68 L463.6,358.04 L462.9,357.94 L462.2,357.45 L461.5,357.51 L460.8,358.33 L460.1,358.07 L459.4,357.89 L458.7,358.21 L458,358.83 L457.3,358.44 L456.6,358.41 L455.9,358.33 L455.2,357.99 L454.5,358.77 L453.8,358.08 L453.1,358.76 L452.4,358.06 L451.7,357.96 L451,358.56 L450.3,359.07 L449.6,358.42 L448.9,358.45 L448.2,358.18 L447.5,358.7 L446.8,358.16 L446.1,358.34 L445.4,358.23 L444.7,358.19 L444,357.67 L443.3,358.11 L442.6,357.61 L441.9,357.89 L441.2,357.7 L440.5,358.5 L439.8,358.14 L439.1,358.59 L438.4,358.81 L437.7,358.39 L437,358.43 L436.3,358.04 L435.6,358.33 L434.9,358.09 L434.2,358.04 L433.5,357.64 L432.8,358.32 L432.1,358.41 L431.4,358.34 L430.7,358.14 L430,358.01 L429.3,358.17 L428.6,357.9 L427.9,359.5 L427.2,357.62 L426.5,357.8 L425.8,357.25 L425.1,357.45 L424.4,358.07 L423.7,358.1 L423,358.04 L422.3,357.51 L421.6,357.99 L420.9,358.29 L420.2,357.79 L419.5,357.43 L418.8,358.01 L418.1,357.86 L417.4,358.46 L416.7,358.5 L416,358.02 L415.3,357.86 L414.6,358.34 L413.9,357.85 L413.2,358.39 L412.5,358.24 L411.8,358.07 L411.1,358.53 L410.4,358.62 L409.7,357.81 L409,357.91 L408.3,357.69 L407.6,358.5Z" fill="#f99494" stroke="#f99494" stroke-width="0.5" stroke-linejoin="round"/>
<path d="M407.6,378.44 L408.3,378.21 L409,378.2 L409.7,377.64 L410.4,378.86 L411.1,378.08 L411.8,378.57 L412.5,378.61 L413.2,378.5 L413.9,377.68 L414.6,378.73 L415.3,378.29 L416,377.68 L416.7,378.14 L417.4,378.12 L418.1,377.91 L418.8,378.46 L419.5,378.26 L420.2,378.8 L420.9,378.58 L421.6,378.17 L422.3,378.37 L423,378.32 L423.7,378.58 L424.4,378.21 L425.1,377.92 L425.8,377.67 L426.5,378.18 L427.2,377.92 L427.9,377.87 L428.6,377.96 L429.3,378.08 L430,377.59 L430.7,377.3 L431.4,377.64 L432.1,377.88 L432.8,378.47 L433.5,377.6 L434.2,377.56 L434.9,377.52 L435.6,377.94 L436.3,378.08 L437,378.24 L437.7,377.35 L438.4,377.55 L439.1,378.02 L439.8,378 L440.5,377.05 L441.2,377.35 L441.9,377.21 L442.6,378.1 L443.3,377.58 L444,377.47 L444.7,377.72 L445.4,378.51 L446.1,378.25 L446.8,377.49 L447.5,378.12 L448.2,377.12 L448.9,377.36 L449.6,376.9 L450.3,377.59 L451,377.7 L451.7,377.31 L452.4,377.26 L453.1,376.96 L453.8,377.66 L454.5,376.5 L455.2,376.7 L455.9,376.96 L456.6,376.95 L457.3,377.62 L458,376.81 L458.7,376.88 L459.4,377.24 L460.1,377.72 L460.8,377.13 L461.5,376.48 L462.2,376.88 L462.9,377.49 L463.6,376.31 L464.3,377.35 L465,376.56 L465.7,376.89 L466.4,376.03 L467.1,376.27 L467.8,375.91 L468.5,376.68 L469.2,376.09 L469.9,375.95 L470.6,376.03 L471.3,374.86 L472,375.23 L472.7,375.33 L473.4,375.11 L474.1,374.26 L474.8,374.81 L475.5,374.38 L476.2,373.41 L476.9,373.22 L477.6,373.15 L478.3,373.19 L479,373.17 L479.7,372.46 L480.4,373.18 L481.1,371.85 L481.8,371.57 L482.5,372.26 L483.2,371.44 L483.9,371.04 L484.6,370.76 L485.3,371.81 L486,370.99 L486.7,370.34 L487.4,370.93 L488.1,370.58 L488.8,370.14 L489.5,370.47 L490.2,369.46 L490.9,370.2 L491.6,369.5 L492.3,369.23 L493,368.83 L493.7,368.61 L494.4,368.62 L495.1,368.62 L495.8,367.81 L496.5,367.4 L497.2,367.14 L497.9,366.78 L498.6,366.3 L499.3,365.75 L500,365.98 L500.7,365.43 L501.4,364.48 L502.1,364.67 L502.8,363.26 L503.5,363.28 L504.2,362.69 L504.9,362.87 L505.6,362.89 L506.3,362.31 L507,361.72 L507.7,362.37 L508.4,361.6 L509.1,362.28 L509.8,361.69 L510.5,362.77 L511.2,362.95 L511.9,363.57 L512.6,364.05 L513.3,364.07 L514,364.43 L514.7,365.38 L515.4,365.82 L516.1,365.27 L516.8,366.03 L517.5,366.72 L518.2,367.59 L518.9,367.5 L519.6,367.95 L520.3,368.85 L521,368.72 L521.7,369.68 L522.4,370.49 L523.1,370.22 L523.8,370.79 L524.5,371.47 L525.2,371.57 L525.9,372.69 L526.6,372.74 L527.3,373.12 L528,373.3 L528.7,373.06 L529.4,373.7 L530.1,373.49 L530.8,372.9 L531.5,373.57 L532.2,372.82 L532.9,373.65 L533.6,373.32 L534.3,373.58 L535,373.26 L535.7,373.5 L536.4,373.27 L537.1,372.65 L537.8,372.26 L538.5,372.13 L539.2,371.87 L539.9,371.79 L540.6,371.95 L541.3,372.06 L542,371.11 L542.7,371.35 L543.4,371.36 L544.1,370.66 L544.8,370.17 L545.5,370.43 L546.2,369.24 L546.9,368.94 L547.6,368.89 L548.3,368.27 L549,368.15 L549.7,367.11 L550.4,366.62 L551.1,365.7 L551.8,364.76 L552.5,363.9 L553.2,362.79 L553.9,361.12 L554.6,360.13 L555.3,358.47 L556,355.82 L556.7,353.45 L557.4,349.59 L558.1,346.31 L558.8,342.09 L559.5,339.78 L560.2,338.83 L560.9,339.69 L561.6,341.87 L562.3,344.9 L563,347.27 L563.7,349.19 L564.4,351.01 L565.1,352.88 L565.8,354.06 L566.5,356.63 L567.2,355.54 L567.9,358.7 L568.6,360.98 L569.3,361.64 L570,363.4 L570.7,364.22 L571.4,366.06 L572.1,367.11 L572.8,367.49 L573.5,368.95 L574.2,369.42 L574.9,369.62 L575.6,371.03 L576.3,371.43 L577,372.48 L577.7,372.74 L578.4,373.14 L579.1,373.26 L579.8,373.81 L580.5,374.63 L581.2,375.12 L581.9,374.1 L582.6,374.5 L583.3,375.16 L584,374.98 L584.7,375.28 L585.4,375.39 L586.1,375.87 L586.8,375.95 L587.5,376.38 L588.2,376.64 L588.9,375.64 L589.6,376.72 L590.3,376.58 L591,375.81 L591.7,376.66 L592.4,376.1 L593.1,376.1 L593.8,376.87 L594.5,376.63 L595.2,376.9 L595.9,376.61 L596.6,376.94 L597.3,377.5 L598,377.03 L598.7,376.98 L599.4,376.71 L600.1,376.64 L600.8,376.62 L601.5,375.96 L602.2,376.08 L602.9,376.63 L603.6,376.19 L604.3,376.72 L605,376.62 L605.7,377.64 L606.4,376.8 L607.1,377.23 L607.8,377.06 L608.5,377.6 L609.2,377.76 L609.9,377.56 L610.6,377.68 L611.3,377.84 L612,376.96 L612.7,377.42 L613.4,376.88 L614.1,377.69 L614.8,377.43 L615.5,376.79 L616.2,377.35 L616.9,377.04 L617.6,376.78 L618.3,376.22 L619,377.29 L619.7,376.61 L620.4,376.99 L621.1,376.9 L621.8,377.74 L622.5,377.28 L623.2,377.69 L623.9,377.74 L624.6,377.93 L625.3,378.26 L626,377.55 L626.7,377.55 L627.4,377.53 L628.1,377.19 L628.8,377.35 L629.5,377.27 L630.2,376.69 L630.9,377.13 L631.6,377.47 L632.3,376.88 L633,376.62 L633.7,377.63 L634.4,377.01 L635.1,377.87 L635.8,377.09 L636.5,377.76 L637.2,377.74 L637.9,377.89 L638.6,377.42 L639.3,377.38 L640,377.33 L640.7,377.58 L641.4,378.19 L642.1,377.5 L642.8,377.64 L643.5,377.62 L644.2,377.33 L644.9,377.67 L645.6,377.97 L646.3,377.48 L647,377.42 L647.7,377.32 L648.4,377.92 L649.1,376.95 L649.8,376.93 L650.5,377.6 L651.2,377.4 L651.9,377.38 L652.6,377.75 L653.3,377.21 L654,377.39 L654.7,376.97 L655.4,376.91 L656.1,377.01 L656.8,377.24 L657.5,377.2 L658.2,376.48 L658.9,376.56 L659.6,376.27 L660.3,376.28 L661,376.56 L661.7,375.95 L662.4,376.64 L663.1,376.86 L663.8,377.15 L664.5,376.7 L665.2,376.64 L665.9,376.5 L666.6,377.01 L667.3,377.5 L667.3,379.51 L666.6,379.2 L665.9,378.95 L665.2,379.57 L664.5,379.39 L663.8,379.27 L663.1,379.35 L662.4,378.81 L661.7,378.64 L661,379.22 L660.3,379.15 L659.6,379.11 L658.9,378.75 L658.2,378.5 L657.5,379.31 L656.8,379.42 L656.1,379.51 L655.4,379.02 L654.7,379.47 L654,379.9 L653.3,380.19 L652.6,379.75 L651.9,379.57 L651.2,380.22 L650.5,379.89 L649.8,380.12 L649.1,379.31 L648.4,379.26 L647.7,379.33 L647,380.37 L646.3,379.81 L645.6,379.87 L644.9,380.63 L644.2,379.94 L643.5,380.51 L642.8,379.68 L642.1,379.71 L641.4,380.28 L640.7,380.41 L640,379.72 L639.3,379.33 L638.6,379.55 L637.9,379.95 L637.2,379.07 L636.5,379.24 L635.8,380.05 L635.1,379.57 L634.4,378.98 L633.7,380 L633,378.93 L632.3,379.94 L631.6,379.42 L630.9,379.83 L630.2,379.95 L629.5,379.6 L628.8,380.05 L628.1,379.72 L627.4,380.05 L626.7,380.49 L626,379.71 L625.3,380.44 L624.6,380.04 L623.9,380.38 L623.2,380.16 L622.5,379.89 L621.8,379.72 L621.1,379.4 L620.4,379.35 L619.7,378.81 L619,378.62 L618.3,378.89 L617.6,379.13 L616.9,379.55 L616.2,379.22 L615.5,378.81 L614.8,379.96 L614.1,379.91 L613.4,378.79 L612.7,379.81 L612,379.27 L611.3,379.97 L610.6,379.41 L609.9,379.75 L609.2,379.86 L608.5,379.66 L607.8,379.31 L607.1,380.02 L606.4,379.24 L605.7,379.86 L605,378.72 L604.3,378.88 L603.6,379.25 L602.9,378.41 L602.2,378.63 L601.5,379.12 L600.8,379.01 L600.1,378.33 L599.4,378.89 L598.7,379.25 L598,379.64 L597.3,380.42 L596.6,379.9 L595.9,379.74 L595.2,378.97 L594.5,379.48 L593.8,378.7 L593.1,378.96 L592.4,378.56 L591.7,378.79 L591,378.44 L590.3,378.75 L589.6,378.19 L588.9,378.43 L588.2,378.07 L587.5,378.74 L586.8,378.09 L586.1,377.65 L585.4,376.9 L584.7,377.15 L584,376.98 L583.3,376.61 L582.6,377.29 L581.9,377.1 L581.2,376.98 L580.5,376.67 L579.8,376.14 L579.1,376.5 L578.4,375.01 L577.7,375.6 L577,374.79 L576.3,373.41 L575.6,373.09 L574.9,373.11 L574.2,371.3 L573.5,370.47 L572.8,369.98 L572.1,368.51 L571.4,367.74 L570.7,366.1 L570,365.04 L569.3,363.84 L568.6,362.6 L567.9,360.88 L567.2,360.15 L566.5,358.16 L565.8,356.91 L565.1,355.38 L564.4,353.26 L563.7,350.99 L563,349.97 L562.3,347.42 L561.6,344.42 L560.9,342.09 L560.2,342.06 L559.5,341.76 L558.8,345 L558.1,347.88 L557.4,351.74 L556.7,355.54 L556,358.56 L555.3,360.08 L554.6,361.93 L553.9,363.61 L553.2,364.99 L552.5,365.49 L551.8,367.1 L551.1,367.57 L550.4,368.62 L549.7,368.96 L549,370.33 L548.3,371.36 L547.6,370.93 L546.9,371.93 L546.2,371.92 L545.5,372.37 L544.8,372.73 L544.1,372.45 L543.4,373.37 L542.7,373.91 L542,373.73 L541.3,373.93 L540.6,374.15 L539.9,374.41 L539.2,374.1 L538.5,374.01 L537.8,374.22 L537.1,375.24 L536.4,374.5 L535.7,375.21 L535,375.93 L534.3,375.53 L533.6,376.2 L532.9,375.59 L532.2,375.73 L531.5,375.33 L530.8,375.3 L530.1,375.64 L529.4,375.44 L528.7,375.37 L528,375.63 L527.3,374.77 L526.6,375.24 L525.9,374.91 L525.2,374.53 L524.5,373.9 L523.8,372.97 L523.1,372.65 L522.4,372.16 L521.7,372.49 L521,370.97 L520.3,370.43 L519.6,370.42 L518.9,370.36 L518.2,369.32 L517.5,369.29 L516.8,368.05 L516.1,367.64 L515.4,367.7 L514.7,366.82 L514,366.83 L513.3,366.79 L512.6,365.99 L511.9,365.41 L511.2,364.88 L510.5,364.32 L509.8,364.72 L509.1,363.78 L508.4,364.1 L507.7,364 L507,364.32 L506.3,364.64 L505.6,365.13 L504.9,365.12 L504.2,365.43 L503.5,366.4 L502.8,365.85 L502.1,366.05 L501.4,366.46 L500.7,367.29 L500,367.35 L499.3,368.52 L498.6,368.24 L497.9,369.04 L497.2,369.48 L496.5,370.69 L495.8,369.95 L495.1,371.22 L494.4,371.17 L493.7,371.59 L493,371.58 L492.3,371.53 L491.6,372.49 L490.9,371.93 L490.2,372.88 L489.5,372.93 L488.8,372.64 L488.1,372.77 L487.4,372.85 L486.7,373.08 L486,372.83 L485.3,373.21 L484.6,373.54 L483.9,373.86 L483.2,374.61 L482.5,374.72 L481.8,374.44 L481.1,375.15 L480.4,374.63 L479.7,375.05 L479,375.17 L478.3,375.05 L477.6,375.18 L476.9,375.37 L476.2,376.35 L475.5,375.98 L474.8,376.68 L474.1,376.48 L473.4,377.3 L472.7,376.59 L472,377.56 L471.3,377.03 L470.6,377.21 L469.9,377.74 L469.2,378.17 L468.5,378.89 L467.8,379.21 L467.1,378.86 L466.4,378.32 L465.7,378.53 L465,378.86 L464.3,379.37 L463.6,378.71 L462.9,379.67 L462.2,378.68 L461.5,379.72 L460.8,379.24 L460.1,379.62 L459.4,379.6 L458.7,379.82 L458,379.28 L457.3,379.91 L456.6,379.1 L455.9,379.31 L455.2,379.82 L454.5,379.09 L453.8,379.1 L453.1,379.48 L452.4,379.12 L451.7,379.62 L451,379.45 L450.3,378.93 L449.6,379.48 L448.9,380.12 L448.2,379.42 L447.5,380.59 L446.8,380.58 L446.1,380.38 L445.4,379.63 L444.7,380.06 L444,380.78 L443.3,379.82 L442.6,380.46 L441.9,379.96 L441.2,380.62 L440.5,379.65 L439.8,380.1 L439.1,380.12 L438.4,380.01 L437.7,379.64 L437,381.5 L436.3,380.01 L435.6,380 L434.9,379.87 L434.2,380.33 L433.5,379.83 L432.8,380.29 L432.1,379.68 L431.4,380.46 L430.7,379.6 L430,379.84 L429.3,380.02 L428.6,380.63 L427.9,380.19 L427.2,380.32 L426.5,380.33 L425.8,379.71 L425.1,380.69 L424.4,380.74 L423.7,380.62 L423,380.3 L422.3,380.57 L421.6,380.78 L420.9,380.44 L420.2,380.87 L419.5,380.19 L418.8,380.98 L418.1,380.87 L417.4,380.19 L416.7,380.74 L416,379.84 L415.3,380.08 L414.6,380.55 L413.9,380.89 L413.2,380.44 L412.5,380.86 L411.8,380.1 L411.1,380.73 L410.4,380.29 L409.7,379.88 L409,380.36 L408.3,381.03 L407.6,379.89Z" fill="#f78484" stroke="#f78484" stroke-width="0.5" stroke-linejoin="round"/>
<path d="M407.6,401.18 L408.3,400.88 L409,400.59 L409.7,401.23 L410.4,401.09 L411.1,400.66 L411.8,399.93 L412.5,400.71 L413.2,399.9 L413.9,400.1 L414.6,400.1 L415.3,400.29 L416,399.83 L416.7,400.14 L417.4,400.6 L418.1,400.32 L418.8,400.51 L419.5,401.65 L420.2,400.87 L420.9,400.33 L421.6,400.24 L422.3,401.09 L423,400.74 L423.7,400.32 L424.4,400.7 L425.1,399.61 L425.8,400.3 L426.5,400.92 L427.2,400.93 L427.9,399.99 L428.6,400.39 L429.3,400.1 L430,400.9 L430.7,400.92 L431.4,399.92 L432.1,399.97 L432.8,400.7 L433.5,401.22 L434.2,401.07 L434.9,401.02 L435.6,400.79 L436.3,399.94 L437,400.8 L437.7,400.92 L438.4,400.73 L439.1,400.13 L439.8,399.71 L440.5,400.68 L441.2,400.46 L441.9,399.82 L442.6,399.61 L443.3,400.08 L444,399.09 L444.7,399.17 L445.4,400.15 L446.1,398.91 L446.8,399.75 L447.5,399.38 L448.2,400.11 L448.9,399.8 L449.6,400.18 L450.3,400.16 L451,399.16 L451.7,399.46 L452.4,399.67 L453.1,399.84 L453.8,399.78 L454.5,400.03 L455.2,400.51 L455.9,399.29 L456.6,399.52 L457.3,399.84 L458,398.91 L458.7,399.43 L459.4,399.86 L460.1,398.5 L460.8,398.64 L461.5,399.39 L462.2,398.07 L462.9,397.95 L463.6,398.72 L464.3,398.41 L465,398.48 L465.7,398.12 L466.4,398.81 L467.1,399.1 L467.8,399.27 L468.5,399.42 L469.2,398.92 L469.9,399.79 L470.6,399.12 L471.3,399.91 L472,399.16 L472.7,399.8 L473.4,398.6 L474.1,399.39 L474.8,399.51 L475.5,398.85 L476.2,398.15 L476.9,398.12 L477.6,397.87 L478.3,398.1 L479,397.56 L479.7,397.25 L480.4,396.15 L481.1,396.47 L481.8,395.9 L482.5,395.5 L483.2,395.15 L483.9,396.09 L484.6,395.77 L485.3,395.52 L486,394.91 L486.7,394.19 L487.4,393.79 L488.1,393.85 L488.8,393.45 L489.5,391.85 L490.2,391.66 L490.9,391.45 L491.6,391.08 L492.3,390.24 L493,389.99 L493.7,389.18 L494.4,388.89 L495.1,388.64 L495.8,388.69 L496.5,388.26 L497.2,387.91 L497.9,387.56 L498.6,386.3 L499.3,386.68 L500,386 L500.7,386.16 L501.4,384.77 L502.1,385.48 L502.8,384.8 L503.5,384.3 L504.2,383.09 L504.9,382.99 L505.6,383.56 L506.3,382.23 L507,382.79 L507.7,381.44 L508.4,382.17 L509.1,381.92 L509.8,382.27 L510.5,382.3 L511.2,383.03 L511.9,383.96 L512.6,385.89 L513.3,386.93 L514,386.86 L514.7,389.06 L515.4,390.11 L516.1,390.09 L516.8,390.25 L517.5,391.22 L518.2,391.84 L518.9,392.1 L519.6,391.87 L520.3,392.15 L521,392.41 L521.7,393.69 L522.4,393.31 L523.1,393.95 L523.8,393.19 L524.5,394.55 L525.2,394.21 L525.9,394.26 L526.6,394.14 L527.3,393.84 L528,394.15 L528.7,395.2 L529.4,394.17 L530.1,394.26 L530.8,395.2 L531.5,394.74 L532.2,394.48 L532.9,394.75 L533.6,395.49 L534.3,395.42 L535,394.73 L535.7,394.77 L536.4,395.34 L537.1,394.24 L537.8,394.41 L538.5,393.97 L539.2,394.63 L539.9,394.53 L540.6,394.56 L541.3,393.55 L542,393.95 L542.7,393.29 L543.4,391.24 L544.1,393.42 L544.8,393.34 L545.5,392.47 L546.2,391.44 L546.9,391.9 L547.6,390.28 L548.3,390.49 L549,388.72 L549.7,387.76 L550.4,387.84 L551.1,385.93 L551.8,385.88 L552.5,384.86 L553.2,384.16 L553.9,382.37 L554.6,381.95 L555.3,380.56 L556,379.24 L556.7,376.89 L557.4,373.72 L558.1,371.03 L558.8,368.02 L559.5,364.44 L560.2,362.01 L560.9,361.4 L561.6,361.07 L562.3,362.93 L563,366.1 L563.7,368.26 L564.4,370.47 L565.1,370.77 L565.8,373.95 L566.5,375.79 L567.2,377.49 L567.9,379.07 L568.6,380.24 L569.3,381.86 L570,383.11 L570.7,384.43 L571.4,385.96 L572.1,387.29 L572.8,388.88 L573.5,389.52 L574.2,390.6 L574.9,391.37 L575.6,392.62 L576.3,391.03 L577,393.74 L577.7,395.32 L578.4,396.27 L579.1,395.94 L579.8,396.89 L580.5,396.73 L581.2,397.28 L581.9,398.06 L582.6,398.43 L583.3,397.43 L584,398.23 L584.7,398.4 L585.4,398.59 L586.1,399.02 L586.8,399.74 L587.5,398.92 L588.2,398.72 L588.9,399.69 L589.6,399.22 L590.3,400.33 L591,399.56 L591.7,400.18 L592.4,400.33 L593.1,400.55 L593.8,401.11 L594.5,400.96 L595.2,400.76 L595.9,401.43 L596.6,400.98 L597.3,401.3 L598,402.24 L598.7,401.18 L599.4,402.5 L600.1,401.97 L600.8,401.28 L601.5,401.23 L602.2,401.61 L602.9,401.31 L603.6,401.75 L604.3,401.37 L605,402.17 L605.7,401.91 L606.4,402.35 L607.1,401.78 L607.8,401.59 L608.5,401.33 L609.2,400.86 L609.9,401.12 L610.6,401.45 L611.3,401.68 L612,401.33 L612.7,401.7 L613.4,402.54 L614.1,402.42 L614.8,401.91 L615.5,401.48 L616.2,402.16 L616.9,401.52 L617.6,401.97 L618.3,401.65 L619,401.67 L619.7,401.35 L620.4,402.38 L621.1,401.54 L621.8,402 L622.5,401.55 L623.2,401.22 L623.9,401.56 L624.6,402.05 L625.3,401.58 L626,400.73 L626.7,400.36 L627.4,400.9 L628.1,401.34 L628.8,400.92 L629.5,401.49 L630.2,401.12 L630.9,400.9 L631.6,401.4 L632.3,401.85 L633,401.33 L633.7,401.64 L634.4,401.73 L635.1,400.12 L635.8,402.44 L636.5,402.26 L637.2,401.93 L637.9,402.35 L638.6,402.07 L639.3,402.42 L640,402.02 L640.7,401.4 L641.4,401.15 L642.1,402.34 L642.8,402 L643.5,401.12 L644.2,401.04 L644.9,401.84 L645.6,402.26 L646.3,402.2 L647,401.69 L647.7,401.67 L648.4,402.2 L649.1,401.04 L649.8,401.66 L650.5,401.57 L651.2,401.91 L651.9,401.61 L652.6,400.94 L653.3,401.12 L654,401.25 L654.7,400.49 L655.4,401.59 L656.1,400.71 L656.8,401.56 L657.5,401.34 L658.2,401.03 L658.9,400.96 L659.6,401.1 L660.3,400.51 L661,400.3 L661.7,400.12 L662.4,399.6 L663.1,399.34 L663.8,399.15 L664.5,399.91 L665.2,399.48 L665.9,399.5 L666.6,399.21 L667.3,400.15 L667.3,402.18 L666.6,401.99 L665.9,402.05 L665.2,402.24 L664.5,402.24 L663.8,401.67 L663.1,402.72 L662.4,402.37 L661.7,403.12 L661,402.86 L660.3,402.51 L659.6,403.17 L658.9,402.64 L658.2,404 L657.5,403.39 L656.8,403.56 L656.1,404.05 L655.4,403.25 L654.7,402.98 L654,403.6 L653.3,403.88 L652.6,404.23 L651.9,403.58 L651.2,404.58 L650.5,404.77 L649.8,403.98 L649.1,404.98 L648.4,404.93 L647.7,404.23 L647,403.89 L646.3,403.78 L645.6,404.08 L644.9,404.45 L644.2,404.63 L643.5,404.59 L642.8,404.58 L642.1,404.72 L641.4,404.49 L640.7,404.11 L640,405.46 L639.3,404.59 L638.6,405.44 L637.9,404.58 L637.2,405.3 L636.5,405.26 L635.8,405.31 L635.1,405.01 L634.4,405.15 L633.7,405.02 L633,404.73 L632.3,404.39 L631.6,403.77 L630.9,403.65 L630.2,403.6 L629.5,403.55 L628.8,404.02 L628.1,404.21 L627.4,403.1 L626.7,403.71 L626,403.22 L625.3,404.22 L624.6,403.63 L623.9,404.35 L623.2,405.12 L622.5,404.6 L621.8,404.1 L621.1,404.05 L620.4,404.49 L619.7,404.52 L619,404.01 L618.3,404.06 L617.6,404.02 L616.9,405.04 L616.2,404.32 L615.5,404.06 L614.8,404.58 L614.1,403.95 L613.4,403.95 L612.7,405.14 L612,404.03 L611.3,403.66 L610.6,403.8 L609.9,403.85 L609.2,404.74 L608.5,404.27 L607.8,404.88 L607.1,405.28 L606.4,405.22 L605.7,405.42 L605,404.13 L604.3,404.1 L603.6,404.54 L602.9,405.21 L602.2,405.15 L601.5,404.28 L600.8,404.86 L600.1,403.97 L599.4,404.6 L598.7,404.51 L598,405.1 L597.3,403.71 L596.6,404.69 L595.9,404.34 L595.2,403.56 L594.5,403.56 L593.8,403.76 L593.1,403.33 L592.4,403.88 L591.7,402.63 L591,402.46 L590.3,402.24 L589.6,401.9 L588.9,402.49 L588.2,402.41 L587.5,402.59 L586.8,401.48 L586.1,400.91 L585.4,401.96 L584.7,400.56 L584,400.82 L583.3,400.54 L582.6,400.95 L581.9,400.81 L581.2,400.46 L580.5,399.05 L579.8,399.82 L579.1,398.56 L578.4,397.84 L577.7,397.93 L577,396.76 L576.3,396.14 L575.6,394.76 L574.9,394.58 L574.2,393.24 L573.5,392.27 L572.8,391.94 L572.1,389.76 L571.4,389.1 L570.7,387.26 L570,385.8 L569.3,384.41 L568.6,383.17 L567.9,381.89 L567.2,380.17 L566.5,378.49 L565.8,377.17 L565.1,374.22 L564.4,373.32 L563.7,370.97 L563,368.98 L562.3,366.57 L561.6,364.55 L560.9,363.47 L560.2,365.53 L559.5,366.89 L558.8,369.43 L558.1,372.9 L557.4,376.07 L556.7,380.23 L556,381.52 L555.3,383.63 L554.6,385.32 L553.9,386.15 L553.2,387.35 L552.5,388.12 L551.8,387.68 L551.1,389.69 L550.4,390.51 L549.7,390.63 L549,391.06 L548.3,392.79 L547.6,392.81 L546.9,393.54 L546.2,394.36 L545.5,395.88 L544.8,395.28 L544.1,395.82 L543.4,396.96 L542.7,396.53 L542,396.65 L541.3,396.27 L540.6,397.04 L539.9,397.24 L539.2,397.16 L538.5,396.84 L537.8,397.22 L537.1,397.09 L536.4,396.99 L535.7,397.69 L535,397.02 L534.3,396.9 L533.6,397.66 L532.9,397.24 L532.2,397.8 L531.5,397.74 L530.8,397.79 L530.1,397.24 L529.4,397.56 L528.7,397.71 L528,397.25 L527.3,397.03 L526.6,396.95 L525.9,396.37 L525.2,397.34 L524.5,397.17 L523.8,396.63 L523.1,396.37 L522.4,396.13 L521.7,395.99 L521,395.05 L520.3,395.12 L519.6,395.3 L518.9,395.08 L518.2,393.75 L517.5,394.17 L516.8,393.46 L516.1,392.68 L515.4,392.21 L514.7,391.56 L514,391.99 L513.3,388.74 L512.6,388.7 L511.9,387.6 L511.2,385.4 L510.5,385.88 L509.8,385 L509.1,384.98 L508.4,384.23 L507.7,384.65 L507,385.47 L506.3,385.45 L505.6,388.35 L504.9,385.83 L504.2,386.92 L503.5,386.92 L502.8,388.01 L502.1,388.21 L501.4,388.39 L500.7,388.94 L500,388.69 L499.3,388.46 L498.6,388.94 L497.9,390.05 L497.2,390.67 L496.5,389.96 L495.8,391.15 L495.1,391.32 L494.4,391.99 L493.7,391.63 L493,392.81 L492.3,393.36 L491.6,393.33 L490.9,393.56 L490.2,394.54 L489.5,394.6 L488.8,396.08 L488.1,395.45 L487.4,396.39 L486.7,397.33 L486,397.54 L485.3,398.31 L484.6,397.5 L483.9,398 L483.2,398.13 L482.5,398.76 L481.8,399.16 L481.1,399.08 L480.4,399.78 L479.7,399.65 L479,400.23 L478.3,399.65 L477.6,400.02 L476.9,401.32 L476.2,400.47 L475.5,401.54 L474.8,401.83 L474.1,401.74 L473.4,401.9 L472.7,401.98 L472,402.21 L471.3,401.74 L470.6,402.69 L469.9,402.34 L469.2,401.37 L468.5,401.38 L467.8,401.35 L467.1,400.86 L466.4,401.31 L465.7,401.68 L465,401.54 L464.3,400.51 L463.6,400.83 L462.9,401.74 L462.2,401.07 L461.5,401.71 L460.8,402 L460.1,401.79 L459.4,401.78 L458.7,402.52 L458,402.7 L457.3,402.29 L456.6,402.71 L455.9,401.94 L455.2,401.89 L454.5,402.4 L453.8,403.13 L453.1,403 L452.4,401.93 L451.7,402.02 L451,402.24 L450.3,402.08 L449.6,402.58 L448.9,401.99 L448.2,402.42 L447.5,402.55 L446.8,402.09 L446.1,401.98 L445.4,401.87 L444.7,401.63 L444,403.07 L443.3,402.73 L442.6,402.66 L441.9,402.73 L441.2,403.49 L440.5,402.32 L439.8,403.26 L439.1,402.2 L438.4,402.55 L437.7,403.2 L437,402.81 L436.3,402.69 L435.6,402.56 L434.9,403.87 L434.2,403.22 L433.5,403.79 L432.8,403.95 L432.1,403.48 L431.4,403.06 L430.7,403.13 L430,402.94 L429.3,402.65 L428.6,403.65 L427.9,402.39 L427.2,402.97 L426.5,402.84 L425.8,403.31 L425.1,402.98 L424.4,402.76 L423.7,403.41 L423,403.47 L422.3,403.8 L421.6,403.45 L420.9,403.88 L420.2,403.27 L419.5,403.67 L418.8,403.09 L418.1,403.4 L417.4,403.15 L416.7,402.19 L416,402.3 L415.3,402.96 L414.6,402.31 L413.9,403.18 L413.2,403.49 L412.5,403.08 L411.8,402.59 L411.1,403.1 L410.4,403.36 L409.7,403.59 L409,404.2 L408.3,404.19 L407.6,403.73Z" fill="#f37272" stroke="#f37272" stroke-width="0.5" stroke-linejoin="round"/>
<path d="M407.6,422.5 L408.3,423.05 L409,422.41 L409.7,421.91 L410.4,422.84 L411.1,421.12 L411.8,421.54 L412.5,421.93 L413.2,421.1 L413.9,420.62 L414.6,420.41 L415.3,420.49 L416,422.41 L416.7,421.47 L417.4,421.83 L418.1,422.07 L418.8,423 L419.5,422.39 L420.2,420.97 L420.9,422.06 L421.6,421.94 L422.3,422.72 L423,421.97 L423.7,421.55 L424.4,422.32 L425.1,422.89 L425.8,422.42 L426.5,422.31 L427.2,421.52 L427.9,421.61 L428.6,420.68 L429.3,420.85 L430,421.06 L430.7,420.56 L431.4,419.98 L432.1,421.33 L432.8,421.93 L433.5,421.02 L434.2,421.05 L434.9,421.21 L435.6,421.91 L436.3,422.52 L437,422.21 L437.7,421.28 L438.4,422.42 L439.1,421.48 L439.8,422.6 L440.5,422.82 L441.2,422.59 L441.9,421.97 L442.6,421.99 L443.3,423.12 L444,422.98 L444.7,423.32 L445.4,421.77 L446.1,422.59 L446.8,422.53 L447.5,423.27 L448.2,422.24 L448.9,423.34 L449.6,421.89 L450.3,421.88 L451,422.17 L451.7,422.26 L452.4,422.4 L453.1,421.96 L453.8,422.38 L454.5,422.35 L455.2,421.55 L455.9,421.97 L456.6,423.15 L457.3,423.19 L458,422.59 L458.7,422.93 L459.4,422.25 L460.1,422.82 L460.8,422.56 L461.5,422.03 L462.2,422.28 L462.9,422.03 L463.6,422.33 L464.3,423.34 L465,421.84 L465.7,422.97 L466.4,422.32 L467.1,422.08 L467.8,422.16 L468.5,423.56 L469.2,423.23 L469.9,422.64 L470.6,423.39 L471.3,422.08 L472,422.38 L472.7,422.7 L473.4,421.66 L474.1,421.62 L474.8,421.59 L475.5,419.94 L476.2,420.72 L476.9,420.16 L477.6,419.09 L478.3,418.43 L479,418.9 L479.7,418.44 L480.4,417.83 L481.1,416.08 L481.8,415 L482.5,414.23 L483.2,414.45 L483.9,413.38 L484.6,414.75 L485.3,414.32 L486,412.5 L486.7,412.93 L487.4,412.86 L488.1,411.12 L488.8,410.28 L489.5,409.06 L490.2,407.74 L490.9,407.03 L491.6,406.56 L492.3,404.87 L493,402.6 L493.7,402.02 L494.4,401.47 L495.1,401.56 L495.8,402.32 L496.5,401.59 L497.2,403.57 L497.9,403.89 L498.6,405.91 L499.3,407.08 L500,406.16 L500.7,406.98 L501.4,406.68 L502.1,406.58 L502.8,407.21 L503.5,407.95 L504.2,404.65 L504.9,407.4 L505.6,406.47 L506.3,407.22 L507,406.12 L507.7,405.84 L508.4,406.89 L509.1,407.14 L509.8,407.77 L510.5,406.68 L511.2,408.13 L511.9,407.92 L512.6,408.29 L513.3,409.05 L514,408.42 L514.7,410.51 L515.4,409.24 L516.1,410 L516.8,411.22 L517.5,411.19 L518.2,411.01 L518.9,411.85 L519.6,413.07 L520.3,413.59 L521,413.63 L521.7,414.64 L522.4,413.43 L523.1,414.26 L523.8,414.35 L524.5,413.9 L525.2,414.79 L525.9,414.45 L526.6,416.08 L527.3,416.87 L528,417.4 L528.7,415.86 L529.4,415.99 L530.1,416 L530.8,416.69 L531.5,416.28 L532.2,416.07 L532.9,416.59 L533.6,416.77 L534.3,417.64 L535,418.08 L535.7,417.01 L536.4,418.21 L537.1,417.82 L537.8,416.85 L538.5,417.83 L539.2,418.25 L539.9,417.07 L540.6,417.8 L541.3,418.34 L542,416.49 L542.7,416.59 L543.4,415.93 L544.1,415.66 L544.8,415.64 L545.5,415.09 L546.2,414.64 L546.9,412.75 L547.6,413.34 L548.3,411.37 L549,411.29 L549.7,411.41 L550.4,409.23 L551.1,409.93 L551.8,408.04 L552.5,406.68 L553.2,406.24 L553.9,406.1 L554.6,404.89 L555.3,403.9 L556,402.34 L556.7,400.7 L557.4,399.17 L558.1,397.57 L558.8,395.64 L559.5,392.27 L560.2,390.25 L560.9,387.62 L561.6,385.88 L562.3,384.8 L563,384.6 L563.7,386.95 L564.4,388.73 L565.1,390.59 L565.8,394.27 L566.5,395 L567.2,397.5 L567.9,399.08 L568.6,400.2 L569.3,402.14 L570,403.82 L570.7,404.57 L571.4,406.46 L572.1,407.32 L572.8,408.24 L573.5,410.88 L574.2,410.8 L574.9,413.33 L575.6,412.89 L576.3,414.45 L577,415.98 L577.7,415.58 L578.4,416.05 L579.1,416.32 L579.8,416.8 L580.5,416.9 L581.2,417.46 L581.9,418.54 L582.6,417.72 L583.3,417.78 L584,418.99 L584.7,419.07 L585.4,419.47 L586.1,419.15 L586.8,419.79 L587.5,420.05 L588.2,420.82 L588.9,420.3 L589.6,420.08 L590.3,421.4 L591,421.28 L591.7,421.16 L592.4,421.03 L593.1,420.27 L593.8,421.26 L594.5,420.64 L595.2,420.5 L595.9,420.9 L596.6,420.7 L597.3,422.4 L598,422.17 L598.7,422.25 L599.4,421.94 L600.1,422.83 L600.8,422.64 L601.5,422.98 L602.2,421.93 L602.9,422.61 L603.6,421.59 L604.3,421.33 L605,422.43 L605.7,421.97 L606.4,422.04 L607.1,422.81 L607.8,419.91 L608.5,422.53 L609.2,422.03 L609.9,421.38 L610.6,421.87 L611.3,421.48 L612,421.71 L612.7,422.04 L613.4,422.3 L614.1,421.33 L614.8,421.42 L615.5,421.07 L616.2,422.1 L616.9,422.15 L617.6,422.6 L618.3,423.1 L619,422.48 L619.7,421.87 L620.4,421.44 L621.1,421.93 L621.8,421.31 L622.5,421.74 L623.2,422.53 L623.9,421.97 L624.6,421.22 L625.3,422.35 L626,421.97 L626.7,422.02 L627.4,422.66 L628.1,423.04 L628.8,422.26 L629.5,422.1 L630.2,422.71 L630.9,422.09 L631.6,421.3 L632.3,422.03 L633,421.93 L633.7,422.21 L634.4,421.46 L635.1,420.44 L635.8,421.09 L636.5,421.45 L637.2,420.49 L637.9,419.42 L638.6,421.5 L639.3,422 L640,421.8 L640.7,421.15 L641.4,422.71 L642.1,422.79 L642.8,421.93 L643.5,421.62 L644.2,423.01 L644.9,422.16 L645.6,422.93 L646.3,422.84 L647,422.12 L647.7,422.08 L648.4,421.57 L649.1,421.73 L649.8,421.79 L650.5,423.2 L651.2,423.43 L651.9,422.35 L652.6,421.79 L653.3,421.86 L654,423.1 L654.7,422.97 L655.4,422.89 L656.1,422.55 L656.8,421.94 L657.5,422.36 L658.2,422.53 L658.9,422.67 L659.6,422.24 L660.3,422.49 L661,423.1 L661.7,423.99 L662.4,423.59 L663.1,423.12 L663.8,424.41 L664.5,422.49 L665.2,422.98 L665.9,422.62 L666.6,422.51 L667.3,422.15 L667.3,426.69 L666.6,426.3 L665.9,426.38 L665.2,425.83 L664.5,426.76 L663.8,426.68 L663.1,426.98 L662.4,427.7 L661.7,426.17 L661,425.92 L660.3,427 L659.6,425.32 L658.9,425.24 L658.2,425.32 L657.5,425.53 L656.8,426.12 L656.1,425.78 L655.4,426.3 L654.7,425.44 L654,425.28 L653.3,425.38 L652.6,426.13 L651.9,426.64 L651.2,426.04 L650.5,426.2 L649.8,424.94 L649.1,425.5 L648.4,424.85 L647.7,425.06 L647,425.27 L646.3,425.42 L645.6,425.5 L644.9,426.43 L644.2,426.22 L643.5,425.32 L642.8,424.84 L642.1,428.95 L641.4,425.39 L640.7,425.69 L640,424.38 L639.3,424.46 L638.6,423.67 L637.9,424.74 L637.2,424.24 L636.5,423.87 L635.8,424.79 L635.1,424.36 L634.4,425.56 L633.7,424.95 L633,425.05 L632.3,425.23 L631.6,425.85 L630.9,425.21 L630.2,425.01 L629.5,425.74 L628.8,424.74 L628.1,425.12 L627.4,425.4 L626.7,425.71 L626,426 L625.3,425 L624.6,425.91 L623.9,424.71 L623.2,424.48 L622.5,424.97 L621.8,424.14 L621.1,425.08 L620.4,425.71 L619.7,425.63 L619,425.09 L618.3,425.58 L617.6,425.19 L616.9,425.89 L616.2,425.12 L615.5,425.87 L614.8,425.7 L614.1,424.26 L613.4,425.02 L612.7,425.67 L612,424.33 L611.3,425.72 L610.6,425.64 L609.9,424.88 L609.2,425.52 L608.5,426.11 L607.8,426.14 L607.1,426.1 L606.4,425.7 L605.7,424.75 L605,425.84 L604.3,426.11 L603.6,425.14 L602.9,425.16 L602.2,427.41 L601.5,427.42 L600.8,426.08 L600.1,425.71 L599.4,425.32 L598.7,425.02 L598,425.8 L597.3,424.18 L596.6,424.1 L595.9,425.13 L595.2,424.02 L594.5,424.28 L593.8,424.65 L593.1,426.69 L592.4,423.74 L591.7,423.76 L591,424.34 L590.3,424.42 L589.6,424.33 L588.9,424.91 L588.2,424.13 L587.5,423.09 L586.8,423.93 L586.1,422.65 L585.4,421.81 L584.7,422.45 L584,421.86 L583.3,422.57 L582.6,420.93 L581.9,422.04 L581.2,422.18 L580.5,421.33 L579.8,420.25 L579.1,420.27 L578.4,420.32 L577.7,418.36 L577,418.48 L576.3,417.86 L575.6,416.29 L574.9,415.72 L574.2,414.1 L573.5,414.15 L572.8,411.84 L572.1,411.24 L571.4,409.01 L570.7,408.48 L570,405.4 L569.3,405.66 L568.6,403.7 L567.9,401.38 L567.2,399.67 L566.5,398.07 L565.8,396.86 L565.1,393.98 L564.4,392.15 L563.7,390.23 L563,388.2 L562.3,389.01 L561.6,389.91 L560.9,390.84 L560.2,393.75 L559.5,396.35 L558.8,398.86 L558.1,400.26 L557.4,403.44 L556.7,404.28 L556,404.66 L555.3,406.62 L554.6,407.66 L553.9,408.94 L553.2,408.77 L552.5,410.26 L551.8,412.28 L551.1,412.78 L550.4,412.51 L549.7,414.72 L549,414.43 L548.3,414.75 L547.6,415.35 L546.9,416.13 L546.2,416.68 L545.5,418.18 L544.8,419.24 L544.1,418.9 L543.4,420.36 L542.7,419.93 L542,421.14 L541.3,420.57 L540.6,420.27 L539.9,421.83 L539.2,421.56 L538.5,421.22 L537.8,421.11 L537.1,420.06 L536.4,420.77 L535.7,420.11 L535,420.25 L534.3,419.83 L533.6,420.93 L532.9,420.47 L532.2,419.36 L531.5,419.57 L530.8,420.01 L530.1,420.39 L529.4,419.21 L528.7,419.12 L528,420.14 L527.3,419.19 L526.6,418.29 L525.9,418.62 L525.2,417.52 L524.5,417.9 L523.8,416.9 L523.1,416.9 L522.4,417.79 L521.7,417.34 L521,417.74 L520.3,416.54 L519.6,416.19 L518.9,414.85 L518.2,414.39 L517.5,413.83 L516.8,413.15 L516.1,413.3 L515.4,413.18 L514.7,412.68 L514,412.6 L513.3,412.25 L512.6,410.79 L511.9,411.67 L511.2,410.98 L510.5,410.65 L509.8,410.4 L509.1,410.23 L508.4,410.17 L507.7,410.82 L507,410.41 L506.3,409.34 L505.6,409.68 L504.9,410.03 L504.2,410.63 L503.5,411.21 L502.8,410.84 L502.1,411.22 L501.4,410.77 L500.7,411.25 L500,411.01 L499.3,408.95 L498.6,409.51 L497.9,407.58 L497.2,406.96 L496.5,405.19 L495.8,404.02 L495.1,404.72 L494.4,404.7 L493.7,405.49 L493,407.24 L492.3,408.2 L491.6,408.53 L490.9,411.13 L490.2,411 L489.5,412.77 L488.8,414.58 L488.1,415.4 L487.4,416.08 L486.7,415.72 L486,416.97 L485.3,416.88 L484.6,416.34 L483.9,417.31 L483.2,417.08 L482.5,418.11 L481.8,419.83 L481.1,420.52 L480.4,419.85 L479.7,420.36 L479,421.35 L478.3,422.56 L477.6,423.18 L476.9,422.32 L476.2,423.88 L475.5,423.95 L474.8,423.37 L474.1,425.41 L473.4,425.45 L472.7,425.49 L472,426.51 L471.3,426.07 L470.6,426.47 L469.9,427.03 L469.2,425.59 L468.5,427.17 L467.8,426.83 L467.1,425.57 L466.4,425.78 L465.7,426.17 L465,426.52 L464.3,426.2 L463.6,425.9 L462.9,425.7 L462.2,426.43 L461.5,426.24 L460.8,426.01 L460.1,426.58 L459.4,425.42 L458.7,426.73 L458,426.51 L457.3,426.35 L456.6,425.94 L455.9,425.39 L455.2,426.11 L454.5,426.06 L453.8,424.9 L453.1,426.05 L452.4,425.98 L451.7,426.11 L451,426.38 L450.3,426.1 L449.6,426.81 L448.9,426.66 L448.2,425.69 L447.5,425.61 L446.8,426.69 L446.1,426.48 L445.4,425.55 L444.7,426.05 L444,425.26 L443.3,425.17 L442.6,425.25 L441.9,426.31 L441.2,426.39 L440.5,426.17 L439.8,424.73 L439.1,424.57 L438.4,425.76 L437.7,426.06 L437,425.85 L436.3,425.36 L435.6,424.84 L434.9,425.02 L434.2,423.97 L433.5,425.36 L432.8,423.82 L432.1,423.73 L431.4,423.87 L430.7,424.05 L430,424.53 L429.3,424.89 L428.6,425.36 L427.9,424.75 L427.2,425.3 L426.5,425.47 L425.8,424.97 L425.1,425.04 L424.4,424.88 L423.7,425.99 L423,426.11 L422.3,425.87 L421.6,426.08 L420.9,425.8 L420.2,425.54 L419.5,425.22 L418.8,425.24 L418.1,426 L417.4,425.28 L416.7,425.75 L416,424.55 L415.3,425.14 L414.6,424.11 L413.9,423.43 L413.2,424.89 L412.5,424.82 L411.8,423.92 L411.1,424.7 L410.4,425.74 L409.7,425.47 L409,426.59 L408.3,426.92 L407.6,426.79Z" fill="#f06262" stroke="#f06262" stroke-width="0.5" stroke-linejoin="round"/>
<path d="M407.6,447.72 L408.3,447.41 L409,447.78 L409.7,447.48 L410.4,447.13 L411.1,447.16 L411.8,447.43 L412.5,446.03 L413.2,445.53 L413.9,445.59 L414.6,445.57 L415.3,445.25 L416,446.5 L416.7,445.7 L417.4,445.63 L418.1,444.61 L418.8,445.99 L419.5,444.65 L420.2,443.87 L420.9,443.4 L421.6,443.93 L422.3,442.88 L423,443.76 L423.7,444.2 L424.4,443.09 L425.1,442.61 L425.8,442.59 L426.5,442.75 L427.2,443.8 L427.9,443.36 L428.6,444 L429.3,443.85 L430,444.26 L430.7,444.96 L431.4,443.59 L432.1,444.48 L432.8,444.26 L433.5,443.71 L434.2,445.1 L434.9,444.79 L435.6,444.09 L436.3,443.45 L437,443.81 L437.7,444.36 L438.4,444.25 L439.1,440.58 L439.8,443.86 L440.5,443.62 L441.2,443.16 L441.9,444.41 L442.6,443.58 L443.3,444.72 L444,443.83 L444.7,443.53 L445.4,445.29 L446.1,445.15 L446.8,445.02 L447.5,444.44 L448.2,444.51 L448.9,444.95 L449.6,443.64 L450.3,444.32 L451,443.91 L451.7,443.49 L452.4,444.46 L453.1,444.41 L453.8,444.36 L454.5,444.06 L455.2,445.21 L455.9,443.96 L456.6,443.42 L457.3,444.55 L458,443.17 L458.7,444.25 L459.4,443.11 L460.1,443.97 L460.8,442.68 L461.5,443.09 L462.2,443.84 L462.9,444.25 L463.6,444.55 L464.3,444.61 L465,442.82 L465.7,442.2 L466.4,444.25 L467.1,443.2 L467.8,439.44 L468.5,443.82 L469.2,443.56 L469.9,443.57 L470.6,443.07 L471.3,442.54 L472,442.29 L472.7,442.25 L473.4,440.84 L474.1,442.42 L474.8,441.73 L475.5,439.96 L476.2,441.18 L476.9,440.97 L477.6,440.15 L478.3,439.65 L479,438.89 L479.7,439.41 L480.4,439.81 L481.1,438.82 L481.8,439.08 L482.5,436.39 L483.2,437.09 L483.9,434.55 L484.6,433.71 L485.3,434.41 L486,433.74 L486.7,432.66 L487.4,431.42 L488.1,430.76 L488.8,430.66 L489.5,429.18 L490.2,428.8 L490.9,428.64 L491.6,427.14 L492.3,427.19 L493,425.95 L493.7,425.39 L494.4,426.14 L495.1,425.09 L495.8,424.18 L496.5,425.5 L497.2,425.31 L497.9,426.2 L498.6,425.56 L499.3,427.27 L500,426.96 L500.7,429.05 L501.4,428.09 L502.1,428.43 L502.8,429.38 L503.5,429.03 L504.2,427.59 L504.9,428.53 L505.6,428.28 L506.3,427.28 L507,426.45 L507.7,427.57 L508.4,427.17 L509.1,426.51 L509.8,427.06 L510.5,425.99 L511.2,426.38 L511.9,426.32 L512.6,428.2 L513.3,427.31 L514,426.71 L514.7,429.3 L515.4,428.45 L516.1,430.36 L516.8,430.46 L517.5,429.72 L518.2,427.33 L518.9,431.15 L519.6,431.73 L520.3,431.88 L521,432.37 L521.7,434.29 L522.4,433.7 L523.1,434.49 L523.8,436.52 L524.5,436.53 L525.2,436.26 L525.9,436.88 L526.6,437.52 L527.3,437.51 L528,437.4 L528.7,437.73 L529.4,438.21 L530.1,437.67 L530.8,438.32 L531.5,438.96 L532.2,438.02 L532.9,438.24 L533.6,438.32 L534.3,439.03 L535,439.36 L535.7,438.7 L536.4,439.3 L537.1,438.83 L537.8,438.62 L538.5,438.16 L539.2,438.72 L539.9,439.5 L540.6,439.41 L541.3,440.07 L542,438.77 L542.7,437.98 L543.4,437.73 L544.1,436.7 L544.8,437.13 L545.5,435.93 L546.2,434.91 L546.9,434.64 L547.6,433.86 L548.3,434.32 L549,432.45 L549.7,432.53 L550.4,431.73 L551.1,430.31 L551.8,429.86 L552.5,428.34 L553.2,426.55 L553.9,425.46 L554.6,425.24 L555.3,425.03 L556,422.44 L556.7,422.25 L557.4,422.34 L558.1,419.85 L558.8,416.76 L559.5,414.77 L560.2,413.6 L560.9,412.45 L561.6,411.46 L562.3,412.56 L563,413.76 L563.7,415.13 L564.4,417.77 L565.1,418.26 L565.8,419.62 L566.5,421.74 L567.2,423.17 L567.9,425.51 L568.6,427.28 L569.3,428.57 L570,429.77 L570.7,429.95 L571.4,431.15 L572.1,433.68 L572.8,434.09 L573.5,435.06 L574.2,436.44 L574.9,438.5 L575.6,437.47 L576.3,438.16 L577,439.64 L577.7,439.67 L578.4,438.75 L579.1,440.35 L579.8,439.56 L580.5,439.85 L581.2,441.22 L581.9,441.12 L582.6,440.61 L583.3,440.07 L584,440.97 L584.7,441.59 L585.4,441.45 L586.1,442.12 L586.8,442.4 L587.5,441.66 L588.2,442.64 L588.9,442.72 L589.6,443.32 L590.3,443.44 L591,442.7 L591.7,443.3 L592.4,442.27 L593.1,443.41 L593.8,443.24 L594.5,443.81 L595.2,442.7 L595.9,444.64 L596.6,444.27 L597.3,443.85 L598,445.26 L598.7,444.28 L599.4,445.41 L600.1,445.74 L600.8,444.77 L601.5,445.05 L602.2,445.08 L602.9,445.19 L603.6,443.58 L604.3,444.2 L605,445.19 L605.7,444.74 L606.4,444.77 L607.1,445.6 L607.8,445.2 L608.5,444.92 L609.2,444.86 L609.9,445.05 L610.6,445.9 L611.3,444.53 L612,444.68 L612.7,443.9 L613.4,443.98 L614.1,443.72 L614.8,444.97 L615.5,443.67 L616.2,444.55 L616.9,444.37 L617.6,444.46 L618.3,444.14 L619,443.9 L619.7,444.39 L620.4,443.94 L621.1,445.02 L621.8,443.81 L622.5,443.91 L623.2,444.77 L623.9,443.88 L624.6,443.15 L625.3,443.97 L626,445 L626.7,443.97 L627.4,444.74 L628.1,444.43 L628.8,443.59 L629.5,445.18 L630.2,444.3 L630.9,443.49 L631.6,443.4 L632.3,443.5 L633,443.69 L633.7,443.13 L634.4,443.84 L635.1,445.04 L635.8,443.21 L636.5,444.65 L637.2,444.2 L637.9,443.56 L638.6,444.84 L639.3,444.87 L640,444.14 L640.7,445.12 L641.4,444.29 L642.1,443.6 L642.8,443.3 L643.5,444.17 L644.2,444.61 L644.9,444.62 L645.6,444.01 L646.3,444.41 L647,444.1 L647.7,443.64 L648.4,444.97 L649.1,444.31 L649.8,443.4 L650.5,443.12 L651.2,444.54 L651.9,441.52 L652.6,444.9 L653.3,445.19 L654,445.19 L654.7,443.97 L655.4,444.49 L656.1,444.79 L656.8,445.95 L657.5,444.19 L658.2,445.16 L658.9,445.34 L659.6,444.94 L660.3,445.39 L661,444.25 L661.7,444.88 L662.4,445.24 L663.1,443.69 L663.8,443.92 L664.5,443.99 L665.2,444.77 L665.9,444.72 L666.6,444.15 L667.3,444.32 L667.3,447.47 L666.6,447.33 L665.9,449.01 L665.2,447.65 L664.5,448.75 L663.8,448.38 L663.1,447.93 L662.4,448.72 L661.7,448.21 L661,449.06 L660.3,447.92 L659.6,449.38 L658.9,448.44 L658.2,447.9 L657.5,448.48 L656.8,448.37 L656.1,448.58 L655.4,448.06 L654.7,449.04 L654,447.83 L653.3,448.78 L652.6,448.95 L651.9,448.69 L651.2,446.97 L650.5,448.08 L649.8,446.94 L649.1,447.21 L648.4,447.41 L647.7,448.44 L647,446.71 L646.3,447.77 L645.6,448.43 L644.9,447.33 L644.2,447.2 L643.5,446.84 L642.8,446.82 L642.1,448.47 L641.4,447.82 L640.7,447.37 L640,450.51 L639.3,447.63 L638.6,448.93 L637.9,448.35 L637.2,448.64 L636.5,447.14 L635.8,448.59 L635.1,448.44 L634.4,447.79 L633.7,447.87 L633,448.36 L632.3,447.35 L631.6,447.23 L630.9,448.54 L630.2,448.11 L629.5,448.93 L628.8,448.06 L628.1,448.79 L627.4,447.72 L626.7,448.2 L626,447.25 L625.3,447.7 L624.6,448.64 L623.9,447.95 L623.2,447.73 L622.5,448.48 L621.8,448.26 L621.1,447.26 L620.4,448.4 L619.7,447.04 L619,447.79 L618.3,448.34 L617.6,446.88 L616.9,448.71 L616.2,448.53 L615.5,447.62 L614.8,448.57 L614.1,447.28 L613.4,448.11 L612.7,448.9 L612,449.4 L611.3,448.49 L610.6,449.79 L609.9,448.55 L609.2,449.41 L608.5,448.84 L607.8,449.15 L607.1,448.59 L606.4,449.17 L605.7,449.06 L605,448.04 L604.3,448.88 L603.6,447.63 L602.9,448.08 L602.2,448.29 L601.5,448.28 L600.8,448.45 L600.1,447.88 L599.4,449.11 L598.7,448.94 L598,447.42 L597.3,448.98 L596.6,448.37 L595.9,448.07 L595.2,446.81 L594.5,446.14 L593.8,447.84 L593.1,446.98 L592.4,446.79 L591.7,447.08 L591,445.6 L590.3,446.48 L589.6,446.91 L588.9,445.35 L588.2,444.9 L587.5,446.51 L586.8,444.43 L586.1,444.19 L585.4,444.06 L584.7,444.22 L584,444.82 L583.3,443.89 L582.6,444.05 L581.9,443.92 L581.2,445.31 L580.5,445.37 L579.8,443.25 L579.1,444.32 L578.4,444 L577.7,443.5 L577,443.29 L576.3,442.7 L575.6,441.59 L574.9,440.69 L574.2,441.42 L573.5,439.63 L572.8,438.9 L572.1,437.97 L571.4,435.25 L570.7,434.87 L570,432.08 L569.3,430.98 L568.6,430.78 L567.9,428.33 L567.2,427.92 L566.5,425.38 L565.8,423.31 L565.1,425.89 L564.4,420.44 L563.7,420.11 L563,416.99 L562.3,416.78 L561.6,416.38 L560.9,416.24 L560.2,417.02 L559.5,420.07 L558.8,421.65 L558.1,422.82 L557.4,425.72 L556.7,426.45 L556,426.81 L555.3,428.12 L554.6,428.38 L553.9,430.01 L553.2,431.58 L552.5,431.53 L551.8,433.53 L551.1,434.86 L550.4,434.04 L549.7,436.05 L549,437.25 L548.3,438.27 L547.6,438.82 L546.9,438.39 L546.2,438.79 L545.5,439.4 L544.8,439.95 L544.1,441.77 L543.4,441.34 L542.7,441.47 L542,442.16 L541.3,443.35 L540.6,443.19 L539.9,442.86 L539.2,444.04 L538.5,443.54 L537.8,443.08 L537.1,443.03 L536.4,441.64 L535.7,441.85 L535,441.71 L534.3,443.4 L533.6,442.2 L532.9,442.66 L532.2,441.24 L531.5,442.91 L530.8,441.11 L530.1,443.1 L529.4,441.51 L528.7,441.29 L528,441.36 L527.3,441.7 L526.6,441.67 L525.9,440.41 L525.2,440.39 L524.5,440.68 L523.8,439.01 L523.1,439.31 L522.4,437.9 L521.7,436.46 L521,436.48 L520.3,434.79 L519.6,435.15 L518.9,434.74 L518.2,434.86 L517.5,433.08 L516.8,433.55 L516.1,433.03 L515.4,432.87 L514.7,432.48 L514,432.56 L513.3,431.9 L512.6,430.83 L511.9,430.42 L511.2,430.41 L510.5,430.09 L509.8,430.1 L509.1,430.18 L508.4,429.81 L507.7,430.36 L507,430.97 L506.3,430.61 L505.6,431.01 L504.9,430.43 L504.2,431.28 L503.5,431.59 L502.8,432.24 L502.1,431.79 L501.4,432.42 L500.7,431.22 L500,432.28 L499.3,430.7 L498.6,429.7 L497.9,428.58 L497.2,428.5 L496.5,427.51 L495.8,428.08 L495.1,429.21 L494.4,429.74 L493.7,429.59 L493,430.43 L492.3,429.9 L491.6,430.41 L490.9,432.43 L490.2,431.86 L489.5,432.23 L488.8,434.47 L488.1,435.07 L487.4,434.96 L486.7,436.09 L486,435.72 L485.3,438.22 L484.6,439.19 L483.9,439.53 L483.2,439.75 L482.5,440.29 L481.8,441.61 L481.1,442.61 L480.4,442.85 L479.7,442.87 L479,442.88 L478.3,443.7 L477.6,443.6 L476.9,445.14 L476.2,444.27 L475.5,444.48 L474.8,445.21 L474.1,445.89 L473.4,445.06 L472.7,446.59 L472,445.22 L471.3,445.85 L470.6,445.82 L469.9,446.42 L469.2,445.81 L468.5,446.99 L467.8,446.2 L467.1,446.93 L466.4,447.74 L465.7,447.76 L465,446.74 L464.3,446.78 L463.6,448.16 L462.9,449.94 L462.2,446.96 L461.5,447.33 L460.8,446.39 L460.1,446.49 L459.4,447.3 L458.7,447.65 L458,447.53 L457.3,447.86 L456.6,447.27 L455.9,448.94 L455.2,447.41 L454.5,449.63 L453.8,449.44 L453.1,448.51 L452.4,447.78 L451.7,448.93 L451,448.67 L450.3,447.41 L449.6,447.58 L448.9,447.4 L448.2,448.83 L447.5,447.8 L446.8,448.44 L446.1,447.13 L445.4,447.57 L444.7,448.21 L444,448.28 L443.3,448.89 L442.6,448.85 L441.9,447.75 L441.2,448.23 L440.5,448.37 L439.8,447.5 L439.1,447.96 L438.4,446.53 L437.7,446.94 L437,447.66 L436.3,448.74 L435.6,448.78 L434.9,447.22 L434.2,448.87 L433.5,447.4 L432.8,447.28 L432.1,447.82 L431.4,448.08 L430.7,446.8 L430,447.3 L429.3,447.52 L428.6,446.77 L427.9,446.96 L427.2,446.09 L426.5,447.69 L425.8,447.61 L425.1,446.32 L424.4,447.22 L423.7,447.8 L423,446.35 L422.3,448.15 L421.6,446.91 L420.9,448.56 L420.2,449.14 L419.5,447.8 L418.8,448.45 L418.1,449.93 L417.4,449.43 L416.7,449.75 L416,449.62 L415.3,450.07 L414.6,449.77 L413.9,450.37 L413.2,450.54 L412.5,451.11 L411.8,451.18 L411.1,450.38 L410.4,450.09 L409.7,450.09 L409,450.9 L408.3,449.9 L407.6,450.23Z" fill="#ee5252" stroke="#ee5252" stroke-width="0.5" stroke-linejoin="round"/>
<path d="M407.6,468.66 L408.3,468.28 L409,469.09 L409.7,467.49 L410.4,467.44 L411.1,466.66 L411.8,463.75 L412.5,466.63 L413.2,466.22 L413.9,465.26 L414.6,465.97 L415.3,467.64 L416,466.65 L416.7,466.49 L417.4,466.32 L418.1,466.83 L418.8,468.45 L419.5,466.84 L420.2,467.17 L420.9,466.26 L421.6,465.72 L422.3,466.68 L423,465.46 L423.7,466.12 L424.4,465.44 L425.1,464.85 L425.8,464.48 L426.5,465.71 L427.2,463.83 L427.9,465.43 L428.6,464.77 L429.3,464.55 L430,464.2 L430.7,462.9 L431.4,462.14 L432.1,462.37 L432.8,462.8 L433.5,460.85 L434.2,462.2 L434.9,461.94 L435.6,461.78 L436.3,461.44 L437,460.17 L437.7,463.18 L438.4,464.45 L439.1,463.98 L439.8,463.29 L440.5,463.47 L441.2,462.8 L441.9,464.02 L442.6,464.61 L443.3,463.03 L444,464.96 L444.7,463.69 L445.4,463.47 L446.1,463.68 L446.8,463.57 L447.5,464 L448.2,464.59 L448.9,465.32 L449.6,466.99 L450.3,467.73 L451,466.9 L451.7,467.12 L452.4,467.16 L453.1,467.36 L453.8,467.21 L454.5,466.59 L455.2,465.87 L455.9,466.27 L456.6,466.02 L457.3,466.77 L458,466.68 L458.7,467.32 L459.4,465.54 L460.1,465.94 L460.8,466.63 L461.5,466.54 L462.2,466.48 L462.9,465.47 L463.6,467.11 L464.3,466.18 L465,466.23 L465.7,467.67 L466.4,467.81 L467.1,467.29 L467.8,467.06 L468.5,467.63 L469.2,468.39 L469.9,467.33 L470.6,466.41 L471.3,467.24 L472,467.23 L472.7,466.15 L473.4,465.93 L474.1,467.23 L474.8,466.92 L475.5,465.63 L476.2,465.4 L476.9,465.81 L477.6,465.77 L478.3,467.2 L479,465.05 L479.7,465.33 L480.4,464.42 L481.1,464.55 L481.8,463.33 L482.5,462.91 L483.2,462.62 L483.9,460.83 L484.6,459.81 L485.3,458.83 L486,459.43 L486.7,458.16 L487.4,456.05 L488.1,456.21 L488.8,453.72 L489.5,451.47 L490.2,449.72 L490.9,449.66 L491.6,446.31 L492.3,445.61 L493,444.94 L493.7,442.89 L494.4,442.9 L495.1,443.17 L495.8,443.23 L496.5,443.97 L497.2,443.42 L497.9,443.54 L498.6,445.04 L499.3,444.77 L500,446.2 L500.7,445.22 L501.4,446.53 L502.1,445.83 L502.8,446.49 L503.5,448.42 L504.2,448.22 L504.9,449.2 L505.6,450.69 L506.3,450.9 L507,451.19 L507.7,452.36 L508.4,451.8 L509.1,451.29 L509.8,452.9 L510.5,451.38 L511.2,452.1 L511.9,452.68 L512.6,453.28 L513.3,451.81 L514,452.24 L514.7,453.44 L515.4,454.8 L516.1,453.98 L516.8,455.22 L517.5,454.53 L518.2,456.9 L518.9,455.44 L519.6,455.62 L520.3,457.13 L521,456.44 L521.7,455.53 L522.4,457.49 L523.1,458.14 L523.8,456.85 L524.5,457.25 L525.2,459.83 L525.9,458.51 L526.6,459.59 L527.3,460.93 L528,460.56 L528.7,460.87 L529.4,461.29 L530.1,460.94 L530.8,461.47 L531.5,462.56 L532.2,460.91 L532.9,462.63 L533.6,461.55 L534.3,463.01 L535,462.79 L535.7,462.01 L536.4,461.42 L537.1,462.27 L537.8,462.14 L538.5,462.67 L539.2,461.93 L539.9,462.07 L540.6,460.91 L541.3,462.28 L542,461.98 L542.7,460.45 L543.4,460.51 L544.1,459.99 L544.8,459.49 L545.5,459.39 L546.2,457.26 L546.9,457.14 L547.6,456.41 L548.3,454.43 L549,454.36 L549.7,451.8 L550.4,451.1 L551.1,450.25 L551.8,448.16 L552.5,448.53 L553.2,447.62 L553.9,444.86 L554.6,444.78 L555.3,444.78 L556,442.6 L556.7,442.08 L557.4,439.37 L558.1,438.12 L558.8,436.48 L559.5,434.57 L560.2,435.62 L560.9,435.55 L561.6,434.88 L562.3,435.77 L563,435.9 L563.7,437.76 L564.4,437.56 L565.1,440.98 L565.8,440.66 L566.5,443.54 L567.2,445.18 L567.9,447.74 L568.6,448.75 L569.3,448.82 L570,452.43 L570.7,453.1 L571.4,454.61 L572.1,455.38 L572.8,456.85 L573.5,456.94 L574.2,458.65 L574.9,460.4 L575.6,459.61 L576.3,461.24 L577,462.32 L577.7,461.78 L578.4,463.61 L579.1,462.65 L579.8,464.65 L580.5,463.81 L581.2,465.24 L581.9,465.78 L582.6,465.01 L583.3,465.67 L584,465.56 L584.7,466.87 L585.4,467.55 L586.1,466.24 L586.8,468.26 L587.5,467.78 L588.2,468.56 L588.9,468.45 L589.6,466.54 L590.3,467.54 L591,466.34 L591.7,467.76 L592.4,467.97 L593.1,467.77 L593.8,468.6 L594.5,466.97 L595.2,468.34 L595.9,467.93 L596.6,469.96 L597.3,469.31 L598,468.67 L598.7,469.51 L599.4,465.88 L600.1,469.46 L600.8,467.8 L601.5,464.54 L602.2,467.03 L602.9,467.86 L603.6,468.57 L604.3,468.06 L605,468.8 L605.7,467.58 L606.4,467.63 L607.1,467.67 L607.8,468.48 L608.5,469.19 L609.2,469.42 L609.9,468.39 L610.6,467.7 L611.3,468.36 L612,469.73 L612.7,468.32 L613.4,468.44 L614.1,469.35 L614.8,468.34 L615.5,467.46 L616.2,467.22 L616.9,467.39 L617.6,466.4 L618.3,466.78 L619,466.94 L619.7,466.68 L620.4,466.8 L621.1,467.51 L621.8,468.74 L622.5,467.57 L623.2,469.55 L623.9,469.85 L624.6,469.93 L625.3,469.63 L626,469.87 L626.7,470.55 L627.4,469.12 L628.1,469.7 L628.8,468.41 L629.5,468.65 L630.2,469.03 L630.9,468.68 L631.6,468.83 L632.3,467.71 L633,468.43 L633.7,468.03 L634.4,467.38 L635.1,468.42 L635.8,467.99 L636.5,467.3 L637.2,469.45 L637.9,469.53 L638.6,469.09 L639.3,467.63 L640,468.11 L640.7,467.28 L641.4,468.48 L642.1,466.44 L642.8,464.99 L643.5,467.49 L644.2,466.07 L644.9,467.05 L645.6,466.67 L646.3,466.7 L647,467.08 L647.7,467.18 L648.4,467.92 L649.1,468.73 L649.8,466.67 L650.5,468.16 L651.2,466.93 L651.9,466.77 L652.6,467.4 L653.3,466.54 L654,467.54 L654.7,467.54 L655.4,467.88 L656.1,467.65 L656.8,468.36 L657.5,467 L658.2,468.8 L658.9,468.56 L659.6,468.7 L660.3,467.83 L661,468.71 L661.7,469.38 L662.4,467.96 L663.1,467.46 L663.8,468.52 L664.5,466.79 L665.2,466.93 L665.9,466.52 L666.6,466.3 L667.3,467.28 L667.3,470.36 L666.6,470.44 L665.9,472.31 L665.2,471.97 L664.5,470.72 L663.8,472.43 L663.1,473.08 L662.4,472.39 L661.7,472.34 L661,472.07 L660.3,472.76 L659.6,472.22 L658.9,472.24 L658.2,473.07 L657.5,473.09 L656.8,472.58 L656.1,471.76 L655.4,471.26 L654.7,471.72 L654,471.32 L653.3,472.04 L652.6,472.76 L651.9,474.48 L651.2,471.86 L650.5,471.23 L649.8,472.61 L649.1,471.21 L648.4,471.44 L647.7,472.6 L647,470.66 L646.3,471.36 L645.6,472.21 L644.9,471.6 L644.2,471.58 L643.5,471 L642.8,471.09 L642.1,472.28 L641.4,472.24 L640.7,471.23 L640,471.42 L639.3,472.94 L638.6,472.28 L637.9,472.55 L637.2,472.95 L636.5,472.03 L635.8,472.45 L635.1,470.84 L634.4,472.08 L633.7,471.09 L633,470.77 L632.3,471.13 L631.6,471.28 L630.9,472.66 L630.2,471.72 L629.5,473.25 L628.8,474.22 L628.1,473.25 L627.4,474.77 L626.7,473.71 L626,473.52 L625.3,474.31 L624.6,473.82 L623.9,473.03 L623.2,473.04 L622.5,472.95 L621.8,473.22 L621.1,472.09 L620.4,472.25 L619.7,470.85 L619,471.98 L618.3,470.4 L617.6,470.95 L616.9,471.42 L616.2,472.31 L615.5,472.07 L614.8,471.9 L614.1,473.61 L613.4,474.13 L612.7,472.51 L612,473.17 L611.3,472.97 L610.6,473.67 L609.9,471.81 L609.2,471.67 L608.5,473.52 L607.8,473.26 L607.1,473.24 L606.4,472.53 L605.7,473.01 L605,472.46 L604.3,471.57 L603.6,472.28 L602.9,471.49 L602.2,472.2 L601.5,472.42 L600.8,472.41 L600.1,472.8 L599.4,473.08 L598.7,473.32 L598,472.9 L597.3,473.22 L596.6,474.2 L595.9,475.83 L595.2,473.29 L594.5,472.43 L593.8,471.05 L593.1,471.89 L592.4,471.35 L591.7,471.6 L591,471.45 L590.3,471.26 L589.6,471.86 L588.9,475.33 L588.2,471.31 L587.5,471.82 L586.8,472.12 L586.1,472.41 L585.4,470.47 L584.7,471.79 L584,471.62 L583.3,471.24 L582.6,470.07 L581.9,469.86 L581.2,469.47 L580.5,468.26 L579.8,467.93 L579.1,466.83 L578.4,467.04 L577.7,466.49 L577,465.52 L576.3,465.27 L575.6,464.66 L574.9,466.11 L574.2,463.63 L573.5,461.42 L572.8,460.03 L572.1,460.24 L571.4,458.89 L570.7,457.63 L570,456.55 L569.3,454.37 L568.6,452.93 L567.9,451.63 L567.2,449.84 L566.5,447.15 L565.8,445.12 L565.1,444.54 L564.4,442.01 L563.7,442.32 L563,440.04 L562.3,441.05 L561.6,438.62 L560.9,439.07 L560.2,438.43 L559.5,438.68 L558.8,441.45 L558.1,441.74 L557.4,443.08 L556.7,445.51 L556,447.59 L555.3,446.96 L554.6,449.05 L553.9,450.79 L553.2,450.63 L552.5,452.33 L551.8,453.68 L551.1,453.46 L550.4,454.27 L549.7,456.38 L549,458.64 L548.3,458.11 L547.6,459.19 L546.9,460.82 L546.2,462.48 L545.5,461.94 L544.8,462.66 L544.1,464 L543.4,465.55 L542.7,465.98 L542,465.13 L541.3,465.82 L540.6,465.35 L539.9,465.36 L539.2,466.07 L538.5,466.38 L537.8,467.51 L537.1,467.39 L536.4,466.64 L535.7,467.45 L535,466.84 L534.3,466.48 L533.6,466.52 L532.9,465.39 L532.2,466.76 L531.5,465.68 L530.8,464.35 L530.1,465.77 L529.4,464.68 L528.7,464.23 L528,464.19 L527.3,463.74 L526.6,463.28 L525.9,464.27 L525.2,461.84 L524.5,462.65 L523.8,462.12 L523.1,461.75 L522.4,459.97 L521.7,459.96 L521,460.6 L520.3,460.33 L519.6,460.57 L518.9,460.01 L518.2,459.86 L517.5,458.75 L516.8,458.78 L516.1,458.07 L515.4,458.09 L514.7,457.13 L514,456.22 L513.3,457.34 L512.6,456.14 L511.9,455.31 L511.2,455.38 L510.5,457.01 L509.8,456.82 L509.1,455.88 L508.4,455.2 L507.7,455.94 L507,456.58 L506.3,455.64 L505.6,454.51 L504.9,452.65 L504.2,453.65 L503.5,451.57 L502.8,450.5 L502.1,449.57 L501.4,449.12 L500.7,448.55 L500,449.83 L499.3,448.72 L498.6,447.35 L497.9,448.24 L497.2,446.72 L496.5,448.24 L495.8,448.2 L495.1,446.56 L494.4,446.73 L493.7,448.2 L493,450.04 L492.3,450.37 L491.6,451.14 L490.9,453.73 L490.2,454.5 L489.5,456.66 L488.8,458.64 L488.1,460.44 L487.4,459.78 L486.7,462.45 L486,462.17 L485.3,464.56 L484.6,465.43 L483.9,465.72 L483.2,465.41 L482.5,468.1 L481.8,467.16 L481.1,468.59 L480.4,470.57 L479.7,468.93 L479,470.73 L478.3,470.99 L477.6,469.28 L476.9,469.99 L476.2,469.43 L475.5,470.62 L474.8,470.66 L474.1,470.85 L473.4,470.79 L472.7,471.41 L472,470.1 L471.3,471.37 L470.6,471.35 L469.9,471.94 L469.2,471.97 L468.5,471.44 L467.8,471.75 L467.1,471.78 L466.4,471.68 L465.7,470.45 L465,469.99 L464.3,470.34 L463.6,470.28 L462.9,470.71 L462.2,471.23 L461.5,470.06 L460.8,474.16 L460.1,470.87 L459.4,471.55 L458.7,471.13 L458,471.68 L457.3,470.92 L456.6,470.27 L455.9,471.79 L455.2,472.06 L454.5,471.03 L453.8,471.22 L453.1,470.21 L452.4,470.94 L451.7,471.25 L451,471.79 L450.3,473.9 L449.6,471.07 L448.9,470.57 L448.2,470.2 L447.5,468.78 L446.8,468.22 L446.1,467.8 L445.4,468.65 L444.7,468.18 L444,467.89 L443.3,466.89 L442.6,467.79 L441.9,469.01 L441.2,468.9 L440.5,468.59 L439.8,468.92 L439.1,468.36 L438.4,467.11 L437.7,466.97 L437,467.53 L436.3,466.89 L435.6,465.63 L434.9,464.81 L434.2,466.78 L433.5,466.44 L432.8,465.48 L432.1,467.43 L431.4,467.75 L430.7,467.8 L430,467.49 L429.3,469.15 L428.6,469.54 L427.9,469.08 L427.2,469.24 L426.5,472.46 L425.8,468.91 L425.1,468.55 L424.4,469.96 L423.7,470.72 L423,469.67 L422.3,470.17 L421.6,470.38 L420.9,471.57 L420.2,470.39 L419.5,472.06 L418.8,470.47 L418.1,471.2 L417.4,471.57 L416.7,470.39 L416,471.59 L415.3,471.73 L414.6,469.97 L413.9,469.48 L413.2,469.19 L412.5,469.47 L411.8,470.31 L411.1,470.73 L410.4,470.21 L409.7,471.05 L409,473.23 L408.3,471.61 L407.6,471.76Z" fill="#eb3f3f" stroke="#eb3f3f" stroke-width="0.5" stroke-linejoin="round"/>
<line x1="495.4" y1="283.5" x2="495.4" y2="482.5" stroke="#000" stroke-width="1.9" stroke-dasharray="6.3,5.0"/>
<line x1="509.1" y1="283.5" x2="509.1" y2="482.5" stroke="#000" stroke-width="1.9" stroke-dasharray="6.3,5.0"/>
<line x1="560.2" y1="283.5" x2="560.2" y2="482.5" stroke="#000" stroke-width="1.9" stroke-dasharray="6.3,5.0"/>
<rect x="406.8" y="283.1" width="261.5" height="205.8" fill="none" stroke="#000" stroke-width="1.6"/>
<line x1="439.49" y1="488.9" x2="439.49" y2="485.2" stroke="#000" stroke-width="1.6" />
<line x1="472.18" y1="488.9" x2="472.18" y2="481.4" stroke="#000" stroke-width="1.6" />
<line x1="504.86" y1="488.9" x2="504.86" y2="485.2" stroke="#000" stroke-width="1.6" />
<line x1="537.55" y1="488.9" x2="537.55" y2="481.4" stroke="#000" stroke-width="1.6" />
<line x1="570.24" y1="488.9" x2="570.24" y2="485.2" stroke="#000" stroke-width="1.6" />
<line x1="602.92" y1="488.9" x2="602.92" y2="481.4" stroke="#000" stroke-width="1.6" />
<line x1="635.61" y1="488.9" x2="635.61" y2="485.2" stroke="#000" stroke-width="1.6" />
<text x="406.8" y="509.2" font-family='"Liberation Sans", sans-serif' font-size="15.6" text-anchor="middle" fill="#000" font-weight="normal" font-style="normal"  stroke="#000" stroke-width="0.28">1000</text>
<text x="472.18" y="509.2" font-family='"Liberation Sans", sans-serif' font-size="15.6" text-anchor="middle" fill="#000" font-weight="normal" font-style="normal"  stroke="#000" stroke-width="0.28">1250</text>
<text x="537.55" y="509.2" font-family='"Liberation Sans", sans-serif' font-size="15.6" text-anchor="middle" fill="#000" font-weight="normal" font-style="normal"  stroke="#000" stroke-width="0.28">1500</text>
<text x="602.92" y="509.2" font-family='"Liberation Sans", sans-serif' font-size="15.6" text-anchor="middle" fill="#000" font-weight="normal" font-style="normal"  stroke="#000" stroke-width="0.28">1750</text>
<text x="668.3" y="509.2" font-family='"Liberation Sans", sans-serif' font-size="15.6" text-anchor="middle" fill="#000" font-weight="normal" font-style="normal"  stroke="#000" stroke-width="0.28">2000</text>
<text x="537.9" y="533.2" font-family='"Liberation Sans", sans-serif' font-size="16.2" text-anchor="middle" stroke="#000" stroke-width="0.28">Raman shift (cm<tspan font-size="10.5" dy="-6">-1</tspan><tspan dy="6">)</tspan></text>
<text x="396.5" y="385.2" font-family='"Liberation Sans", sans-serif' font-size="16.2" text-anchor="middle" fill="#000" font-weight="normal" font-style="normal" transform="rotate(-90 396.5 385.2)" stroke="#000" stroke-width="0.28">Intensity (arb.u.)</text>
<text x="420.6" y="301" font-family='"Liberation Sans", sans-serif' font-size="15.6" text-anchor="start" fill="#000" font-weight="normal" font-style="normal"  stroke="#000" stroke-width="0.28">S2</text>
<text x="347.7" y="286.9" font-family='"Liberation Sans", sans-serif' font-size="22" text-anchor="start" fill="#000" font-weight="bold" font-style="normal" >e</text>
<text x="658" y="328.7" font-family='"Liberation Sans", sans-serif' font-size="15.6" text-anchor="end" fill="#000" font-weight="normal" font-style="normal"  stroke="#000" stroke-width="0.28">1000 °C</text>
<text x="658" y="351.6" font-family='"Liberation Sans", sans-serif' font-size="15.6" text-anchor="end" fill="#000" font-weight="normal" font-style="normal"  stroke="#000" stroke-width="0.28">950 °C</text>
<text x="658" y="375.2" font-family='"Liberation Sans", sans-serif' font-size="15.6" text-anchor="end" fill="#000" font-weight="normal" font-style="normal"  stroke="#000" stroke-width="0.28">900 °C</text>
<text x="658" y="397.4" font-family='"Liberation Sans", sans-serif' font-size="15.6" text-anchor="end" fill="#000" font-weight="normal" font-style="normal"  stroke="#000" stroke-width="0.28">850 °C</text>
<text x="658" y="418.7" font-family='"Liberation Sans", sans-serif' font-size="15.6" text-anchor="end" fill="#000" font-weight="normal" font-style="normal"  stroke="#000" stroke-width="0.28">800 °C</text>
<text x="658" y="440.9" font-family='"Liberation Sans", sans-serif' font-size="15.6" text-anchor="end" fill="#000" font-weight="normal" font-style="normal"  stroke="#000" stroke-width="0.28">700 °C</text>
<text x="658" y="464.9" font-family='"Liberation Sans", sans-serif' font-size="15.6" text-anchor="end" fill="#000" font-weight="normal" font-style="normal"  stroke="#000" stroke-width="0.28">25 °C</text>
<rect x="57.6" y="559.0" width="261.40" height="204.60" fill="url(#gf)"/>
<rect x="57.6" y="559" width="261.4" height="204.6" fill="none" stroke="#000" stroke-width="1.6"/>
<line x1="57.6" y1="660.9" x2="319" y2="660.9" stroke="#000" stroke-width="1.7" />
<line x1="68.97" y1="559" x2="68.97" y2="566.6" stroke="#000" stroke-width="1.6" />
<line x1="68.97" y1="660.9" x2="68.97" y2="653.3" stroke="#000" stroke-width="1.6" />
<line x1="68.97" y1="763.6" x2="68.97" y2="756" stroke="#000" stroke-width="1.6" />
<line x1="97.38" y1="559" x2="97.38" y2="562.8" stroke="#000" stroke-width="1.6" />
<line x1="97.38" y1="660.9" x2="97.38" y2="657.1" stroke="#000" stroke-width="1.6" />
<line x1="97.38" y1="763.6" x2="97.38" y2="759.8" stroke="#000" stroke-width="1.6" />
<line x1="125.79" y1="559" x2="125.79" y2="566.6" stroke="#000" stroke-width="1.6" />
<line x1="125.79" y1="660.9" x2="125.79" y2="653.3" stroke="#000" stroke-width="1.6" />
<line x1="125.79" y1="763.6" x2="125.79" y2="756" stroke="#000" stroke-width="1.6" />
<line x1="154.2" y1="559" x2="154.2" y2="562.8" stroke="#000" stroke-width="1.6" />
<line x1="154.2" y1="660.9" x2="154.2" y2="657.1" stroke="#000" stroke-width="1.6" />
<line x1="154.2" y1="763.6" x2="154.2" y2="759.8" stroke="#000" stroke-width="1.6" />
<line x1="182.62" y1="559" x2="182.62" y2="566.6" stroke="#000" stroke-width="1.6" />
<line x1="182.62" y1="660.9" x2="182.62" y2="653.3" stroke="#000" stroke-width="1.6" />
<line x1="182.62" y1="763.6" x2="182.62" y2="756" stroke="#000" stroke-width="1.6" />
<line x1="211.03" y1="559" x2="211.03" y2="562.8" stroke="#000" stroke-width="1.6" />
<line x1="211.03" y1="660.9" x2="211.03" y2="657.1" stroke="#000" stroke-width="1.6" />
<line x1="211.03" y1="763.6" x2="211.03" y2="759.8" stroke="#000" stroke-width="1.6" />
<line x1="239.44" y1="559" x2="239.44" y2="566.6" stroke="#000" stroke-width="1.6" />
<line x1="239.44" y1="660.9" x2="239.44" y2="653.3" stroke="#000" stroke-width="1.6" />
<line x1="239.44" y1="763.6" x2="239.44" y2="756" stroke="#000" stroke-width="1.6" />
<line x1="267.86" y1="559" x2="267.86" y2="562.8" stroke="#000" stroke-width="1.6" />
<line x1="267.86" y1="660.9" x2="267.86" y2="657.1" stroke="#000" stroke-width="1.6" />
<line x1="267.86" y1="763.6" x2="267.86" y2="759.8" stroke="#000" stroke-width="1.6" />
<line x1="296.27" y1="559" x2="296.27" y2="566.6" stroke="#000" stroke-width="1.6" />
<line x1="296.27" y1="660.9" x2="296.27" y2="653.3" stroke="#000" stroke-width="1.6" />
<line x1="296.27" y1="763.6" x2="296.27" y2="756" stroke="#000" stroke-width="1.6" />
<line x1="57.6" y1="647.7" x2="65.4" y2="647.7" stroke="#000" stroke-width="1.6" />
<line x1="319" y1="647.7" x2="311.2" y2="647.7" stroke="#000" stroke-width="1.6" />
<line x1="57.6" y1="625.5" x2="61.5" y2="625.5" stroke="#000" stroke-width="1.6" />
<line x1="319" y1="625.5" x2="315.1" y2="625.5" stroke="#000" stroke-width="1.6" />
<line x1="57.6" y1="603.3" x2="65.4" y2="603.3" stroke="#000" stroke-width="1.6" />
<line x1="319" y1="603.3" x2="311.2" y2="603.3" stroke="#000" stroke-width="1.6" />
<line x1="57.6" y1="581.1" x2="61.5" y2="581.1" stroke="#000" stroke-width="1.6" />
<line x1="319" y1="581.1" x2="315.1" y2="581.1" stroke="#000" stroke-width="1.6" />
<text x="48.5" y="653.1" font-family='"Liberation Sans", sans-serif' font-size="15.6" text-anchor="end" fill="#000" font-weight="normal" font-style="normal"  stroke="#000" stroke-width="0.28">5</text>
<text x="48.5" y="608.7" font-family='"Liberation Sans", sans-serif' font-size="15.6" text-anchor="end" fill="#000" font-weight="normal" font-style="normal"  stroke="#000" stroke-width="0.28">15</text>
<text x="48.5" y="564.3" font-family='"Liberation Sans", sans-serif' font-size="15.6" text-anchor="end" fill="#000" font-weight="normal" font-style="normal"  stroke="#000" stroke-width="0.28">25</text>
<line x1="57.6" y1="753.3" x2="65.4" y2="753.3" stroke="#000" stroke-width="1.6" />
<line x1="319" y1="753.3" x2="311.2" y2="753.3" stroke="#000" stroke-width="1.6" />
<line x1="57.6" y1="732.72" x2="61.5" y2="732.72" stroke="#000" stroke-width="1.6" />
<line x1="319" y1="732.72" x2="315.1" y2="732.72" stroke="#000" stroke-width="1.6" />
<line x1="57.6" y1="712.14" x2="65.4" y2="712.14" stroke="#000" stroke-width="1.6" />
<line x1="319" y1="712.14" x2="311.2" y2="712.14" stroke="#000" stroke-width="1.6" />
<line x1="57.6" y1="691.56" x2="61.5" y2="691.56" stroke="#000" stroke-width="1.6" />
<line x1="319" y1="691.56" x2="315.1" y2="691.56" stroke="#000" stroke-width="1.6" />
<line x1="57.6" y1="670.98" x2="65.4" y2="670.98" stroke="#000" stroke-width="1.6" />
<line x1="319" y1="670.98" x2="311.2" y2="670.98" stroke="#000" stroke-width="1.6" />
<text x="48.5" y="758.7" font-family='"Liberation Sans", sans-serif' font-size="15.6" text-anchor="end" fill="#000" font-weight="normal" font-style="normal"  stroke="#000" stroke-width="0.28">0.0</text>
<text x="48.5" y="717.54" font-family='"Liberation Sans", sans-serif' font-size="15.6" text-anchor="end" fill="#000" font-weight="normal" font-style="normal"  stroke="#000" stroke-width="0.28">0.4</text>
<text x="48.5" y="676.38" font-family='"Liberation Sans", sans-serif' font-size="15.6" text-anchor="end" fill="#000" font-weight="normal" font-style="normal"  stroke="#000" stroke-width="0.28">0.8</text>
<text x="68.97" y="784" font-family='"Liberation Sans", sans-serif' font-size="15.6" text-anchor="middle" fill="#000" font-weight="normal" font-style="normal"  stroke="#000" stroke-width="0.28">0</text>
<text x="125.79" y="784" font-family='"Liberation Sans", sans-serif' font-size="15.6" text-anchor="middle" fill="#000" font-weight="normal" font-style="normal"  stroke="#000" stroke-width="0.28">250</text>
<text x="182.62" y="784" font-family='"Liberation Sans", sans-serif' font-size="15.6" text-anchor="middle" fill="#000" font-weight="normal" font-style="normal"  stroke="#000" stroke-width="0.28">500</text>
<text x="239.44" y="784" font-family='"Liberation Sans", sans-serif' font-size="15.6" text-anchor="middle" fill="#000" font-weight="normal" font-style="normal"  stroke="#000" stroke-width="0.28">750</text>
<text x="296.27" y="784" font-family='"Liberation Sans", sans-serif' font-size="15.6" text-anchor="middle" fill="#000" font-weight="normal" font-style="normal"  stroke="#000" stroke-width="0.28">1000</text>
<text x="189" y="807.7" font-family='"Liberation Sans", sans-serif' font-size="16.2" text-anchor="middle" stroke="#000" stroke-width="0.28"><tspan font-style="italic">T</tspan><tspan font-size="11" dy="4">A</tspan><tspan dy="-4"> (°C)</tspan></text>
<text x="15" y="667.5" font-family='"Liberation Sans", sans-serif' font-size="16.2" text-anchor="middle" transform="rotate(-90 15 667.5)" stroke="#000" stroke-width="0.28"><tspan font-style="italic">I</tspan><tspan font-size="11" dy="4">Dia</tspan><tspan dy="-4">/</tspan><tspan font-style="italic">I</tspan><tspan font-size="11" dy="4">G</tspan></text>
<text x="100.7" y="584.7" font-family='"Liberation Sans", sans-serif' font-size="15.6" text-anchor="start" fill="#0000ff" font-weight="normal" font-style="normal"  stroke="#0000ff" stroke-width="0.28">S1</text>
<text x="100.7" y="745.6" font-family='"Liberation Sans", sans-serif' font-size="15.6" text-anchor="start" fill="#ff0000" font-weight="normal" font-style="normal"  stroke="#ff0000" stroke-width="0.28">S2</text>
<text x="2" y="560.4" font-family='"Liberation Sans", sans-serif' font-size="22" text-anchor="start" fill="#000" font-weight="bold" font-style="normal" >f</text>
<rect x="70.50" y="609.80" width="8.2" height="8.2" fill="none" stroke="#0000ff" stroke-width="1.5"/>
<rect x="110.00" y="617.80" width="8.2" height="8.2" fill="none" stroke="#0000ff" stroke-width="1.5"/>
<rect x="155.60" y="614.10" width="8.2" height="8.2" fill="none" stroke="#0000ff" stroke-width="1.5"/>
<rect x="201.20" y="608.70" width="8.2" height="8.2" fill="none" stroke="#0000ff" stroke-width="1.5"/>
<rect x="223.90" y="600.10" width="8.2" height="8.2" fill="none" stroke="#0000ff" stroke-width="1.5"/>
<rect x="246.50" y="620.50" width="8.2" height="8.2" fill="none" stroke="#0000ff" stroke-width="1.5"/>
<rect x="257.90" y="628.50" width="8.2" height="8.2" fill="none" stroke="#0000ff" stroke-width="1.5"/>
<rect x="269.30" y="612.90" width="8.2" height="8.2" fill="none" stroke="#0000ff" stroke-width="1.5"/>
<rect x="280.50" y="607.30" width="8.2" height="8.2" fill="none" stroke="#0000ff" stroke-width="1.5"/>
<rect x="291.90" y="615.30" width="8.2" height="8.2" fill="none" stroke="#0000ff" stroke-width="1.5"/>
<circle cx="74.6" cy="706.5" r="4.5" fill="none" stroke="#ff0000" stroke-width="1.7"/>
<circle cx="114.1" cy="721.1" r="4.5" fill="none" stroke="#ff0000" stroke-width="1.7"/>
<circle cx="159.7" cy="723.1" r="4.5" fill="none" stroke="#ff0000" stroke-width="1.7"/>
<circle cx="205.3" cy="738.2" r="4.5" fill="none" stroke="#ff0000" stroke-width="1.7"/>
<circle cx="228" cy="726.6" r="4.5" fill="none" stroke="#ff0000" stroke-width="1.7"/>
<circle cx="250.6" cy="713" r="4.5" fill="none" stroke="#ff0000" stroke-width="1.7"/>
<circle cx="262" cy="728" r="4.5" fill="none" stroke="#ff0000" stroke-width="1.7"/>
<circle cx="273.4" cy="739.6" r="4.5" fill="none" stroke="#ff0000" stroke-width="1.7"/>
<circle cx="284.6" cy="743.6" r="4.5" fill="none" stroke="#ff0000" stroke-width="1.7"/>
<circle cx="296" cy="749" r="4.5" fill="none" stroke="#ff0000" stroke-width="1.7"/>
<rect x="426.00" y="712.61" width="16.8" height="51.49" fill="url(#gb0)" stroke="#000" stroke-width="1.7"/>
<text x="446.4" y="781.3" font-family='"Liberation Sans", sans-serif' font-size="15.6" text-anchor="end" fill="#000" font-weight="normal" font-style="normal" transform="rotate(-45 446.40 781.3)" stroke="#000" stroke-width="0.28">DLN</text>
<rect x="460.77" y="702.32" width="16.8" height="61.78" fill="url(#gb1)" stroke="#000" stroke-width="1.7"/>
<text x="481.17" y="781.3" font-family='"Liberation Sans", sans-serif' font-size="15.6" text-anchor="end" fill="#000" font-weight="normal" font-style="normal" transform="rotate(-45 481.17 781.3)" stroke="#000" stroke-width="0.28">DLC</text>
<rect x="495.54" y="695.11" width="16.8" height="68.99" fill="url(#gb2)" stroke="#000" stroke-width="1.7"/>
<text x="515.94" y="781.3" font-family='"Liberation Sans", sans-serif' font-size="15.6" text-anchor="end" fill="#000" font-weight="normal" font-style="normal" transform="rotate(-45 515.94 781.3)" stroke="#000" stroke-width="0.28">Nano-dia.</text>
<rect x="530.31" y="676.57" width="16.8" height="87.53" fill="url(#gb3)" stroke="#000" stroke-width="1.7"/>
<text x="550.71" y="781.3" font-family='"Liberation Sans", sans-serif' font-size="15.6" text-anchor="end" fill="#000" font-weight="normal" font-style="normal" transform="rotate(-45 550.71 781.3)" stroke="#000" stroke-width="0.28">CVD dia.</text>
<rect x="565.08" y="671.42" width="16.8" height="92.68" fill="url(#gb4)" stroke="#000" stroke-width="1.7"/>
<text x="585.48" y="781.3" font-family='"Liberation Sans", sans-serif' font-size="15.6" text-anchor="end" fill="#000" font-weight="normal" font-style="normal" transform="rotate(-45 585.48 781.3)" stroke="#000" stroke-width="0.28">Co-PCD</text>
<rect x="599.85" y="661.12" width="16.8" height="102.98" fill="url(#gb5)" stroke="#000" stroke-width="1.7"/>
<text x="620.25" y="781.3" font-family='"Liberation Sans", sans-serif' font-size="15.6" text-anchor="end" fill="#e8509a" font-weight="normal" font-style="normal" transform="rotate(-45 620.25 781.3)" stroke="#e8509a" stroke-width="0.28">This work</text>
<rect x="634.62" y="609.64" width="16.8" height="154.46" fill="url(#gb6)" stroke="#000" stroke-width="1.7"/>
<text x="655.02" y="781.3" font-family='"Liberation Sans", sans-serif' font-size="15.6" text-anchor="end" fill="#000" font-weight="normal" font-style="normal" transform="rotate(-45 655.02 781.3)" stroke="#000" stroke-width="0.28">Natural dia.</text>
<rect x="407.05" y="558.15" width="260.55" height="205.95" fill="none" stroke="#000" stroke-width="1.6"/>
<line x1="407.05" y1="733.21" x2="410.65" y2="733.21" stroke="#000" stroke-width="1.6" />
<line x1="407.05" y1="702.32" x2="414.65" y2="702.32" stroke="#000" stroke-width="1.6" />
<line x1="407.05" y1="671.42" x2="410.65" y2="671.42" stroke="#000" stroke-width="1.6" />
<line x1="407.05" y1="640.53" x2="414.65" y2="640.53" stroke="#000" stroke-width="1.6" />
<line x1="407.05" y1="609.64" x2="410.65" y2="609.64" stroke="#000" stroke-width="1.6" />
<line x1="407.05" y1="578.75" x2="414.65" y2="578.75" stroke="#000" stroke-width="1.6" />
<text x="397.2" y="769.5" font-family='"Liberation Sans", sans-serif' font-size="15.6" text-anchor="end" fill="#000" font-weight="normal" font-style="normal"  stroke="#000" stroke-width="0.28">0</text>
<text x="397.2" y="707.72" font-family='"Liberation Sans", sans-serif' font-size="15.6" text-anchor="end" fill="#000" font-weight="normal" font-style="normal"  stroke="#000" stroke-width="0.28">600</text>
<text x="397.2" y="645.93" font-family='"Liberation Sans", sans-serif' font-size="15.6" text-anchor="end" fill="#000" font-weight="normal" font-style="normal"  stroke="#000" stroke-width="0.28">1200</text>
<text x="397.2" y="584.14" font-family='"Liberation Sans", sans-serif' font-size="15.6" text-anchor="end" fill="#000" font-weight="normal" font-style="normal"  stroke="#000" stroke-width="0.28">1800</text>
<text x="354.2" y="659.4" font-family='"Liberation Sans", sans-serif' font-size="16.2" text-anchor="middle" transform="rotate(-90 354.2 659.4)" stroke="#000" stroke-width="0.28"><tspan font-style="italic">T</tspan> (°C)</text>
<text x="347.9" y="559.8" font-family='"Liberation Sans", sans-serif' font-size="22" text-anchor="start" fill="#000" font-weight="bold" font-style="normal" >g</text>
</svg>
</body></html>
